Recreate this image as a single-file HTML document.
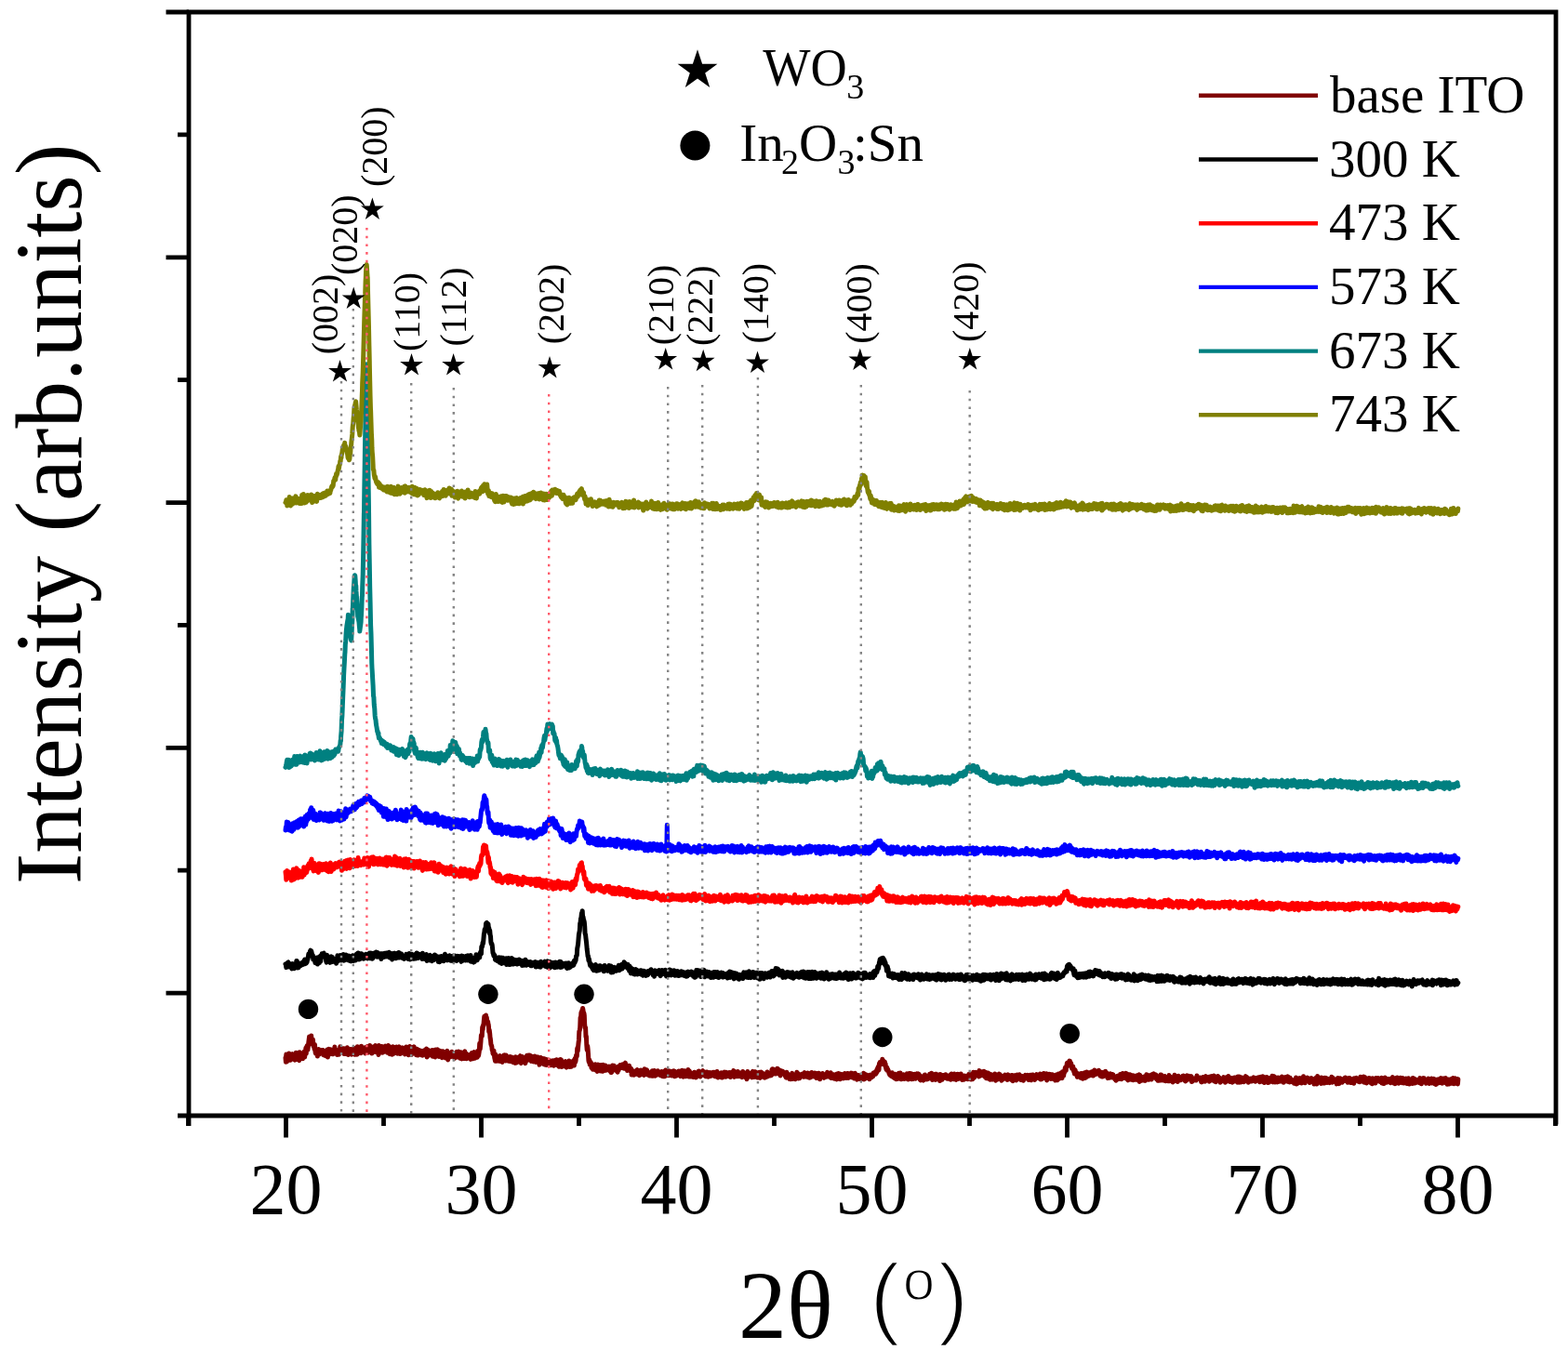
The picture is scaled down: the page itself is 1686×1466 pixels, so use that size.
<!DOCTYPE html>
<html><head><meta charset="utf-8"><title>XRD</title>
<style>
html,body{margin:0;padding:0;background:#fff;}
svg{display:block;}
text{font-family:"Liberation Serif","Times New Roman",serif;fill:#000;}
text.ss{font-family:"Liberation Sans",Arial,sans-serif;}
</style></head><body>
<svg width="1686" height="1466" viewBox="0 0 1686 1466">
<rect width="1686" height="1466" fill="#fff"/>
<g fill="none" stroke-width="5" stroke-linejoin="round" stroke-linecap="round">
<path d="M307.0 1137.6l.4 4.7 .4-8.2 .5 7.9 .4-5.5 .4 2.6 .4 1.6 .4-3.8 .5 .9 .4-4.9 .4 7.4 .4-1.3 .4-3.3 .5 4.5 .4-4.9 .4 1.7 .4-2.7 .4 .6 .5-1.2 .4 1.7 .4 1.7 .4-2.5 .4 1.4 .5 3.6 .4 .5 .4-1.8 .4-1.4 .4-4.7 .5 2.3 .4 5 .4-2.6 .4-4.2 .4 3.8 .5 1.7 .4 1.1 .4 1.3 .4-8.8 .4 4.5 .5 0 .4-3.7 .4 4.3 .4 1.5 .4-3 .5-1.5 .4 4.9 .4-2 .4-2.4 .4 2.6 .5-6 .4 6.1 .4-2.8 .4-.4 .4-6.6 .5 5.8 .4-6.8 .4-1.5 .4 3.6 .4 .9 .5-4.1 .4-4 .4-3.2 .4-3.1 .4 3.3 .5-.8 .4 .5 .4-3.2 .4-.7 .4 4.4 .5 1.5 .4 3.3 .4-5.2 .4 4.5 .4 3.3 .5-1.9 .4 4.7 .4-5.1 .4 6.7 .4 2.7 .5-.8 .4 1.4 .4-.3 .4-3.9 .4 6.7 .5-7.2 .4 4.9 .4-5.1 .4 5.7 .4-3.4 .5 .3 .4 .3 .4 1.6 .4-2.6 .4 1.8 .5-2.8 .4 1.3 .4 1.6 .4-2.9 .4 5 .5-3.1 .4 3.5 .4-1.4 .4-.9 .4 2.8 .5-2.2 .4 1.4 .4-2.2 .4-.7 .4-2.8 .5 8.2 .4-7.6 .4 .5 .4-1.6 .4 3.6 .5 1.8 .4-.6 .4-4.5 .4 2.4 .4 .5 .5 .4 .4-.4 .4 2.2 .4-.9 .4 .8 .5-3 .4 .2 .4-1.1 .4-3.8 .4 3.4 .5-.6 .4 .3 .4 1 .4-.6 .4 4.9 .5-1.1 .4 .2 .4-.4 .4-.2 .4 1.2 .5-1.3 .4-1.8 .4-5.2 .4 3.9 .4-.1 .5-2.5 .4 3.2 .4 1.3 .4-3.3 .4 3.2 .5-1.5 .4-2.2 .4 5.7 .4-4.4 .4 .6 .5 3.9 .4-5.8 .4 5.4 .4-5.7 .4 1.9 .5-2.6 .4 7.2 .4-4.4 .4 5 .4-3.7 .5 1.9 .4-1.4 .4-2 .4-.7 .4 5.1 .5-5.4 .4 5.8 .4-.9 .4-2.8 .4 .9 .5-1.7 .4-.5 .4 2.3 .4-4.2 .4 5.2 .5 1.8 .4-6.5 .4 4.7 .4-3 .4-1.7 .5 6.4 .4-8.5 .4 3.1 .4 3.5 .4-3.6 .5 4.1 .4-2.3 .4 1.4 .4-0 .4-3.8 .5 4.6 .4-7.4 .4 3.7 .4-.4 .4 2.1 .5-4.3 .4 .7 .4 2.4 .4-1.6 .4 3 .5 .3 .4 1.8 .4-2.7 .4-.4 .4-3.6 .5 5.7 .4-4.5 .4-1.9 .4 6.6 .4-2.2 .5 1.8 .4-2.6 .4 1.4 .4-6.2 .4 1.8 .5 3.7 .4 0 .4-2.2 .4 5.3 .4-5.7 .5 2 .4-3.3 .4 5.7 .4-4 .4-.5 .5-1.1 .4-.3 .4-1.1 .4 4.8 .4-1.6 .5 3.9 .4-0 .4-.6 .4-.7 .4 1.6 .5 2.4 .4-9.9 .4 1.7 .4 1.1 .4-2 .5 5 .4-2.5 .4-1.2 .4 2 .4-3.1 .5 6.7 .4-1.5 .4 .4 .4-5 .4 2.5 .5 2.6 .4-5.7 .4 1.8 .4-2.3 .4 1.8 .5-.6 .4 1.7 .4 2.1 .4 2.1 .4-4.6 .5-3.2 .4 7.5 .4-5.8 .4-.2 .4 7.8 .5-1.9 .4-2.7 .4-1.8 .4 1.4 .4 .5 .5 5.1 .4-4.8 .4-3.8 .4 7.9 .4-2.7 .5-1.9 .4-1.4 .4 1.4 .4-2.3 .4 5.7 .5-2.1 .4-4.2 .4 6.7 .4-.3 .4 .7 .5-1.5 .4-1 .4-3.7 .4-1.2 .4 .6 .5 7.2 .4-2.4 .4 2.1 .4-5 .4 3.9 .5-5.3 .4 .9 .4-.8 .4 3.3 .4 .4 .5-1.2 .4-0 .4 .7 .4 3.7 .4-5.5 .5 4.6 .4-7 .4 2.6 .4 1.8 .4 1.5 .5-2.9 .4 .7 .4 5 .4-3.4 .4-1.1 .5-4.6 .4 1.3 .4 1.2 .4-.4 .4 6.9 .5-7.1 .4 1.3 .4-2.3 .4 6.7 .4-5.6 .5-.6 .4-1.2 .4 2.5 .4 2.9 .4 2.2 .5-4 .4-.1 .4 5.5 .4-2.3 .4-4.2 .5 5.3 .4 1.4 .4-5.7 .4 4.2 .4-4 .5 3.2 .4-.2 .4-.9 .4 .3 .4 .2 .5-1.8 .4 4.8 .4-4.5 .4 4.7 .4-3.5 .5-0 .4-1.4 .4-.5 .4 1.4 .4 1.3 .5-.6 .4-2.1 .4 4.3 .4-6.2 .4 8.9 .5-2.3 .4 1.2 .4-1 .4-5.3 .4 2.7 .5 .2 .4 2.5 .4-4.3 .4 3 .4-3.2 .5 2 .4 .4 .4-.1 .4-3.2 .4 6.8 .5-.9 .4-.1 .4-1.4 .4 2.7 .4-.6 .5 1 .4-8.1 .4 2.2 .4 .7 .4 .6 .5-2.5 .4-1 .4 2.6 .4 2.9 .4-2.3 .5 4.4 .4-4.3 .4-1.9 .4 5.5 .4-4 .5 .4 .4-1.5 .4 5.5 .4 1.5 .4-2.9 .5-4 .4 4.7 .4-4.3 .4 .9 .4 2.4 .5-1.1 .4-0 .4 4.7 .4-6.5 .4 3.3 .5-3.4 .4-1.2 .4 3 .4 6.6 .4-2.1 .5-.5 .4-4.8 .4 4.4 .4-1.9 .4 1.5 .5 .1 .4-2.9 .4 .3 .4-2.7 .4 3 .5 1.3 .4-2.8 .4 .6 .4-.5 .4 2.2 .5 3.2 .4-.9 .4-2.5 .4 2.5 .4-5.2 .5-.7 .4 1.7 .4-1.4 .4 5.1 .4-1.8 .5-4.1 .4 5.9 .4-1.4 .4-.2 .4 2.9 .5-.1 .4-5.6 .4-.6 .4 7 .4-6.4 .5 4.6 .4-3.1 .4-.7 .4 2.1 .4 3.1 .5-6.6 .4-1.1 .4 5.7 .4-2 .4-1.6 .5 5.9 .4-5.1 .4 3.5 .4 .4 .4-1.2 .5-1.6 .4 2.8 .4 .3 .4-3.3 .4 1.9 .5 .5 .4 2.4 .4-1.6 .4 1.1 .4-6.5 .5 3 .4 .8 .4 2.5 .4-4 .4-.7 .5-2.4 .4 3.3 .4 3.4 .4-5.4 .4 1.8 .5-1.7 .4 1.6 .4-.9 .4 3.5 .4-6.6 .5 .9 .4 3.9 .4-1.9 .4-2.8 .4-8.4 .5 6.2 .4-3.8 .4-4.6 .4-6.4 .4-.8 .5 1.5 .4-9.6 .4 2.7 .4-4.9 .4 .6 .5-6 .4-4 .4 2.7 .4-3.2 .4 1 .5-1.7 .4 2.9 .4-.3 .4 3.6 .4 .6 .5-0 .4 2.8 .4 1.8 .4 6.4 .4-2 .5 4 .4 4.8 .4 1.9 .4 4.6 .4 1.2 .5 1.2 .4 4.1 .4-.6 .4 4.1 .4 .7 .5-3.9 .4 3 .4 4.5 .4 1.9 .4 1.9 .5-6.9 .4 6.9 .4-0 .4-0 .4-1.8 .5-.2 .4 1.1 .4-.6 .4 1.4 .4-4 .5-.2 .4-1.3 .4 5.9 .4-.6 .4-3.9 .5 4.4 .4-4.6 .4 5.6 .4-5.1 .4-.3 .5 .3 .4-2.4 .4 1.1 .4-1.1 .4 .6 .5 5.4 .4-.7 .4-5.3 .4 4.5 .4-.3 .5-1.8 .4 .4 .4 .1 .4 3.5 .4-3.4 .5 .1 .4 3.4 .4-4.9 .4 3.2 .4-1.1 .5 3.2 .4-4.9 .4 1.1 .4-.3 .4 4.3 .5 .6 .4-3.3 .4 1.8 .4 .4 .4 .7 .5 1.1 .4-6.6 .4 6.6 .4-4.3 .4-1.2 .5-.4 .4 5.2 .4-4.3 .4 2.7 .4-3.5 .5 .4 .4-.6 .4-.7 .4-.9 .4 5.2 .5 2.7 .4-6.5 .4-.3 .4 .3 .4-.5 .5 3.5 .4-.6 .4-.9 .4 4 .4-.9 .5 .4 .4 1.5 .4-3.2 .4-2 .4-2 .5-1 .4 4.2 .4 .7 .4-2.2 .4-3.2 .5 1.6 .4 3.3 .4-4.8 .4 1.7 .4 1.1 .5 2.1 .4 1.5 .4-5.4 .4 3.8 .4-.7 .5-.7 .4 1.7 .4 1.8 .4-4.3 .4 1.7 .5-3.3 .4 3.6 .4 2.1 .4 .7 .4-2.9 .5-2.2 .4 2 .4-.7 .4-1.7 .4 4.1 .5 1.5 .4 1.3 .4 1.4 .4-5.4 .4-.6 .5-1.7 .4 3.6 .4 2.3 .4-4.2 .4 3.8 .5-.8 .4-3.6 .4 3.8 .4 2.2 .4-1 .5-4.9 .4 5 .4 1.5 .4-5.7 .4 .1 .5 5.9 .4-5.8 .4 .7 .4 1.7 .4-1.8 .5 1.2 .4-1.1 .4 .8 .4 1.3 .4 .5 .5-2 .4 4.8 .4-1.4 .4 1.1 .4-3.4 .5 2.9 .4-3.3 .4-.8 .4 3 .4 2.4 .5-2.7 .4-1.7 .4-1.3 .4 3.7 .4-0 .5-.1 .4-4.5 .4 6 .4-2.3 .4-2.1 .5 .9 .4 4.3 .4 .6 .4-7.2 .4 2.4 .5 2.6 .4-5.4 .4 .2 .4 .4 .4 7.4 .5-2.3 .4-2.4 .4 3.3 .4-2.5 .4 3.1 .5-3.4 .4 1.2 .4-0 .4-1.6 .4-1.3 .5 5.9 .4 .5 .4-4.7 .4 2.1 .4 1.8 .5-4.5 .4 4.4 .4-1.2 .4-4.8 .4 1 .5 5.3 .4-1.3 .4-4.2 .4 4.6 .4 .6 .5-3.9 .4 2 .4-2.5 .4-.7 .4-1.1 .5 3.6 .4 1.5 .4-3.9 .4-3.5 .4 4 .5-1.7 .4-5.6 .4 .9 .4-0 .4-8.6 .5 2.8 .4-4.2 .4-4.2 .4-3.3 .4-9.2 .5-1.6 .4-2.6 .4-10.9 .4 2.1 .4-7.4 .5 1.1 .4-3.4 .4 .4 .4-2.8 .4 2 .5 5.2 .4-2.1 .4 2.7 .4 10.1 .4 3.5 .5-.5 .4 10.2 .4-.8 .4 9.4 .4 5.1 .5-4.3 .4 3.3 .4 5.5 .4 7 .4 1.7 .5-2.5 .4 5.1 .4-3.2 .4 1.1 .4-.1 .5 5.6 .4 .4 .4-1.6 .4-2.2 .4 5.2 .5-2.5 .4-2.2 .4 2.8 .4-.7 .4 2.3 .5-5.1 .4 6.3 .4-1 .4-4.1 .4 4.7 .5 1.7 .4-2.3 .4-5 .4 3.1 .4-.2 .5 3.8 .4-3.7 .4-2.3 .4 5.3 .4 .8 .5-3 .4-3.4 .4 5.3 .4 .1 .4 1.4 .5-7.1 .4 3.4 .4-1.1 .4-1.3 .4 5.3 .5-2.1 .4-3.5 .4 1 .4 4.3 .4-1.6 .5-1 .4 2.2 .4-3.2 .4 2.7 .4 .4 .5-3.8 .4 3.6 .4 1.3 .4 .4 .4-.6 .5 1.8 .4-.5 .4 .4 .4-4 .4-3.3 .5 1.4 .4 .8 .4-.5 .4-1.5 .4 3.3 .5-2 .4 1.5 .4 2.2 .4 .1 .4-.1 .5-1.8 .4 1.1 .4 2.7 .4-4.9 .4-1.1 .5 3.6 .4-2.6 .4-1.6 .4 1.2 .4-2.2 .5 3 .4-2.8 .4-.3 .4 .9 .4 .2 .5-1.8 .4 2 .4 2.2 .4-2.3 .4 2.6 .5-.4 .4-4.7 .4-1 .4 5.9 .4-4 .5 1.3 .4 1.7 .4 3.4 .4-4 .4 1.6 .5-.2 .4 2 .4-4.6 .4 4.9 .4-.4 .5 1.1 .4-2 .4-.4 .4 6.5 .4-1.2 .5 .9 .4-.3 .4 .3 .4-3.7 .4 4.2 .5-2.6 .4-.2 .4 1.7 .4-2.7 .4 2.8 .5-1.7 .4-2.5 .4-.3 .4 3.8 .4-2.7 .5 4 .4-3.7 .4-.5 .4 5.1 .4-2.4 .5 1.9 .4-.6 .4-4.5 .4 .8 .4 1.5 .5 2.1 .4-3.1 .4 2.6 .4-2.4 .4-.3 .5 4.1 .4-6.7 .4 1.8 .4 4 .4-0 .5-2.3 .4-0 .4-2.5 .4 2.6 .4 2.8 .5-2.9 .4 .5 .4 2.2 .4 .1 .4 1 .5-0 .4-1.2 .4-2.4 .4 .7 .4-1.6 .5 4.8 .4-5.6 .4 2.1 .4 3.5 .4-3.7 .5 2 .4-4.1 .4 2.2 .4 3.6 .4-1.4 .5-1.8 .4 1.3 .4 .2 .4 .4 .4-.4 .5-3.8 .4 .5 .4 3.1 .4-.1 .4-.7 .5-.9 .4-.4 .4 3.4 .4-3.3 .4 2 .5-2.9 .4 4.9 .4-4.1 .4 .8 .4 3.6 .5-4.9 .4-.3 .4 5.2 .4-0 .4-3.7 .5-3 .4 4.9 .4-3.4 .4 .3 .4 3.8 .5-1.4 .4-.3 .4-3.2 .4 2.1 .4 2.9 .5-3.5 .4-1.1 .4 2 .4-1.1 .4 .7 .5 3.3 .4-3.5 .4-0 .4 .1 .4-1.6 .5 .8 .4-1 .4 4 .4 1.9 .4-5.4 .5 5.2 .4-.5 .4-2.3 .4 2.4 .4-1.4 .5-1.2 .4-.3 .4 1 .4 .3 .4-3.4 .5 3.6 .4-1.4 .4 1.2 .4 2.1 .4-4.9 .5 2.1 .4-.9 .4-2.6 .4 4.9 .4 .3 .5 1.6 .4-3.2 .4-.6 .4 3.1 .4-5.7 .5 1.1 .4 4.9 .4-5.4 .4 1.8 .4 2.6 .5-2.9 .4-2.2 .4 5 .4-6.1 .4 7.4 .5-5 .4-.8 .4 3.6 .4-1 .4 3.4 .5-.6 .4-2.3 .4 .5 .4-1.4 .4 2.7 .5-2 .4 3.4 .4-1.3 .4-.8 .4-3 .5 .6 .4 1.1 .4 2.3 .4 1.6 .4-1.7 .5-3.1 .4 2.1 .4-.2 .4-.1 .4-3.6 .5-.2 .4 4.4 .4-2.6 .4 3.1 .4 .9 .5-1.1 .4-2 .4-1.4 .4-.9 .4-.3 .5-.5 .4 2.3 .4 2.5 .4-1.7 .4-1.7 .5 1 .4 1.1 .4 2.5 .4-2 .4-2.6 .5 2 .4-2.1 .4 5 .4-.7 .4-1.2 .5 2 .4-1.3 .4 .7 .4-4 .4 .9 .5 3.2 .4-.3 .4-3.3 .4 1.2 .4-.5 .5-.5 .4 2.1 .4-3 .4 .1 .4 .3 .5 3.7 .4-1.2 .4 .6 .4 1 .4-4.9 .5 2.1 .4-2.4 .4-.1 .4 5.6 .4 .8 .5-3 .4 .3 .4 1.6 .4 .5 .4-.1 .5-.1 .4-3.1 .4 2.2 .4-3.4 .4 5.2 .5-5.1 .4 5 .4-4.6 .4 .1 .4-.1 .5 .8 .4-2 .4 1 .4 4 .4 .1 .5-4.9 .4 3.3 .4-1.2 .4 1.1 .4 .8 .5-2.4 .4 1.8 .4 .2 .4-3.5 .4 4.5 .5-3.2 .4 3.8 .4-2.3 .4-2.6 .4 3.9 .5-2.4 .4 .8 .4-.7 .4 1.3 .4-4.9 .5 4.2 .4 2.6 .4-3.9 .4-1.7 .4 3.1 .5 .2 .4 .6 .4-1.5 .4 2.5 .4-.1 .5-5.2 .4 3.4 .4 1.3 .4-3.7 .4 4.4 .5-1.8 .4 .1 .4-1.2 .4-.6 .4-.4 .5 3 .4 1.7 .4-.8 .4-5.2 .4 .3 .5 3.1 .4 .8 .4-.2 .4 1.7 .4 .3 .5 .5 .4-4 .4 1.3 .4 4.4 .4-4.3 .5-4.1 .4 6.4 .4-1.9 .4-2.9 .4 2.2 .5-.8 .4 1.5 .4-2.3 .4 2.7 .4-.9 .5 1.7 .4 .7 .4-5.8 .4-.5 .4 4.6 .5-1.1 .4 2.5 .4-2.6 .4-3.1 .4 .2 .5 5.3 .4-5.2 .4 4.4 .4-1.3 .4 1.9 .5 .9 .4-3.1 .4 .2 .4 1.7 .4-3.1 .5-1.4 .4 .5 .4 5.6 .4-.6 .4-4.8 .5-.9 .4 4 .4-1.6 .4-.5 .4-.5 .5 1.7 .4 .1 .4 2.3 .4-.9 .4 1.5 .5-1.2 .4 .8 .4-3.6 .4 1.2 .4-1.6 .5-1.8 .4 5.1 .4-3.9 .4 1.1 .4 1.1 .5-.3 .4-1 .4 .5 .4 1.3 .4-.2 .5-.5 .4 .4 .4-6 .4 2.7 .4-3.5 .5 .3 .4-.1 .4 4.9 .4-3.4 .4 .7 .5 2 .4 .1 .4 .7 .4-2.6 .4 .4 .5 1.5 .4-5 .4 3 .4-2.5 .4 2.7 .5-.8 .4 3.6 .4-3.3 .4-.8 .4 5.7 .5-4 .4-1.1 .4 1.6 .4 .7 .4-2 .5 .2 .4 2.2 .4-.8 .4 1 .4 .3 .5-.7 .4 2.9 .4-1.6 .4 3.1 .4 .3 .5-5.7 .4 1.2 .4-0 .4 1.4 .4 1.1 .5 2.3 .4-.5 .4 1.7 .4-2 .4-.1 .5 2.3 .4-2.6 .4-2 .4-.5 .4-1.2 .5 6.1 .4-2.8 .4-1.4 .4 3.8 .4-1.2 .5-2.6 .4 3.3 .4 1.2 .4-5 .4 .7 .5-1.2 .4-2 .4 3.2 .4-2.3 .4 .6 .5 5.3 .4-.9 .4-1.1 .4 1.7 .4-.9 .5-.8 .4-1.5 .4-1 .4 .7 .4-.6 .5-.6 .4 2.4 .4 .5 .4-1.1 .4 1.4 .5-2.6 .4-2.1 .4 2 .4 .1 .4 1.9 .5-1.1 .4 1.7 .4-3.1 .4 2.3 .4-3.5 .5 4.4 .4 .5 .4 .2 .4 .1 .4-3.7 .5 3.6 .4-1.3 .4-2.8 .4-1.2 .4-.2 .5 4.5 .4-.2 .4-.3 .4-.1 .4-1 .5-1.8 .4 3.4 .4-4.1 .4 3.7 .4-3.1 .5 .9 .4 4 .4-0 .4-1 .4-4 .5 1.4 .4 .3 .4-1.8 .4 .3 .4 .3 .5 5.9 .4-5 .4 .6 .4-.7 .4 2.4 .5 .3 .4-0 .4-3.9 .4 1.1 .4 1.8 .5 .9 .4 1 .4-3.5 .4 1.4 .4-.6 .5 .5 .4-1.3 .4 2.5 .4-3.6 .4-1.3 .5 3.1 .4-1.7 .4 1.5 .4 1.7 .4-2.2 .5 1.2 .4 1.5 .4-1.1 .4-3.6 .4 5.8 .5-2.1 .4-1 .4 .6 .4 1.4 .4 1 .5-3.8 .4 4.1 .4-2.5 .4 3 .4-.7 .5-3.8 .4 .7 .4-.9 .4 5.3 .4-5.9 .5 1.7 .4 2 .4-.3 .4-4 .4 2.7 .5-.3 .4-.1 .4 4 .4-5.4 .4 3.3 .5-2.4 .4 3.6 .4-2.4 .4-1.6 .4 .1 .5 1.7 .4 2.3 .4-4.7 .4 4.2 .4-4.9 .5 1 .4 3 .4-2.8 .4 3.9 .4-4.9 .5 3.3 .4 .5 .4-4 .4 5 .4-3.5 .5 1.4 .4-2.1 .4 3.2 .4-1.7 .4-1.2 .5-1.5 .4 4.6 .4-4.4 .4 1.6 .4 1.5 .5-.7 .4 1 .4-1.1 .4 3.3 .4-5.3 .5-.2 .4 1.2 .4 1.3 .4 .6 .4 1.7 .5 1.9 .4-4.3 .4 3.3 .4-2.1 .4-1.5 .5 .1 .4 3.9 .4-3.5 .4 3.1 .4-1.5 .5 2 .4-4 .4 1.4 .4 2.2 .4-4.4 .5 4.1 .4-.9 .4-4.7 .4 6.8 .4-4 .5 .7 .4 .3 .4 1.9 .4-4.3 .4 .4 .5 2.1 .4-.4 .4-1 .4 1.6 .4 1.3 .5-.3 .4-2.9 .4 4.2 .4-1.2 .4-.7 .5-2.7 .4 .9 .4-.2 .4 1.9 .4-.7 .5-.6 .4 .3 .4-3.7 .4-.3 .4 .3 .5 .1 .4 .4 .4-1.6 .4 2.3 .4-.9 .5-.4 .4-3.6 .4 2.3 .4-3.4 .4-1.6 .5 3 .4 .1 .4-6.8 .4 2.1 .4-3.6 .5 2 .4-.3 .4-.8 .4 1.1 .4-1.4 .5-3.8 .4 5.3 .4-3.4 .4 .6 .4-.2 .5 3.7 .4-3.3 .4 2.8 .4-.4 .4 4.1 .5 1.9 .4-2.3 .4 .2 .4 3.3 .4-1.4 .5 1.4 .4 1 .4 1.8 .4 .8 .4 1.1 .5-1.7 .4 .3 .4-.4 .4 3 .4-3.5 .5-.1 .4 2.4 .4 .2 .4 2.3 .4-1.1 .5-.3 .4 2.3 .4-.8 .4-3.6 .4 3.2 .5 2.3 .4-0 .4-.6 .4-4 .4 4.5 .5-5.3 .4 .9 .4-1.8 .4 3.7 .4 1.1 .5-.8 .4-4.4 .4 6.7 .4-4.8 .4 4.8 .5-.6 .4-1.3 .4-2.4 .4 1.3 .4-2 .5 1 .4 3.7 .4-2 .4 .3 .4 .1 .5-2.4 .4 3.7 .4-3.8 .4-1.4 .4 4.7 .5-3.7 .4 5.2 .4-2.8 .4-2 .4-1.8 .5 5.3 .4-4 .4-1.1 .4 2.6 .4 .7 .5 2.8 .4-5.8 .4 4.8 .4-1.2 .4 1.9 .5-4.6 .4-.1 .4 1.6 .4-2 .4 1 .5 3.8 .4-.8 .4-4 .4-.4 .4 1.3 .5-.5 .4 1.3 .4-2.2 .4 .9 .4-.2 .5 1.7 .4 3.8 .4-4 .4 4.8 .4-3.4 .5 1.9 .4 .1 .4-1.1 .4 1 .4-.9 .5 2.6 .4-2.2 .4-2.1 .4-1.6 .4-.2 .5 3.2 .4-2.5 .4 .4 .4 4 .4-.9 .5-2.2 .4 2.7 .4-2 .4-.6 .4 2 .5-1.7 .4-3.2 .4 1.2 .4 2.7 .4-3.6 .5 4.3 .4-5.6 .4 5.4 .4 1.9 .4-3.2 .5-2.4 .4 4.9 .4-2.5 .4 1.8 .4-3.5 .5-1.2 .4 6 .4-4.8 .4-1.4 .4 4.7 .5-1.8 .4-0 .4-.8 .4 1.1 .4 .4 .5-0 .4-.6 .4 4.3 .4-7.1 .4 3.7 .5-3 .4 .6 .4 .5 .4 4 .4-2.2 .5-2.1 .4 1.9 .4-.7 .4 1 .4-2.8 .5 1.4 .4 1.4 .4-3.3 .4 .2 .4 3.2 .5-2.4 .4 3.4 .4-2.8 .4 .3 .4 2.6 .5-3.2 .4 .6 .4-.7 .4 .2 .4-1.1 .5 5.1 .4-3.1 .4-3.1 .4 5.8 .4-4.4 .5 3.7 .4-.5 .4-.1 .4 1.3 .4-5.7 .5 .7 .4 1.3 .4 .6 .4-1 .4 4.7 .5-6 .4 2.2 .4 1.6 .4-3.9 .4 5.2 .5-2.6 .4 1 .4-2.4 .4 .1 .4 1.5 .5 1.1 .4-4.3 .4 2.5 .4 1.4 .4 2.7 .5-3 .4 1.4 .4-1.9 .4-.5 .4 3.7 .5-4.3 .4 3.9 .4-1.8 .4 1 .4-2.2 .5 2.5 .4-.8 .4-2.4 .4-.3 .4 3.9 .5-3.6 .4 2.3 .4-4.1 .4 2.1 .4 .2 .5-.9 .4-1 .4 5.3 .4-2.3 .4-2.5 .5 2.1 .4 2.4 .4-2.7 .4-4.8 .4 2.3 .5 3.7 .4-2.7 .4-1.1 .4-1.7 .4-.4 .5 .4 .4 .5 .4 2.2 .4-2.1 .4 2.4 .5-3.1 .4 1 .4 3.4 .4-6.4 .4 4.3 .5 .5 .4-3.4 .4 4 .4-4.1 .4 3.2 .5-3.4 .4 2.7 .4-1.3 .4 2.4 .4-.2 .5-4 .4 5.2 .4-.8 .4 1.6 .4-5.1 .5 2.9 .4 3.6 .4-1.8 .4-2 .4 1.1 .5 2.8 .4-5.8 .4 6.3 .4-2.6 .4 2 .5-2 .4 3.5 .4-5.7 .4 1.5 .4 2.4 .5 1.5 .4-3.5 .4-1.2 .4 4.7 .4-2.1 .5-2.3 .4-.6 .4 1.9 .4-2.8 .4 5.8 .5 1.3 .4-1.5 .4 .2 .4-3.7 .4-.6 .5 4.4 .4-1.1 .4-0 .4-3.4 .4-1.3 .5 3.1 .4-2.4 .4 1.5 .4 1.3 .4-1.5 .5 5.1 .4-5 .4 1.2 .4 2.7 .4-1 .5-2.3 .4 1.7 .4-2 .4-.3 .4-1.2 .5 4.3 .4-1.3 .4-0 .4 .9 .4-.5 .5 2 .4-3.2 .4-2.3 .4 2 .4-.3 .5 1.7 .4-.9 .4-.7 .4-.1 .4 2.6 .5 1.2 .4-5 .4 4.3 .4-4.1 .4 6.1 .5-4.6 .4 1.6 .4 .5 .4-3.4 .4 3.3 .5-3.4 .4 2.6 .4-.5 .4 3.1 .4-5 .5-.8 .4 3.6 .4-2.2 .4 1.2 .4-1.7 .5 2.2 .4-3.5 .4 3.4 .4 1.1 .4 1.1 .5-4 .4 .8 .4 3.4 .4-4 .4 3.4 .5-.9 .4 2.3 .4-3.8 .4-.3 .4-0 .5-1.2 .4-.7 .4 3.1 .4-1.1 .4 1.1 .5 .6 .4-1.7 .4-1.9 .4 4.2 .4 .8 .5-3.4 .4 2.2 .4-2.5 .4 2.5 .4-3.9 .5 5 .4 .4 .4-5.4 .4 3.4 .4-2 .5-1.7 .4 4.1 .4-.1 .4 .1 .4-.2 .5 1.5 .4-4 .4 1 .4-1.4 .4 1.5 .5-2.9 .4 1.5 .4 1.9 .4-1.2 .4 1.3 .5 .7 .4-.1 .4-1.8 .4 .2 .4-3.1 .5 6 .4-0 .4-4.4 .4 2.6 .4-.5 .5 1.4 .4-1.1 .4-2.1 .4-2.5 .4 1.9 .5-.4 .4 2.8 .4-2.3 .4 3.2 .4 .4 .5-5.2 .4 7.1 .4-1.1 .4-3.9 .4 .8 .5-1.3 .4 1.7 .4-2.9 .4 3.7 .4-3.2 .5-.1 .4 4.8 .4-.3 .4-1.5 .4 1.6 .5-4.5 .4 .2 .4 1 .4 3.6 .4-1.1 .5-.6 .4-1.9 .4 1.6 .4 3.6 .4-4.2 .5-1.9 .4 2.9 .4 2.3 .4 .5 .4-6.2 .5 .3 .4-.7 .4 2 .4 3.2 .4-3.3 .5-.3 .4 1.3 .4-3.9 .4 2.8 .4 2 .5 .6 .4-6.7 .4 1.5 .4-1.3 .4 4.1 .5-4.2 .4 .8 .4-3 .4-2.3 .4 1.7 .5 1.3 .4-4.4 .4-1.7 .4-2 .4-.3 .5-0 .4 1.2 .4 1 .4-2.8 .4-1.3 .5 .1 .4 5.4 .4-2.4 .4-.8 .4 3.5 .5 2.3 .4-1.9 .4 .1 .4-.3 .4 2.5 .5 2.9 .4 .1 .4 2.4 .4-4.5 .4 .8 .5 3.1 .4 .4 .4 .9 .4-0 .4 2.7 .5-2.8 .4-.9 .4 2.6 .4-1.1 .4 .9 .5 .4 .4 1.2 .4 .5 .4-2.4 .4-2.3 .5 3.1 .4-1.4 .4 2 .4 2.1 .4-5.8 .5 5 .4-5.4 .4 3.9 .4-4.2 .4 5.8 .5-4.2 .4-1 .4 4.1 .4-5.6 .4 1.5 .5 1.5 .4-2 .4 1 .4 2.5 .4-3.6 .5 2.5 .4-2.3 .4 2.5 .4-3 .4 .8 .5 .7 .4-2.1 .4 2.7 .4-2.5 .4 4 .5-.1 .4-4.9 .4 3.5 .4-4.7 .4 1.4 .5 2.3 .4 .8 .4-1 .4-.6 .4-.4 .5 .1 .4 1.4 .4-1.2 .4-2.2 .4-.2 .5 1 .4 3.5 .4-1.3 .4 2.8 .4-3.4 .5 1 .4-1.5 .4 4.6 .4-4.5 .4 2.2 .5 2.2 .4-1.3 .4-1.3 .4-.6 .4 1.1 .5-3.3 .4-.1 .4 1.5 .4-.5 .4 2.2 .5 .1 .4 3.1 .4 .8 .4-4.8 .4 3.3 .5 .7 .4 .4 .4-4.1 .4-.2 .4 1.2 .5 .8 .4-1.4 .4 1.4 .4 2 .4-3.5 .5 .7 .4-.1 .4 2.2 .4-1.2 .4 1.4 .5 2.4 .4-1.1 .4-.2 .4 2.7 .4-.8 .5-3.5 .4 .9 .4-1.4 .4 1 .4 2.4 .5-2.4 .4-1.6 .4 1.6 .4-.1 .4-2.8 .5 1.4 .4-1.4 .4 5.3 .4-1.3 .4-2.4 .5-2.6 .4 1.5 .4-.2 .4 3.6 .4-4.4 .5 2 .4-.1 .4-.3 .4-.6 .4-1.6 .5 6 .4-5.3 .4 .6 .4 5.3 .4 .8 .5-1.8 .4-4 .4 .6 .4-.5 .4-.3 .5 3.4 .4-3 .4 5.1 .4-2.9 .4-1.3 .5-.3 .4 2.9 .4 2 .4-1.9 .4-2.8 .5 3.7 .4-2.2 .4 1.2 .4 1.5 .4-1.8 .5-2.4 .4 4.2 .4-4.4 .4 4.7 .4-1.9 .5-.8 .4-2.4 .4-.4 .4 7.4 .4-7.1 .5 .9 .4 1.3 .4 3.9 .4-2.6 .4 2 .5-1.7 .4 1.3 .4-1.2 .4 1.7 .4-.6 .5-3.2 .4 2.6 .4-1.1 .4 2.8 .4-2.7 .5-1.4 .4-2.5 .4 4.5 .4-4.4 .4 3.9 .5-2 .4 2.1 .4 1.4 .4-2.7 .4 .5 .5-.6 .4-2 .4 3.9 .4-.1 .4 .6 .5-2.4 .4-2.9 .4 3.8 .4-2.5 .4 .7 .5-2.7 .4 3.6 .4 .4 .4-1.2 .4 .2 .5-2 .4 3.4 .4 1.4 .4-1.1 .4 .3 .5 2.3 .4-3 .4 3.1 .4-.2 .4-2.2 .5-2.5 .4 1.3 .4-2.6 .4 5.9 .4-6.1 .5 1.3 .4 1 .4 3.2 .4 .5 .4-.3 .5-.1 .4-3.8 .4 3.8 .4-4 .4 1.2 .5 4.1 .4-1 .4-.5 .4 .8 .4-3.1 .5 .3 .4 3.5 .4-2.5 .4 2 .4-5.7 .5 6.2 .4-2.8 .4-2 .4 2.1 .4 2.2 .5-1.4 .4 2.2 .4 .1 .4-3.6 .4 4.3 .5-1.8 .4-2.8 .4-1.2 .4-1.8 .4 2.5 .5 3.6 .4-4.8 .4 .4 .4 4.6 .4-.9 .5-2.5 .4 4.2 .4-3.6 .4-2.5 .4 2.2 .5-.6 .4 2.1 .4-2.4 .4 1.3 .4 1.8 .5-1.8 .4 .8 .4-1.5 .4-.1 .4-1.9 .5 3.6 .4-3.7 .4 3.6 .4 .3 .4 1.3 .5-.4 .4 1.1 .4-4.6 .4 .8 .4-.4 .5-1.9 .4 4.1 .4 .1 .4-1.4 .4-1.3 .5-1 .4 .8 .4 2.3 .4-2.7 .4 1.3 .5 .8 .4-2.3 .4 5.9 .4-2.1 .4 1.7 .5-1.7 .4 .4 .4-1.8 .4 1.8 .4-1.1 .5 .3 .4-1 .4 1.9 .4 .1 .4-1.4 .5-3.6 .4 1.4 .4 1.5 .4 .1 .4-1.2 .5 .5 .4 .4 .4 .8 .4-.7 .4-.6 .5 2.3 .4 2 .4-2.4 .4 2.8 .4-1.1 .5-.4 .4-3.9 .4 3 .4-2.6 .4 2.3 .5-1.7 .4 3.8 .4-4.1 .4-1.6 .4 3.3 .5-2.5 .4 3.2 .4-1 .4-1.9 .4-.2 .5 .3 .4-.4 .4 4.8 .4-1.6 .4-0 .5-1.5 .4-2.3 .4 .8 .4 3.4 .4-.9 .5-3.5 .4 2.5 .4 .5 .4 .7 .4-4.2 .5 5.9 .4-2.4 .4-.5 .4-1.5 .4 5.1 .5-4.7 .4-.5 .4 4.1 .4-2 .4-3.2 .5 1.1 .4 3.3 .4-1.5 .4-.6 .4-.3 .5 4.9 .4-4.1 .4 3 .4-.2 .4-.1 .5-.2 .4-2.4 .4 2.4 .4-1.7 .4-2.4 .5 1 .4 1.1 .4-.3 .4 3.8 .4-2.9 .5 1 .4-3.5 .4-.2 .4 1.6 .4 .7 .5 1.8 .4-5.3 .4 5 .4-1.4 .4-2.1 .5 4.5 .4-3.1 .4 1.8 .4-2.6 .4 2.4 .5 1 .4 1.3 .4-4.3 .4 .1 .4 3.3 .5-.9 .4-3.5 .4 3.4 .4 .3 .4-3.5 .5 3.4 .4 .4 .4-2.4 .4 2.8 .4 .8 .5-6.1 .4 2.1 .4-.9 .4 5.1 .4-3.3 .5-2.9 .4 2.1 .4 .1 .4 3.6 .4-.9 .5-.5 .4-3.6 .4 .7 .4 .6 .4-.7 .5 4.3 .4-3.7 .4 2 .4-.5 .4-1.2 .5-2.8 .4 5.2 .4-2.2 .4-2.1 .4 2 .5-1 .4 .7 .4 4.1 .4-4 .4-.1 .5 .1 .4 1.1 .4-1.3 .4 .7 .4 2.2 .5-1.1 .4 1.1 .4-2 .4-.3 .4-1.4 .5-.5 .4 3.3 .4-1.1 .4-1.2 .4 2.2 .5 1.1 .4-1.8 .4-1.8 .4 1.7 .4 .7 .5-1.6 .4-.5 .4 1.6 .4-2.6 .4 1.2 .5 2.8 .4 .9 .4-4.8 .4-.4 .4 4.3 .5-2 .4-1.8 .4-.5 .4 2.6 .4-3.3 .5 6.1 .4-.1 .4-.3 .4 .9 .4-4.2 .5-1.1 .4 2.9 .4-1.8 .4 2.3 .4-4.1 .5 2.2 .4 2.1 .4 1.8 .4-5.1 .4 3.1 .5 1.6 .4-4.7 .4 1.6 .4 1.9 .4-1.3 .5 1.3 .4-2.4 .4-.2 .4-3 .4 3.2 .5 3.4 .4-.2 .4-5.1 .4-.9 .4 1.8 .5 4.6 .4-3.1 .4-2 .4 4.3 .4-3.1 .5 1.2 .4 1.4 .4 1 .4-4.7 .4 .5 .5 .4 .4 3.2 .4-1.9 .4 1.8 .4-3.9 .5 3.9 .4-3.1 .4 1.8 .4-3.7 .4 3.6 .5 0 .4-2 .4 4.6 .4-2.2 .4 .2 .5 1 .4-2.8 .4-1.9 .4 .9 .4 0 .5-.3 .4 2.7 .4-2.3 .4-1.7 .4 5.6 .5-.1 .4-2.9 .4-.1 .4 3.5 .4-4.6 .5 1.4 .4 2.8 .4-.6 .4 .2 .4-1 .5 1.5 .4-1.8 .4 2.7 .4-.8 .4 1.4 .5-.5 .4-1.9 .4-1.6 .4 .9 .4-3 .5 7.1 .4-1.6 .4-2.5 .4 2.6 .4 .5 .5-3.5 .4 2.2 .4-3.8 .4-.4 .4 3.4 .5-3.3 .4 1.8 .4-.4 .4 4 .4-1.5 .5-.7 .4 1.4 .4-4.2 .4-2.4 .4 1.8 .5 2.9 .4-.4 .4 2.8 .4-2.3 .4-.3 .5-.5 .4 .5 .4-2.6 .4-.5 .4 2.9 .5-1.6 .4 1.5 .4-2 .4 3.6 .4 .9 .5-3.9 .4 .3 .4-.8 .4-.4 .4 2 .5-1.5 .4 2.5 .4-1.9 .4 2.6 .4-1.7 .5 4.4 .4-2 .4-3.4 .4 1.8 .4-.2 .5-2.9 .4 4.2 .4 2.5 .4-6.3 .4-2.2 .5 3.1 .4 .6 .4 0 .4 2.3 .4-3.1 .5 3.3 .4-4.5 .4 1.5 .4 4.7 .4-6.3 .5 4.5 .4-3.7 .4-.2 .4 1.9 .4 3.3 .5-2.5 .4 2.2 .4 .3 .4-5.7 .4 1.9 .5 .7 .4-2.3 .4 3.6 .4 1.3 .4 .1 .5-1 .4-3.1 .4 1.5 .4-1.4 .4 3.2 .5 .9 .4-1.8 .4-.8 .4 1.3 .4 .1 .5-5.2 .4 4.8 .4 1.2 .4-4.9 .4 .7 .5 2.1 .4 .1 .4-.8 .4 .9 .4-1.5 .5 1.4 .4-.3 .4 2 .4 2 .4-1.7 .5-2 .4-2.7 .4 4.5 .4 .8 .4 .8 .5-1.1 .4-2.6 .4-2.1 .4 2.2 .4 1.5 .5 0 .4-.9 .4 1.7 .4-3.5 .4 1.7 .5-.1 .4 .4 .4-1 .4 .8 .4-3.5 .5-.1 .4 2.8 .4 .1 .4-.7 .4 1.4 .5-1.7 .4 3.4 .4-.2 .4-4.4 .4 3.6 .5-.7 .4-3.2 .4 .3 .4 4.7 .4-.5 .5-3.5 .4 2.9 .4 1.2 .4-1.1 .4-.4 .5 .4 .4-.1 .4 2 .4-5.5 .4 .8 .5-.4 .4 1.9 .4-2 .4 1.5 .4-2.2 .5 2.6 .4 .1 .4-1.6 .4 2.7 .4-2.3 .5 1.5 .4 .3 .4 1 .4-1.4 .4-4.1 .5 3.8 .4-1.9 .4 0 .4 1.5 .4-1.7 .5 3.1 .4 .4 .4-5.5 .4 1 .4 5.4 .5-5.7 .4 5.7 .4-1.7 .4 1.4 .4-4.3 .5 5.2 .4-4.9 .4 3.8 .4-2.3 .4-.8 .5-.5 .4-.6 .4 1.5 .4-.5 .4-.7 .5 3 .4 2 .4-1.9 .4 .8 .4 2 .5-6.1 .4 1.3 .4 1 .4-1.3 .4 2.3 .5-2 .4-.8 .4 4.8 .4-4.8 .4-.7 .5 3.7 .4-2.5 .4 2.3 .4-3.2 .4-.2 .5 .6 .4 .1 .4 .7 .4 .3 .4-.4 .5 2.9 .4-4.1 .4 3.4 .4-3.8 .4 5.7 .5-1.4 .4-.2 .4-1.3 .4 .1 .4 3.4 .5-2.8 .4-.1 .4-3.8 .4 2.6 .4 2.8 .5-1.3 .4 .7 .4 .3 .4-3.4 .4 2.8 .5-2.9 .4 .2 .4 2.9 .4-2.6 .4-.4 .5 2.1 .4 2 .4-3.7 .4 .3 .4-.5 .5-1 .4-1.1 .4 3.9 .4-2.5 .4 2.4 .5 2.8 .4-1.6 .4 1.3 .4 .7 .4-1.5 .5-1.7 .4-3.2 .4 5 .4-5.2 .4 1.7 .5 .3 .4 2.9 .4 1.2 .4-4.1 .4 .4 .5-.5 .4-1.8 .4 .7 .4 3.3 .4-1.3 .5 .5 .4 2.3 .4-5.2 .4 4.4 .4-2.4 .5 3.5 .4-4.4 .4 1.1 .4 2.8 .4-3.2 .5-1.2 .4 .8 .4 .5 .4 4.1 .4-4.3 .5 1.8 .4 2.4 .4-5.7 .4 1.8 .4 4.4 .5-2.5 .4-2.3 .4 1.4 .4-.1 .4 2.8 .5-.6 .4-3.1 .4 3.9 .4-5.8 .4 5.6 .5-5.5 .4 3.4 .4-1.4 .4 3.3 .4-2.6 .5-1.6 .4 3.3 .4-2.9 .4 2.6 .4 .3 .5-2.4 .4 1.9 .4 .6 .4-.1 .4-.9 .5 1.4 .4-5 .4 4.3 .4-.2 .4-3.2 .5 5.3 .4-1.9 .4-3.6 .4-.4 .4-.2 .5 1.2 .4 1.5 .4-2.7 .4 1.9 .4 .1 .5 1.4 .4 1.1 .4 1 .4-1.6 .4 .7 .5 .4 .4-2.4 .4-1.4 .4-.7 .4 3.7 .5 1.4 .4-.8 .4-.4 .4 .3 .4-4 .5 4.4 .4-4.9 .4 5.1 .4-1.8 .4-2.8 .5 3.2 .4-2.6 .4-.6 .4 3.7 .4 1.6 .5-2.8 .4 2.4 .4 1.2 .4-2.3 .4-1.5 .5 2.8 .4-4.4 .4 .1 .4 3 .4 .5 .5-3.7 .4 .5 .4-1.3 .4 1.1 .4 1.4 .5-3.1 .4 .3 .4 5.1 .4 .1 .4-4.4 .5 .8 .4-1.5 .4 2.3 .4-2.3 .4 3.5 .5 .9 .4-.1 .4-4.7 .4 5 .4 .6 .5-3.3 .4 4.4 .4-4 .4-1.1 .4-.2 .5 5.1 .4-.2 .4-1 .4-3.7 .4 .1 .5 3.5 .4 .2 .4 .2 .4-4.9 .4 .5 .5 2.4 .4-3.8 .4 4.9 .4 1.4 .4 0 .5-1.8 .4-4.2 .4 .8 .4 4.8 .4-2.4 .5-2.4 .4 0 .4 .1 .4 5.3 .4-5.1" stroke="#800000"/>
<path d="M307.0 1036.8l.4 .6 .4 3.2 .5-4.4 .4 3.7 .4-.1 .4-4.6 .4-.3 .5 2.5 .4 2.5 .4-.6 .4-2.9 .4 .9 .5 2.2 .4-1.2 .4 .9 .4 2.8 .4-3.2 .5-2.2 .4 .6 .4 .3 .4 1 .4 3.2 .5-.4 .4-2.8 .4 .7 .4-1.5 .4 1.9 .5-6.2 .4 0 .4 1.6 .4 6.1 .4-2.2 .5 1.9 .4-2.8 .4-1.3 .4 1 .4-.3 .5 1.5 .4-3 .4 .6 .4 .5 .4 0 .5-1.7 .4 2.3 .4-2.8 .4-.4 .4-.6 .5-.7 .4-1 .4 4.7 .4-2.1 .4 1.2 .5 .1 .4-3.9 .4 2.8 .4-2.7 .4-.2 .5-3 .4-3 .4 .2 .4 0 .4 .4 .5-3.5 .4-.9 .4 5.9 .4-5.3 .4 1.6 .5 2.6 .4 1.3 .4-.6 .4 4.4 .4-.7 .5-.1 .4 .6 .4-.3 .4 3.9 .4-4.8 .5 3.4 .4-.1 .4-4.1 .4 1.2 .4 6 .5-2.1 .4-4.6 .4 .1 .4-1.2 .4 6.2 .5-5.7 .4-1.5 .4 5.6 .4-4.2 .4-1 .5-2.8 .4 2.2 .4-.6 .4 .9 .4-2.9 .5-.3 .4 1.9 .4 2.2 .4-1.7 .4 2.6 .5-1.2 .4 4.7 .4 1.4 .4-7.9 .4 2.5 .5 3.7 .4 .7 .4-3.7 .4 1.1 .4 .1 .5 2.8 .4 .9 .4-.6 .4-.8 .4-5.2 .5 6 .4-2.1 .4-3 .4 1.4 .4 1.5 .5-1.1 .4 .4 .4 .7 .4 2.1 .4-3.2 .5 1.8 .4-1.4 .4 4.4 .4-4.4 .4 2.6 .5-6.6 .4 6 .4-2.2 .4 .6 .4-4.2 .5 4.5 .4-3.4 .4-1.6 .4 .3 .4 5.3 .5-.7 .4-3.5 .4 .4 .4 .5 .4 3 .5-6.3 .4 6 .4 .7 .4-5.2 .4 3.8 .5-3 .4 1.3 .4-3 .4 2.4 .4 1.1 .5-.5 .4 .7 .4 2 .4-4 .4-.8 .5 2 .4-.2 .4 3.6 .4-1.5 .4 .7 .5 1.2 .4-5.3 .4-0 .4 1.1 .4-1.8 .5 3.3 .4 2.5 .4-5.7 .4 .8 .4 2.2 .5-2.3 .4 4.5 .4-1.7 .4 1.1 .4-6.3 .5-.3 .4-.4 .4 5.7 .4 .1 .4-6.4 .5 7.1 .4-2.5 .4 2.3 .4-6 .4 4.3 .5-3 .4-1.4 .4 5.1 .4-4.5 .4 2.5 .5-1.8 .4 1.5 .4 2.8 .4-3.8 .4 .7 .5-.2 .4-1.2 .4 1.3 .4-1.8 .4 3.4 .5-.7 .4-2.4 .4 4.5 .4-4.6 .4 3.1 .5-.3 .4-1.8 .4-2.4 .4 5.7 .4-.5 .5-4.5 .4-.6 .4 1.9 .4 .3 .4 3.8 .5-.4 .4-.3 .4-5.2 .4 2.7 .4-1.8 .5-.9 .4 .1 .4-.5 .4 3.2 .4-4.2 .5 2 .4-.7 .4 4 .4-1.3 .4-3.1 .5 3.7 .4-.7 .4 1 .4 .3 .4-1.7 .5 .7 .4-2.4 .4 5.9 .4-2.1 .4-3.8 .5 .1 .4 .8 .4-.2 .4 0 .4 3 .5-1.7 .4-2.3 .4 2.9 .4-1.8 .4 2.6 .5-4.1 .4 .3 .4 1.3 .4-1.3 .4 3.3 .5-3.1 .4 1.5 .4-2.8 .4 5.7 .4-3.5 .5 3.1 .4-4.2 .4 .3 .4 2 .4 3.2 .5 1.1 .4-4.5 .4 3.4 .4-5.2 .4 2.5 .5-2.8 .4 1.6 .4-1.5 .4 5.4 .4-4.6 .5 4.5 .4-5.2 .4 2 .4 1.2 .4 .5 .5-3.1 .4 2.5 .4-4 .4 1.9 .4 3.6 .5-4.7 .4 2.9 .4-2.3 .4-.2 .4 .3 .5 4.1 .4-.7 .4-1.9 .4 1.2 .4 2.2 .5-1.6 .4 2 .4-.5 .4-1.7 .4 .6 .5-.4 .4-3.1 .4 2.4 .4 1.5 .4-.8 .5 .8 .4-1.6 .4 3 .4-.5 .4-5.6 .5 6.4 .4 0 .4-1.6 .4-1.7 .4-0 .5-.5 .4-1.7 .4 2.5 .4 2.2 .4-1.3 .5 .4 .4 1 .4-2 .4-2.3 .4 2.9 .5-1.8 .4 3 .4-3.8 .4-2.2 .4 5.4 .5-4.7 .4 4.8 .4-2.4 .4 2.2 .4-4.1 .5 1.8 .4 1.2 .4-1.6 .4 1.7 .4-2.5 .5 .6 .4 .8 .4 3.3 .4-6.2 .4 2 .5 3.7 .4-.4 .4-2.3 .4-1.2 .4 4.3 .5-2 .4-2.1 .4 4.6 .4-5.3 .4 6.8 .5-2.8 .4-1.1 .4 2 .4 .3 .4 .8 .5 .2 .4-4.9 .4-.4 .4 3.8 .4-2.5 .5 .6 .4 3 .4 1.2 .4-2.1 .4-1.6 .5-1.5 .4 4.2 .4-.5 .4-.1 .4-5.1 .5 2.9 .4-2.3 .4 4.1 .4-3.3 .4 .7 .5 2.1 .4-2 .4 .6 .4 4.7 .4-2.2 .5-3.2 .4 5.7 .4-4.8 .4 .7 .4-.8 .5 3.6 .4-4.8 .4 4 .4-2.4 .4 .6 .5-2.2 .4 1 .4 4.1 .4-2.6 .4-3.3 .5-1.6 .4 3 .4 1.7 .4-3 .4 .3 .5 2.1 .4 2.6 .4-3.7 .4 2 .4-2.8 .5-.2 .4 2.4 .4-2.9 .4 2.9 .4-2.2 .5 4.9 .4-.7 .4-4.2 .4 .5 .4 4.5 .5-3.1 .4-0 .4-2.4 .4 2.7 .4-.9 .5 3 .4-4.7 .4 4.5 .4-.2 .4 .2 .5 .8 .4-3.7 .4-1.3 .4 3.4 .4-3.3 .5 .2 .4 1.6 .4-1.2 .4 1.7 .4 1.9 .5-3.5 .4 4.2 .4 1 .4-6.2 .4 2.1 .5 2.4 .4-.2 .4-3.8 .4 4.3 .4-1.7 .5-1.7 .4 2.6 .4-.3 .4 1.2 .4-1.5 .5-3.2 .4 3.9 .4-1.7 .4 2.4 .4-5.2 .5 4.5 .4 .4 .4-4.1 .4-.3 .4 5.1 .5 .5 .4-6.3 .4 6.8 .4-4.4 .4 1 .5 .3 .4-.9 .4 2.8 .4-.4 .4 2.4 .5-2.5 .4 1.9 .4-3.5 .4 .5 .4-.8 .5-4 .4 5.8 .4-4.3 .4 4.5 .4-4.5 .5 2.1 .4-.4 .4-1 .4-2.3 .4 3.4 .5-4.4 .4-1.5 .4 1.7 .4 .2 .4-7.7 .5 .2 .4-1.5 .4-3.3 .4 1.1 .4-4.1 .5-6 .4-1.6 .4-3.6 .4 .9 .4 1 .5-7.6 .4-1 .4-.3 .4 1.3 .4-.5 .5 .1 .4 .7 .4 4.7 .4-.6 .4 5.5 .5-3.1 .4 4.8 .4 1.6 .4 6.5 .4 1.8 .5-.3 .4 1.4 .4 3.9 .4 4.8 .4 .2 .5 2.8 .4-.6 .4-.3 .4 .8 .4 4.2 .5 .3 .4-1.9 .4 2 .4-1.2 .4 2.2 .5-0 .4-3.3 .4 3.7 .4-.7 .4-3.6 .5 5.5 .4-1 .4-3.4 .4 1 .4-1.7 .5 6.3 .4-6.1 .4 4.2 .4-1.9 .4-2.4 .5 .8 .4 .8 .4 3.9 .4-3.1 .4-.5 .5 3.9 .4-1.9 .4-3.4 .4 6.8 .4-2.6 .5-1.8 .4-1.7 .4 3.2 .4-4 .4 6.8 .5-2.1 .4 .9 .4 1.2 .4-1.2 .4-1.8 .5 1.8 .4-5.8 .4 5.1 .4 1.4 .4-5.2 .5 .1 .4 5.3 .4-.9 .4-4 .4 2.9 .5-2.2 .4-.2 .4 3.9 .4-.8 .4 1 .5-3.7 .4 3.8 .4-.6 .4-3.8 .4 2.7 .5-3.2 .4 2.8 .4-2 .4 1.3 .4 2.8 .5 0 .4-1.7 .4-1.8 .4 5.1 .4-1.6 .5 .7 .4-.4 .4 1 .4-1.3 .4 .1 .5-4.7 .4-.1 .4 5.5 .4-.5 .4 1 .5-4.3 .4 1.7 .4 1.6 .4-1.4 .4 .8 .5-1.8 .4 2.6 .4 .4 .4 .2 .4-3.6 .5 4.3 .4-3.5 .4 1.6 .4 1.9 .4-1.6 .5-0 .4-1.9 .4 1.6 .4-1.4 .4 2.1 .5 .2 .4-1.6 .4-1.5 .4 5.5 .4-1.1 .5-3.5 .4 0 .4 2.8 .4-3.1 .4 4.3 .5-2.7 .4 2.1 .4 .9 .4-4.1 .4 3.7 .5 .6 .4-5.8 .4 3.8 .4 .3 .4-1.2 .5-.4 .4-.6 .4 2.2 .4-1.4 .4-1.1 .5-.7 .4-.9 .4 5.2 .4-.2 .4-3.4 .5 2.6 .4 .4 .4-3.5 .4-1.4 .4 6.7 .5-5.5 .4 1.1 .4 2.1 .4 3 .4-6.8 .5 3.2 .4 2.5 .4-5 .4 .2 .4 2.5 .5 1.5 .4-4 .4 1 .4 1.1 .4 .1 .5 .4 .4 2.8 .4 0 .4-5.9 .4 .8 .5 .7 .4-.7 .4-.3 .4 3.2 .4 1.5 .5-3.7 .4-.4 .4 1.9 .4-1.8 .4-1.8 .5 1 .4 5.3 .4-6.1 .4 4.7 .4-1.5 .5 2.4 .4-2.3 .4-1.2 .4 .7 .4 .2 .5-1.1 .4 1.6 .4-.9 .4 1.6 .4 .8 .5-3.6 .4 3.5 .4 1.7 .4 .3 .4-3.8 .5-1.4 .4 .4 .4-.8 .4 .7 .4 4.4 .5-.4 .4-3.8 .4 2.1 .4 0 .4 .1 .5-.5 .4 .5 .4-.4 .4-3.1 .4 2.8 .5-.7 .4-4.2 .4-.4 .4 2.3 .4-3 .5 .9 .4-4.6 .4-.2 .4-.9 .4-7.1 .5-2.7 .4-2.4 .4-4.8 .4-5.1 .4-2.1 .5-2.3 .4-7.6 .4-1 .4-4.4 .4-.7 .5-4.9 .4 2.7 .4-5.3 .4 7.4 .4-1 .5 3 .4 1 .4 1.7 .4 4.4 .4 8 .5 1.3 .4 3.7 .4 3.3 .4 4 .4 4.6 .5 3.8 .4 3.8 .4-.3 .4 4.7 .4-1.9 .5 2.7 .4 2.6 .4 2 .4-2.1 .4 .6 .5 2.7 .4-.1 .4-1.5 .4 3.7 .4 .8 .5-.7 .4 1.7 .4-1 .4-3.2 .4 3.6 .5-1.6 .4-3.8 .4 2.9 .4 3.8 .4-2.5 .5-.9 .4 3.2 .4-2.5 .4-2.3 .4 2.4 .5 1.8 .4-4.8 .4 4.5 .4-4.4 .4 1.2 .5 2.9 .4-1.5 .4 1 .4 .2 .4-.3 .5-2.7 .4 2 .4 3.2 .4-2.3 .4-4 .5 3.2 .4-.8 .4 .4 .4-.5 .4 3 .5-1.5 .4 .9 .4 1 .4-.1 .4-.7 .5-4.9 .4 .4 .4 .7 .4 1.4 .4 .6 .5-2.6 .4 7 .4-3.9 .4-1.4 .4 1 .5 4.1 .4-2 .4 1 .4-4.5 .4 4.2 .5-2.4 .4-1.4 .4 .8 .4 1.3 .4 1.5 .5-3.1 .4 .1 .4 .3 .4 1.4 .4-1.7 .5-3.1 .4 5.6 .4-.8 .4-4.5 .4 2.7 .5 1.4 .4-.6 .4-2.3 .4-2.4 .4 4.8 .5-2.1 .4-.2 .4-3.1 .4 2.6 .4-4.6 .5 4.6 .4 .6 .4-2.1 .4-1.3 .4 2 .5-.8 .4-.3 .4 .1 .4 4 .4-3.9 .5 2.6 .4 .2 .4 3.8 .4-4.9 .4 2.8 .5-1.7 .4 6.5 .4-5.9 .4 4.5 .4 .4 .5-2.7 .4 1.1 .4-1.8 .4 3.3 .4 1.8 .5-2 .4 2.4 .4-.1 .4-4.8 .4-.5 .5 3.1 .4-1.8 .4-.4 .4 4.6 .4-1.6 .5-2.1 .4 .6 .4 1.7 .4 .1 .4-1.2 .5 .3 .4-2.1 .4 4.2 .4 .1 .4-4.2 .5 2.4 .4 2.3 .4 .6 .4-1.2 .4-3.8 .5 4.5 .4-4.2 .4 4.1 .4-.9 .4-.8 .5 2.5 .4-1.5 .4-2.9 .4 .4 .4 3.3 .5-2.6 .4 1.7 .4-3.6 .4 .3 .4 .8 .5 .6 .4-.5 .4-.9 .4-1.8 .4 2.7 .5-1.2 .4 1.4 .4-.4 .4 3.5 .4-3.7 .5 1.5 .4 3.8 .4-5.4 .4-1.1 .4 3 .5 1 .4-2.1 .4 1.2 .4 .3 .4-.9 .5 0 .4-1.5 .4-1 .4 .5 .4-.6 .5 4.3 .4 1.1 .4 .5 .4-4.6 .4 1.3 .5 1.9 .4-4.8 .4 3.5 .4 .7 .4-2.6 .5 .3 .4-1.4 .4 .1 .4 3.4 .4-3.1 .5-.9 .4 4.9 .4 1.7 .4-3.9 .4 .3 .5-1.2 .4 4.1 .4-5 .4 4.7 .4-1.7 .5-4.4 .4 .9 .4 1.2 .4-1.6 .4 5.5 .5-.2 .4-2.3 .4-1.4 .4-.6 .4-.3 .5 1.8 .4-1.7 .4-.4 .4 3.5 .4 2 .5-2.5 .4 2.2 .4-1 .4-1.9 .4 .1 .5-1.7 .4 4.5 .4-3 .4 3.5 .4-2.7 .5 2.6 .4-1.5 .4-.7 .4 1.6 .4-.9 .5-3.2 .4 4.1 .4-3.9 .4 1.8 .4-.7 .5 3.1 .4-3.4 .4 2.6 .4 1 .4-3.2 .5 1.9 .4-1.3 .4 1.5 .4 2.1 .4-3.6 .5-1.2 .4 4.4 .4-2.6 .4-2.2 .4 3.7 .5-1.8 .4-1.5 .4 .4 .4 .8 .4-1.1 .5-.5 .4-.1 .4 .3 .4 3.4 .4-1.8 .5-1 .4 4.4 .4-2.5 .4 2.6 .4-1.1 .5 2 .4-3.2 .4 1.2 .4 1.2 .4-7.1 .5 3.7 .4 1.6 .4-3 .4-2.1 .4 4.7 .5-3 .4 1 .4-2 .4 4.6 .4-5 .5 6.7 .4-2.9 .4 .1 .4-2.2 .4 1.5 .5-1 .4 2.7 .4-1 .4-4.5 .4 6.9 .5 .5 .4-1 .4-4.2 .4 1.7 .4 1.7 .5-3.8 .4 1.9 .4-1.1 .4 4.1 .4-3.9 .5 3.9 .4-4.4 .4 4.1 .4-2.6 .4-.5 .5 .5 .4 4.5 .4-5.4 .4 3.2 .4 .9 .5-4.1 .4 2.7 .4-.6 .4 3 .4-5.8 .5 1.5 .4 1.7 .4-3.2 .4 1 .4 4.1 .5-1.4 .4 .1 .4 1.4 .4-5.1 .4 4.5 .5-3 .4 4.5 .4-1.9 .4-.9 .4 .2 .5 .8 .4-2.5 .4 2.9 .4-4.3 .4 2.9 .5 1.8 .4 .3 .4-4.4 .4 4.5 .4-2.5 .5-1.1 .4 .4 .4 .6 .4-.3 .4 2.4 .5-.7 .4-2.3 .4 2 .4-.7 .4 3.3 .5-5.6 .4 3.3 .4-.4 .4-2 .4-2.3 .5 6.3 .4-6.1 .4 .9 .4 2.8 .4-2.1 .5 1.9 .4-2.8 .4 4.7 .4-1.1 .4 .3 .5 3 .4-6.1 .4 1.3 .4-1.4 .4 .8 .5 1.6 .4-.2 .4-1.7 .4 4.7 .4-1.1 .5-2.5 .4 4.2 .4-3.6 .4 4.3 .4-.7 .5-4.2 .4 2.6 .4-.2 .4-1.3 .4 0 .5 .6 .4 2.3 .4-1.3 .4 1.5 .4-4.7 .5-1.9 .4 .4 .4 1.9 .4-1.7 .4 1.3 .5-1.8 .4 1.2 .4 0 .4 4.1 .4-2 .5-3.6 .4 5 .4 .6 .4-1.6 .4-5 .5 5.7 .4-4.2 .4 4.7 .4 .7 .4-1.5 .5-3.7 .4 1 .4-.6 .4 3.2 .4-4.5 .5 3.1 .4 1.5 .4 1.3 .4-2.8 .4-2.3 .5 4.9 .4-3.2 .4 1.4 .4-3.2 .4 2.6 .5 3.1 .4-1.8 .4 0 .4-.7 .4-2.7 .5 1 .4 5.6 .4-6.9 .4 3.6 .4-1.7 .5 1.9 .4-3.6 .4 .6 .4 3 .4-3 .5 3.7 .4 1.9 .4-5.8 .4 .3 .4-.2 .5 1.1 .4-1.4 .4 3.1 .4-2.2 .4 .9 .5 2.6 .4-.8 .4-3.3 .4-.4 .4 1.8 .5 .2 .4-2.8 .4 4.6 .4 .4 .4-3.7 .5-1.7 .4 3 .4-4 .4 .7 .4 2.7 .5-1.2 .4 3.3 .4-5.4 .4 .3 .4-.7 .5 4.2 .4-2.1 .4-4.7 .4 2.3 .4 3.7 .5-1.8 .4-1.8 .4-2 .4 2.2 .4-1.6 .5 5.3 .4 1 .4-2.1 .4 2 .4-4 .5 1.3 .4 2.1 .4 .6 .4 .3 .4-4.9 .5 7.2 .4-4.7 .4 3 .4 .9 .4-4.7 .5 2.8 .4 0 .4 2.5 .4-1.7 .4-.2 .5 .7 .4-1.1 .4-3.4 .4 1.6 .4 2.9 .5-.8 .4-.8 .4-1.1 .4-1.1 .4 4.5 .5-2.9 .4 2.1 .4 1.4 .4-1.1 .4-.5 .5-3.9 .4 4.4 .4 2 .4-4.7 .4 3.4 .5-1.6 .4 1.6 .4-.3 .4-2.8 .4 1.2 .5-1.7 .4-.9 .4 1.5 .4 2.6 .4-1.5 .5 2 .4-1.2 .4 1.4 .4-.1 .4-2.4 .5-2.3 .4 2.3 .4 1.3 .4-3.6 .4-1.1 .5 5.6 .4-.9 .4-2.4 .4-2.6 .4 2.4 .5 1 .4 3.5 .4-6.2 .4 5.1 .4 1.3 .5-.5 .4-.8 .4-.4 .4-.4 .4-4.6 .5 2.9 .4 4.1 .4-5.9 .4-1 .4 4.7 .5 2.3 .4-4.9 .4 2.3 .4 2.6 .4-1.4 .5-5.8 .4 4.8 .4-3.8 .4 6 .4-2.8 .5 2.5 .4-2.8 .4-3.6 .4 1.3 .4 .1 .5 4.7 .4 .5 .4-1.4 .4 .8 .4-4.6 .5 2.1 .4-.5 .4-.4 .4-.9 .4-.3 .5-.3 .4 5 .4-2.5 .4 3.1 .4-1.3 .5-2.1 .4-2.8 .4 4 .4 1.1 .4-3.5 .5 2.1 .4 3.2 .4-1.9 .4-4.2 .4 3.3 .5 .4 .4 0 .4-4.8 .4 2.7 .4-1.2 .5 1.3 .4 4 .4-1.5 .4 2.1 .4-2.8 .5 2.2 .4-4.7 .4 4.5 .4-2.5 .4 .7 .5-2.5 .4 3.3 .4-3.8 .4 4.1 .4-3.3 .5 0 .4 1.3 .4 2.6 .4-1.3 .4-3.1 .5 1.3 .4 2.3 .4 .9 .4-2.1 .4-2.4 .5 4.4 .4-4.4 .4 3.3 .4-.1 .4-.4 .5-4.6 .4 1.3 .4 4.3 .4-2.1 .4 2.5 .5-.8 .4-.7 .4 0 .4 .9 .4-3.1 .5 3.8 .4-.5 .4-4.3 .4 2 .4-.3 .5 1.1 .4 1.4 .4-5.7 .4 2.3 .4 3.1 .5-3.6 .4 1.3 .4 0 .4 4.6 .4-3.1 .5-3.5 .4 6 .4-2.1 .4-1.7 .4-2.3 .5 .9 .4 5.3 .4-5.8 .4 .5 .4 2.5 .5-3.8 .4 4.6 .4-.5 .4 .9 .4-3.3 .5-.1 .4 3.9 .4-.5 .4-.8 .4 1.1 .5-4.1 .4 3.5 .4-2.9 .4-2 .4 .1 .5 4.8 .4-3.8 .4 .3 .4 1.2 .4 1.4 .5 1.7 .4-4.6 .4 0 .4 .4 .4 5.1 .5-.9 .4 .1 .4-1.8 .4-4.1 .4 3.7 .5-2.3 .4-1.2 .4 1.2 .4 4 .4-1.7 .5 1.2 .4-.2 .4-.7 .4-.7 .4 1.5 .5-.4 .4 .8 .4-2.9 .4-.9 .4 4.1 .5-1.2 .4 .7 .4-2.7 .4-1.2 .4 3.5 .5-4 .4 4.8 .4-6.1 .4-.5 .4 1.4 .5-1 .4 4 .4-5.3 .4 .5 .4 1.7 .5-1.8 .4 1.2 .4-1.7 .4-4.6 .4-.4 .5 2.7 .4-3.3 .4-3.1 .4-1.4 .4-2.1 .5 4.5 .4-5.1 .4 2.1 .4-2.5 .4 1 .5 1.1 .4-1.1 .4-1.5 .4 3.1 .4-.9 .5 0 .4 5.1 .4-2.9 .4 1.3 .4 2.9 .5 2 .4 3.4 .4-3.2 .4-1.6 .4 2.3 .5 .8 .4 7.2 .4-3.9 .4 2.7 .4 1.6 .5-2.2 .4 .1 .4 2.3 .4-2.8 .4 .8 .5-1.3 .4 4 .4 .9 .4-2.6 .4-1.8 .5 2.2 .4-2.1 .4 .9 .4 2.4 .4 .4 .5 0 .4-1.2 .4 .8 .4 .6 .4-2.1 .5-1 .4 4.3 .4-2.1 .4 2.8 .4-.3 .5-2.9 .4 .7 .4-1 .4 2.8 .4 .7 .5-7.1 .4 6.2 .4-4.6 .4-.3 .4 3.9 .5-2.9 .4 1.4 .4-2.4 .4-1 .4 3.3 .5-1.9 .4 4.5 .4-3.8 .4-1 .4 5.4 .5-4.7 .4 2.7 .4-3.4 .4 4.4 .4-3.1 .5 4.3 .4-1 .4-.4 .4-1.8 .4 .1 .5 1.6 .4-1.4 .4 1.8 .4-3.7 .4 4.9 .5-2.5 .4-3 .4 1.8 .4 .6 .4-1.9 .5 2.7 .4-.4 .4-1.2 .4 .2 .4-.5 .5 2.6 .4-1.3 .4-2.8 .4 3.8 .4-3.6 .5 3.3 .4-1.2 .4 3.8 .4-1.3 .4-2.5 .5 1.4 .4-3.5 .4 2.4 .4-.6 .4 .6 .5 .3 .4 2.6 .4-1.9 .4 1.4 .4-2 .5-1.8 .4 3.3 .4-2.6 .4-2 .4 .8 .5 4.6 .4-3.7 .4 2.9 .4 .1 .4 .8 .5-4.7 .4 5 .4-4.6 .4 .7 .4 3.4 .5-2.6 .4 1.5 .4-2.4 .4-.7 .4 2.7 .5-2.8 .4 .4 .4 2.2 .4-1.3 .4 3 .5-1.6 .4-1.9 .4-.8 .4 5.4 .4-.5 .5-1.6 .4-2.9 .4 1.4 .4-2.9 .4 .8 .5 2.8 .4-3.1 .4 .2 .4 2.4 .4 2.8 .5-5.3 .4 5.7 .4-5.2 .4 .2 .4 1.2 .5 2.9 .4-1.3 .4 0 .4-3.4 .4 .6 .5 .8 .4 2.3 .4 2.3 .4-1.3 .4 .3 .5-.4 .4-.5 .4 .5 .4-4.3 .4-.2 .5-.3 .4 4.3 .4 1 .4-4.1 .4 .1 .5-.2 .4 3.9 .4 .2 .4-.6 .4-.4 .5-.9 .4-.5 .4-2.8 .4 3.1 .4 .9 .5-1.1 .4-2.1 .4 4.3 .4-1.4 .4-.2 .5-1.8 .4 1.2 .4 .9 .4-3.3 .4 4.4 .5-1.9 .4 2.5 .4-1.4 .4 .6 .4 .6 .5-1.1 .4-4.4 .4 1.8 .4 1.3 .4 .4 .5 1 .4-1.1 .4 .5 .4-1.6 .4 4 .5-1.8 .4 2.4 .4-.3 .4-.6 .4-1.5 .5-3.8 .4 2.8 .4-1.5 .4-1.2 .4-.4 .5 4.8 .4-.2 .4-3.6 .4-.6 .4 4.8 .5-.2 .4-3.9 .4 .5 .4-.5 .4 2.3 .5 2.2 .4 .3 .4-4.5 .4-.5 .4 2.9 .5 1.1 .4-3.1 .4 .1 .4 1.2 .4 .1 .5 2.1 .4-2.3 .4-3.1 .4 1.2 .4 2.1 .5-1.2 .4 3.8 .4-4.1 .4 3.3 .4-4.1 .5 2.9 .4 .7 .4 2.5 .4-2.4 .4 1.8 .5-1.1 .4-3.4 .4 1.1 .4-3 .4 1.7 .5 4.3 .4-5.3 .4 1.3 .4-1.9 .4 4.7 .5-3.8 .4 1.8 .4-1.5 .4 3.1 .4-3.9 .5 3.6 .4 .3 .4-.6 .4-1.1 .4 2 .5-2.8 .4-2 .4 4.2 .4 1.6 .4-5.1 .5 1.1 .4 2.4 .4-2.4 .4-1.2 .4 .4 .5-.8 .4 4.5 .4-1.1 .4-.2 .4-.1 .5 3 .4-2.8 .4 2 .4-6.1 .4 1.4 .5-1.1 .4 3 .4 1.6 .4 .6 .4 1.5 .5-1.1 .4-3.2 .4 1.1 .4-.1 .4-4.2 .5 3.1 .4 2.4 .4-5 .4 1.9 .4-1.5 .5 .8 .4 2 .4-1.7 .4-1.4 .4 4.2 .5-.1 .4 1.9 .4-2.4 .4-4.5 .4 1.5 .5 5.7 .4-4.6 .4 1.2 .4-.7 .4 3.3 .5-2 .4-1.7 .4 .6 .4 4.8 .4-6.1 .5 4.3 .4-3.6 .4-1.6 .4 2.6 .4 .3 .5 2.7 .4-4.4 .4 3.8 .4-3.7 .4 .5 .5 .4 .4 3.2 .4-4.2 .4 0 .4-.8 .5 1.1 .4 2.2 .4 1.4 .4-2.6 .4 3.1 .5-5.2 .4 3.5 .4-1.1 .4-.2 .4-.8 .5-1.2 .4-.1 .4-.2 .4 3.4 .4 2.9 .5-6.1 .4 4.5 .4-1.2 .4-1.8 .4-1.2 .5 .9 .4 4.9 .4-2.8 .4 1.5 .4-4.3 .5-.8 .4 2.6 .4-2 .4 1.5 .4 .9 .5 2.2 .4-1.8 .4-3 .4-1.4 .4 1.4 .5 1.7 .4 1.3 .4-.3 .4 2 .4-4.3 .5 1.6 .4 2.3 .4-.1 .4-2.2 .4-1.1 .5-.5 .4 5.1 .4-5.3 .4-.7 .4 5.4 .5-2.3 .4-.7 .4 1.1 .4-1.9 .4 2.3 .5-2.6 .4-1.6 .4 3.8 .4-1 .4-.7 .5 1 .4 1.1 .4 .3 .4-1 .4-1.7 .5-2.1 .4 3.7 .4-1.3 .4-1.1 .4 5.1 .5-6.9 .4 3.1 .4-2.2 .4 2.7 .4 0 .5-1.6 .4 4.1 .4-.9 .4-3 .4 2.5 .5-.9 .4-.9 .4 1.5 .4 1.8 .4-3 .5 3 .4-3.1 .4-3.1 .4 1.7 .4-2.2 .5 4.7 .4-3.6 .4 2.6 .4-.4 .4-2.7 .5 5 .4 .4 .4-.1 .4-2.9 .4-1.6 .5 .4 .4 5.4 .4-1.6 .4-5.1 .4-.6 .5 5.8 .4-3.4 .4 .3 .4 2.6 .4-.4 .5-1.7 .4 1.9 .4-2.2 .4-.2 .4 .8 .5-1.2 .4-.7 .4 2 .4-1.5 .4-1.6 .5-1 .4 .9 .4-.5 .4-1.1 .4-.2 .5-1.6 .4 .4 .4 1.5 .4-6 .4 3.5 .5-4.9 .4-.1 .4 4.3 .4-4.7 .4 .2 .5 3.5 .4-2.3 .4 .7 .4 .8 .4 1.3 .5 .6 .4-.9 .4 2.5 .4-1.4 .4-.5 .5 5.2 .4 1.7 .4-.1 .4-4.7 .4 3.1 .5 .8 .4-.4 .4 3.1 .4 .1 .4-1.1 .5 2.3 .4-3.9 .4 2 .4 1.6 .4-4.1 .5 2.7 .4 1.1 .4-3.7 .4 3.6 .4-.4 .5-.4 .4-2.2 .4-.8 .4 2 .4-.9 .5 2.7 .4-.5 .4-3.6 .4 3.7 .4 .2 .5-1.9 .4 1.5 .4 .5 .4-4.5 .4 .5 .5 2.6 .4 .7 .4-3.6 .4 1.2 .4-2.7 .5 4.1 .4 .8 .4-5.2 .4 4.4 .4-3.6 .5 .8 .4-.6 .4 3.3 .4-3.2 .4 1.4 .5 2.5 .4-2.9 .4 .2 .4-.1 .4-.5 .5-3.2 .4 2.6 .4-1.2 .4-.6 .4 3.6 .5-3.7 .4 .1 .4 0 .4 1.8 .4 .6 .5 2.1 .4-4.2 .4 4 .4-2 .4 2.8 .5-2.8 .4 2.5 .4-1 .4 2.1 .4 .6 .5-2.6 .4 .2 .4-.7 .4 1.3 .4 1.9 .5-4 .4 2.7 .4-1.8 .4 2.4 .4-2.2 .5-.6 .4 1.9 .4 .5 .4-2.1 .4-1.2 .5 2.5 .4-2.3 .4 4.4 .4-2.5 .4 2 .5 1.7 .4-1.6 .4 1.8 .4-2.5 .4-2.3 .5 2.3 .4 .1 .4 .1 .4-.2 .4 2.4 .5 .2 .4 .6 .4-4.8 .4 4.2 .4-.3 .5-4.1 .4 4.9 .4-3.2 .4 2.3 .4-.9 .5-2.6 .4 2.2 .4 .6 .4-3.2 .4 2.7 .5-3.1 .4 1 .4 .7 .4-1.8 .4 4.6 .5-2.4 .4-1.6 .4 3.8 .4-3 .4-.5 .5 1.6 .4-.6 .4-.3 .4 4.7 .4-4.7 .5 2.8 .4-.6 .4-.9 .4 2.8 .4-5.6 .5 5.4 .4-3.9 .4-.3 .4 2.2 .4 2 .5-2.3 .4-.1 .4 3.4 .4-1.1 .4-1.5 .5 2.3 .4-2.7 .4 2.8 .4-2.2 .4-4 .5 7.1 .4-4.6 .4-.4 .4-.5 .4 4 .5-.2 .4 .7 .4-3.6 .4-.1 .4 4.5 .5-4.9 .4 0 .4 3 .4-3.5 .4 2.2 .5-2.7 .4 4.8 .4-1.7 .4 1.3 .4-3.5 .5-1.6 .4 2.5 .4-1.9 .4 .5 .4 .6 .5-.7 .4 .4 .4 1.5 .4 2 .4-3.9 .5 4.2 .4-2.9 .4 2.7 .4-1.4 .4-.2 .5-1.4 .4-1 .4 5.2 .4-.8 .4-2.4 .5-1.2 .4 4.6 .4-1.3 .4 .3 .4 0 .5-3.2 .4 3.7 .4-.6 .4 .2 .4-1.4 .5 1.3 .4 .2 .4-3.3 .4 0 .4 .3 .5 2.8 .4-2 .4 .7 .4 3.6 .4-4.2 .5-2.2 .4 2.4 .4-.1 .4 3.9 .4-6.2 .5 4.9 .4 0 .4-4.1 .4 5 .4-3.3 .5-2.8 .4 6.1 .4-.4 .4-2.8 .4-.3 .5-1.7 .4 5.3 .4-2.4 .4 2.2 .4-1.3 .5 .1 .4-1.4 .4-.5 .4 1.6 .4-4.4 .5 3.2 .4 1.5 .4-2.9 .4-.6 .4 .7 .5 .2 .4 3.2 .4-4.2 .4 3.8 .4-2.9 .5 .5 .4 1.2 .4-1.5 .4 .3 .4-1.4 .5 .2 .4 5 .4-.2 .4 .9 .4-2.8 .5-1.3 .4 .7 .4 1.4 .4-1.1 .4 .2 .5 1.1 .4 .4 .4 1 .4-1 .4-.6 .5 1.8 .4-2.8 .4-2.3 .4 5 .4-.1 .5-3.7 .4-.4 .4 5.6 .4-3 .4 1.7 .5-.3 .4-.2 .4-.9 .4 2.4 .4-2.7 .5-.9 .4-.6 .4 4.5 .4-4 .4 3.4 .5-1.5 .4-2.1 .4-1.6 .4 4.5 .4-4.5 .5 5.1 .4-2.6 .4 4.2 .4-7.9 .4 1.3 .5 4.6 .4-4.1 .4 .8 .4-.5 .4 2.5 .5-3.5 .4 5.3 .4-5.1 .4 .2 .4 5.3 .5-3.6 .4-.7 .4-1.8 .4 1.3 .4 1.1 .5 3.2 .4-2.3 .4-.7 .4-.3 .4-.4 .5 .4 .4 3.1 .4 .4 .4-2.3 .4-3 .5 4.6 .4-3.3 .4 3.6 .4-.8 .4-1.4 .5-.6 .4 1 .4 3.4 .4-2.5 .4-2.2 .5 1.3 .4-1.4 .4 .2 .4 1.2 .4 1 .5-.6 .4-1.7 .4-.6 .4 2.9 .4-3 .5 3.2 .4 .4 .4-5.4 .4 5.6 .4 .8 .5-3.5 .4-.3 .4 3.5 .4-3.6 .4-.1 .5-.3 .4 3.6 .4-3.2 .4 4.1 .4 .4 .5-1.9 .4-1.4 .4-2.1 .4 5.1 .4 1.1 .5-4.9 .4 3.2 .4-3 .4 .9 .4 0 .5 1.9 .4-1.6 .4 2.7 .4-6.3 .4 4.3 .5 .6 .4 2.1 .4-1.7 .4-1 .4-1.9 .5 1 .4 2 .4-4.7 .4 6.3 .4-.8 .5-1.9 .4 2 .4-3.5 .4-.9 .4 3.9 .5-.7 .4-1.7 .4 2.2 .4-4 .4 .6 .5 3.7 .4-1.3 .4 .3 .4-.2 .4-1.5 .5 2.9 .4-.2 .4-2 .4-.7 .4-.2 .5 4.3 .4-3.6 .4-.3 .4-1.9 .4 1.1 .5 3.9 .4 .2 .4-.4 .4-2.6 .4 1.6 .5-.5 .4 2.1 .4-3.3 .4 2.2 .4-4 .5 1.7 .4-2.1 .4-.3 .4 2.7 .4 1.5 .5-2.6 .4 2.3 .4-1.6 .4 .9 .4-1.4 .5-1.1 .4 2 .4-1.9 .4 3.5 .4 .6 .5-3.9 .4 2.4 .4-.5 .4 1.1 .4-4.2 .5 .8 .4-.3 .4 4.4 .4-3.2 .4-.1 .5 2 .4 .6 .4 .9 .4-4.1 .4 1.2 .5 3.3 .4-3.3 .4-1.6 .4-.5 .4 1.8 .5 2.1 .4 .8 .4 .3 .4 1.6 .4-5.4 .5-.5 .4 .7 .4 1.2 .4 .3 .4 2.4 .5-2.4 .4 2.2 .4-1.6 .4-1.9 .4 1.2 .5 1.6 .4-1.5 .4-1.1 .4-1.9 .4 3.2 .5-.3 .4-2.9 .4 3.4 .4 .6 .4 .8 .5-.1 .4-3 .4 2 .4-1.1 .4-.4 .5 1.6 .4 .7 .4-3.6 .4 .5 .4 3.9 .5-2.4 .4-1.8 .4 3.2 .4-.7 .4-1.1 .5 3.3 .4-.8 .4-1.3 .4 1 .4 .4 .5-3.2 .4-1 .4 1.4 .4 1.7 .4 1.5 .5-.7 .4-.4 .4-1.7 .4 1 .4-1.3 .5-2.3 .4 .6 .4 1.5 .4 0 .4 4.1 .5-1.9 .4 .5 .4-3.7 .4 2.5 .4-1.9 .5 2.6 .4-4.3 .4 1.5 .4-1.3 .4 3.1 .5 .4 .4 1.2 .4-3.8 .4 1.1 .4 0 .5 1.9 .4-3.6 .4 3 .4-.1 .4-2.3 .5 .1 .4 2.7 .4 .9 .4-2.2 .4 .7 .5 2.6 .4-4.7 .4-.9 .4 4.2 .4-2.3 .5 2.6 .4 1.4 .4-3.7 .4 1.9 .4-2.3 .5 3.5 .4-3.6 .4 .8 .4 2.7 .4-3.9 .5 3.5 .4-3.3 .4 2.3 .4 1.4 .4-4.6 .5 2.8 .4-.3 .4 2.2 .4-2.1 .4 .7 .5-3.2 .4 1.9 .4 1.2 .4-3.5 .4 0 .5-.7 .4 .5 .4 .8 .4 .2 .4 1 .5-1.7 .4 .9 .4 .1 .4 1.3 .4 .8 .5 1.5 .4-1.4 .4-2.9 .4 2.2 .4-1.9 .5 .9 .4 1.6 .4-1.9 .4 3.2 .4-5.4 .5 5.5 .4-1.8 .4 1.1 .4-2.9 .4 1.6 .5-1.9 .4 3.3 .4-2.7 .4 3.9 .4-.5 .5-3.4 .4-.7 .4 0 .4-1.9 .4 5.8 .5-3.5 .4 4 .4-5.2 .4 3.4 .4-2.9 .5 1.8 .4-2.2 .4 2.4 .4 1.6 .4 1.7 .5-.6 .4-3.3 .4 2.2 .4-.6 .4 1.1 .5-2 .4 1.3 .4-1.8 .4 4.5 .4-3.8 .5 1.6 .4-3.3 .4 4.1 .4-.8 .4-3.9 .5 4.6 .4-4.1 .4 3.7 .4 1.2 .4-2.6 .5-.3 .4 1.1 .4-3.2 .4-.1 .4-.3 .5 5.4 .4-1.3 .4 .2 .4-2.1 .4 1.7 .5-1.9 .4 2.7 .4-.7 .4-3.7 .4 1.5 .5 1.2 .4 1.9 .4-3.4 .4 3.3 .4-1.2 .5-3.1 .4 2.5 .4 2.5 .4-.7 .4-.4 .5-4 .4 4.4 .4-2.5 .4-1.7 .4-1.2 .5 4.9 .4-1.6 .4 .7 .4-3.2 .4 4.4 .5-.5 .4-1.5 .4-1.3 .4-1.3 .4 4 .5-3.8 .4 .6 .4 4.6 .4-5.1 .4 1.1 .5 2.8 .4-3.4 .4-.6 .4 .8 .4 .2 .5-1.6 .4 3.1 .4 3 .4-1 .4-.7 .5-2.8 .4 3.2 .4-4.5 .4 2.6 .4 1.4 .5 1.3 .4-1 .4-.7 .4-1.4 .4 2 .5 .2 .4-3.4 .4 4.5 .4-1.2 .4-1.4 .5 1.6 .4 .5 .4-3.7 .4 3.8 .4-2.7 .5-2.6 .4 2.5 .4 3.7 .4-4.3 .4 4.1 .5-3.8 .4-.2 .4 2.8 .4-4.1 .4 2.4 .5-3.3 .4 1.6 .4 2.2 .4-1.7 .4-1.3 .5 1.5 .4 1.2 .4 1.7 .4 .3 .4-5.4 .5 4.5 .4-1.1 .4 1.6 .4-2.5 .4-.5 .5 3.5 .4-.7 .4-.8 .4 1.5 .4-3.8 .5 3.3 .4-.6 .4 .6 .4 .6 .4-2.4 .5 1.1 .4 .6 .4-1.5 .4 2.3 .4-1.7 .5-2.3 .4 .1 .4 4.3 .4-3 .4-2 .5 1.6 .4 1 .4 2.3 .4-4.4 .4 2.1 .5 1.5 .4-2.2 .4-1.2 .4 4.7 .4-3 .5-2.7 .4 3.1 .4-.8 .4 .2 .4 .7 .5 .6 .4-1.3 .4 .7 .4 .4 .4 1.3 .5-2.4 .4-1 .4 2.5 .4-.2 .4 1.3 .5 .8 .4-7.4 .4 6.9 .4-3.8 .4 1.4 .5-2.3 .4 1.5 .4-1.2 .4 1.5 .4-.9 .5-1.3 .4 1.2 .4 3.8 .4-3 .4-.5 .5-1.1 .4-.8 .4 6.5 .4-.8 .4-.5 .5 .1 .4 .2 .4-4.9 .4 4.4 .4 .1 .5-4.1 .4 4.4 .4-1.3 .4-2.6 .4 3.5 .5-4.8 .4 3 .4-.8 .4 .4 .4 1.9 .5-1.4 .4 1.5 .4-4.5 .4 4.5 .4-3.9 .5-1 .4 .8 .4 3.9 .4-5.4 .4 6.2 .5-1.1 .4-3.2 .4 4.5 .4-4.7 .4 4.3 .5-3.8 .4 2.4 .4-3.7 .4 4.3 .4-1.5 .5 2.7 .4-2.5 .4 .8 .4-1.1 .4 2.5 .5 .7 .4-5.5 .4 3 .4-.2 .4 3 .5-.1 .4-1.4 .4-1.5 .4 2.2 .4-.7 .5-3 .4 .2 .4-.6 .4 1.9 .4-.9 .5 0 .4 .5 .4 1.2 .4 1.1 .4-3.2 .5-.5 .4 3.2 .4-.1 .4-1.6 .4 1.5 .5-2.7 .4 5.6 .4-4.2 .4 1.1 .4-2.3 .5-2.2 .4 4.3 .4-2.8 .4 1.3 .4 1.9 .5-2 .4 2.5 .4-3.4 .4 1.2 .4-.2 .5-1.6 .4 2.6 .4-1 .4 1.2 .4-.7 .5-1.2 .4-.7 .4 2 .4-1.5 .4 .5 .5-.2 .4-1.4 .4-.3 .4 1.7 .4 .1 .5 3.1 .4-.9 .4 .9 .4-1.3 .4 .4 .5 1.1 .4-3.4 .4 .7 .4 3.2 .4-4.3 .5-.6 .4 2.1 .4 .4 .4 .1 .4-.8 .5 2 .4-2.3 .4 .5 .4 .3 .4 1.8 .5-2.9 .4-.2 .4-.6 .4-1.1 .4 5.7 .5-1.3 .4-2.4 .4-.6 .4-.5 .4 1.6 .5-.9 .4 1.1 .4-.9 .4 1 .4 1.3 .5-.5 .4-3 .4 0 .4 2.5 .4-.1 .5-3.3 .4 1.6 .4 0 .4 2 .4-.9 .5 3.4 .4-.5 .4-5.3 .4 3.4 .4 .7 .5-2.6 .4 3.5 .4-4.2 .4 .3 .4-.6 .5 1.5 .4 2.6 .4-.4 .4-4.2 .4 .8 .5 .4 .4 4.6 .4-.8 .4-1.6 .4-2.2 .5 .2 .4 .9 .4 .1 .4 2.6 .4-.2 .5-2.9 .4 2.2 .4 .7 .4-2.9 .4 .4 .5-.7 .4 .1 .4-.8 .4 1.3 .4 1.7 .5 1.2 .4-2.8 .4-.8 .4 3.1 .4-4.2 .5 .3 .4 4.1 .4-.6 .4-1.2 .4 .1" stroke="#000000"/>
<path d="M307.0 937.8l.4 3.4 .4 5 .5-4.3 .4-5.3 .4 6 .4 1.7 .4-4.7 .5 4.6 .4-5.8 .4-.3 .4 2.8 .4 1 .5 1.3 .4-1.5 .4 5.3 .4-7.4 .4 4 .5-.7 .4-3.8 .4-4 .4 10.9 .4-6.1 .5-1.7 .4 6.9 .4-3.9 .4 .3 .4 2.8 .5-10.6 .4 9.3 .4-2.9 .4-4.4 .4 5.8 .5 2.6 .4-8.2 .4 4.9 .4-1.8 .4 3.2 .5 .6 .4-5.6 .4 6 .4-2.9 .4 .6 .5 2.4 .4-4.5 .4 1.9 .4 0 .4-8 .5 8.2 .4-4.4 .4-1.6 .4-1.6 .4 5.2 .5-4.4 .4 4.4 .4-3.6 .4 .8 .4-4.4 .5 2 .4-3.3 .4-1.2 .4 4.6 .4-.7 .5-2.4 .4 3 .4-7.6 .4 7.9 .4-9.5 .5 10 .4-.9 .4-1.6 .4 3.7 .4 1.6 .5-.4 .4-7.9 .4 3 .4-2.2 .4 1.1 .5 .4 .4 5.8 .4-5.8 .4 .6 .4 .7 .5 3.9 .4 2.3 .4-3.5 .4-6.2 .4 6.9 .5 .6 .4-7.2 .4 6 .4-2.1 .4 2.9 .5-1.1 .4 1 .4-2.4 .4 1.1 .4-4.8 .5 2.2 .4-1.8 .4 3.2 .4 1.3 .4 .9 .5-1.8 .4-4.9 .4 6.2 .4-4.9 .4 6.8 .5-4.9 .4 0 .4 5.8 .4-7.6 .4 .1 .5 2.6 .4-1.9 .4-2.9 .4 5.2 .4 4.4 .5-5.4 .4 2.3 .4 .7 .4-.5 .4 .3 .5-.1 .4-.3 .4-5.1 .4 1.8 .4-1.4 .5-1.3 .4 2.3 .4-.9 .4 1.1 .4 1.6 .5-3.5 .4 2.6 .4 .3 .4-.1 .4-4.7 .5-.2 .4 3.4 .4-1.9 .4 2.9 .4-1.2 .5-1.5 .4 7.5 .4-6.7 .4-1.3 .4-.3 .5 1.1 .4-.4 .4 3.3 .4 2.2 .4-7.9 .5 2.6 .4 4.2 .4 1 .4 .2 .4-8.7 .5 4.8 .4 1.2 .4-6.6 .4 4.7 .4-4 .5 6.3 .4 1.8 .4-1.5 .4-7.7 .4 1 .5 1.9 .4 3.2 .4-3.3 .4 4.8 .4-5.3 .5-.6 .4 5.1 .4-4.7 .4-1.8 .4 6.7 .5-3.6 .4 3.4 .4-4.2 .4-1.7 .4 2.7 .5 2.4 .4-1.8 .4 2.7 .4-9 .4 2.8 .5 4.4 .4-1 .4 .5 .4-.3 .4 1.1 .5 .5 .4-2.1 .4 .5 .4 0 .4-2.5 .5 2.5 .4-1.3 .4 2.5 .4-2.9 .4-4.3 .5 5.4 .4 .6 .4-.2 .4-1 .4-1.9 .5 .3 .4 3 .4-6.7 .4 8.6 .4-.6 .5 1.7 .4-7.5 .4-1.6 .4 6.5 .4-3.6 .5-.6 .4 .5 .4 1.2 .4-5.1 .4 3.6 .5 1.5 .4 1.9 .4-7.2 .4 8.1 .4-4.4 .5 1.5 .4-.4 .4-2.2 .4 4.8 .4-5.6 .5 3.6 .4-3.7 .4 4.6 .4 1 .4 .8 .5-5.8 .4 3.3 .4 2.2 .4-6.4 .4 1.7 .5 3.4 .4 1.4 .4-3.4 .4 1.4 .4-.4 .5-3.2 .4 5.9 .4-3.2 .4 1.6 .4-2.2 .5-1.1 .4 .3 .4 5 .4-5.7 .4-2.3 .5-.2 .4 7.2 .4 1.9 .4-8.1 .4 1.2 .5-1.8 .4 2.9 .4-.6 .4 3.5 .4-5.7 .5 6.8 .4-2.5 .4 1.2 .4 1.4 .4 .8 .5-4.5 .4 .8 .4 .8 .4-3.4 .4 2.2 .5 4.1 .4 0 .4-9.2 .4 7.1 .4-2.8 .5-.4 .4-2.5 .4 6.4 .4 2.4 .4-4.5 .5-1 .4 1.6 .4 2.7 .4-.5 .4-5.7 .5-.4 .4 7.9 .4-5.7 .4 4.9 .4 .5 .5-2.6 .4 2.4 .4-2.6 .4-2.3 .4-.1 .5 7.1 .4-9.1 .4 6.8 .4 1.1 .4-6 .5-2 .4 2.5 .4 2.4 .4 .5 .4-2.1 .5 6.2 .4-7.5 .4 5.4 .4-6.9 .4 8.6 .5-3.9 .4 3.1 .4-6.4 .4 3.2 .4 2.7 .5-2.3 .4 3.2 .4-5.7 .4 .6 .4 3.2 .5-4.1 .4 7.6 .4-4.1 .4-3.2 .4 .3 .5 3.6 .4-3.9 .4 .1 .4 .4 .4-.8 .5 5.8 .4-1 .4 2 .4-1.9 .4-3.1 .5 1.6 .4-4 .4 2.3 .4 3.5 .4 1.4 .5-3.1 .4 .2 .4 3.7 .4 2.5 .4-8 .5-.7 .4 6.2 .4-3.5 .4 .5 .4 1.2 .5 .8 .4-5.3 .4 6.7 .4 .7 .4-4.5 .5 1.3 .4-2.3 .4 3.5 .4-2.3 .4 2.3 .5 1.7 .4-3.9 .4 3.6 .4-5.6 .4 5.4 .5-6.4 .4 .9 .4 5.5 .4-2 .4-1.3 .5-2.4 .4 6.7 .4-7.5 .4 .2 .4 9.2 .5-1.3 .4-4.1 .4-.4 .4 5.2 .4 .6 .5-2.3 .4-.1 .4-.8 .4 4.3 .4-3.5 .5-5.4 .4 .4 .4 5.2 .4 1.1 .4-.4 .5 .2 .4-4.2 .4 1.8 .4-.5 .4 .1 .5 .9 .4 4.6 .4-5.7 .4 .6 .4 3.1 .5-.2 .4-2.6 .4 6.5 .4-.3 .4-6.1 .5-.6 .4 2.3 .4 1.1 .4-1.5 .4 3.3 .5-.8 .4 2.4 .4-5.1 .4 3.3 .4-5.5 .5 .4 .4-1.3 .4 2.1 .4 6 .4-4.2 .5 2 .4-.5 .4-2.9 .4-.1 .4 .1 .5 8.3 .4-7.2 .4 .9 .4-1.1 .4 4.9 .5 .5 .4-3.5 .4 .7 .4 1 .4 1 .5-.8 .4 .1 .4 1.8 .4 1.8 .4-6.2 .5 .6 .4-3 .4 4.3 .4 1.7 .4 2.1 .5-3.2 .4-3.4 .4 6.6 .4-.5 .4-3.3 .5 2.3 .4-6.2 .4 2.8 .4 3.2 .4-4.9 .5 .4 .4 4.4 .4 2.1 .4-3.9 .4-2.4 .5 2.3 .4 2.6 .4-2.9 .4-1.7 .4-.9 .5 2.9 .4 6.5 .4-7.3 .4 3 .4 2.6 .5-.3 .4-6.5 .4 4.2 .4-2.8 .4 4.4 .5-4.5 .4 5.8 .4-1.3 .4-.2 .4-3.6 .5 2.7 .4 2 .4-6.1 .4 1.2 .4-4.4 .5-2.1 .4 5.1 .4-6.2 .4 1.9 .4-4 .5 2.3 .4-1.7 .4 0 .4-7 .4-2.4 .5-.4 .4 .7 .4-2.1 .4-7 .4 .5 .5-2.5 .4 1.5 .4 2.2 .4 2.6 .4 .7 .5-6.2 .4 4.7 .4 3.6 .4-2.2 .4 2.1 .5 4.5 .4 5.3 .4-5.7 .4 5.5 .4-.7 .5 2.1 .4 4.2 .4-.4 .4 6.8 .4-3.3 .5 1.2 .4 3.5 .4-4.3 .4 1.6 .4 6.3 .5-4.7 .4 1.5 .4 2.2 .4-5.3 .4 6.9 .5-5.1 .4 1 .4 6 .4-2.1 .4 2.8 .5-.5 .4-1.3 .4-4.3 .4 2.7 .4-4.4 .5 1.1 .4 7 .4-6.2 .4 4 .4-2 .5 3.5 .4-2.1 .4 4.3 .4-4.6 .4 2.7 .5-.3 .4-1.6 .4-.4 .4-1.3 .4 2 .5-3.2 .4 1.4 .4 2.5 .4-3.5 .4-1.2 .5-.1 .4 6.9 .4 .6 .4-2.6 .4 .5 .5-1.4 .4-4.2 .4 6.8 .4-3.1 .4 1.7 .5-4.3 .4 5.5 .4-5.8 .4 6.6 .4-1.9 .5-1.4 .4 2.4 .4-4.7 .4 2.9 .4-3.2 .5 2.1 .4-.5 .4-.1 .4 1.2 .4-2.6 .5 .2 .4 .8 .4 6.8 .4-1.2 .4-3.3 .5-2 .4 1 .4 1.1 .4 2.9 .4-1.3 .5-.9 .4 2.7 .4 .4 .4 1 .4-5.1 .5 1.1 .4-4.4 .4 6.2 .4-3.9 .4 2.6 .5-2.9 .4 3.2 .4-1.8 .4-1.7 .4 4.5 .5-1.9 .4 .4 .4-1.9 .4 3.7 .4-2.9 .5-1.3 .4 2.1 .4 1.7 .4-2.5 .4 2.2 .5 2.4 .4-6 .4 1.9 .4-.7 .4 2.6 .5-1.6 .4 .8 .4-2.1 .4 3.2 .4-3.8 .5 5.1 .4 .6 .4-4.1 .4 5.5 .4-6.5 .5-.9 .4 3.7 .4 1.5 .4 1.5 .4-1.9 .5-3.5 .4 3.3 .4-4.8 .4 7.4 .4-4.8 .5-1 .4 1.1 .4 4.6 .4 1.5 .4-7.3 .5 7.9 .4-1 .4-3.1 .4-3.5 .4 1.5 .5 1.6 .4-2.4 .4-.1 .4 .9 .4 5.8 .5-7.6 .4 7.5 .4-3.1 .4 2.5 .4-1.9 .5 3.8 .4-7.9 .4 1.1 .4 2.6 .4 .7 .5-1.8 .4-1 .4-1.2 .4 2.2 .4 4.4 .5-1.5 .4-2 .4 5.1 .4-.2 .4-6.8 .5-.2 .4 5.1 .4 .8 .4-.8 .4 1.4 .5-5 .4 .6 .4-2.2 .4 1.9 .4 3.3 .5-6.7 .4 1.1 .4-.6 .4 4.5 .4-.1 .5 .5 .4 3.1 .4-3.4 .4 .5 .4 1.3 .5-2.1 .4-2.9 .4 1 .4 3 .4-3 .5 .7 .4 3.4 .4-1 .4-2.6 .4-1.3 .5 1.6 .4 3.8 .4-.6 .4-3 .4-1.6 .5 .8 .4 2.3 .4 .8 .4 .5 .4-3.6 .5 3.2 .4 1 .4 2.3 .4-2 .4 1 .5-1 .4-6.6 .4 3 .4 3.9 .4-5.5 .5 2.3 .4-3.3 .4 2.8 .4-4.1 .4 4.2 .5-6.5 .4-.7 .4 2.4 .4-4.9 .4-1.8 .5-1.1 .4-4 .4 .2 .4 1.6 .4-2 .5-4.5 .4 2 .4-.1 .4-.2 .4-4 .5-.3 .4 7.5 .4-3.8 .4 5.2 .4 .1 .5 3.9 .4-3.1 .4 7.4 .4 1 .4-1.5 .5 2.9 .4-2.3 .4 7.1 .4-3.6 .4 4 .5 1.1 .4-4.1 .4 6.6 .4-6.3 .4-0 .5 2.1 .4-.2 .4 2.2 .4-2.5 .4 3.3 .5 1.6 .4 2 .4-4.8 .4-.5 .4 1.8 .5 1.4 .4 2 .4-2 .4-1.1 .4-2.5 .5 2.7 .4 .9 .4-3.8 .4 .5 .4 .6 .5 1.6 .4-.9 .4-1.3 .4 1.7 .4 .8 .5-1.3 .4 3.1 .4-4.5 .4-.2 .4 3 .5 .3 .4 2.3 .4-.6 .4-1.6 .4 1.6 .5-1.6 .4 1.2 .4-.1 .4 2.7 .4-4.8 .5 2 .4 .3 .4 .4 .4-3.6 .4 3.9 .5-4.8 .4 3.2 .4-.2 .4 1.7 .4-.5 .5 .2 .4-4.3 .4 3.1 .4 3.4 .4-2.6 .5 2.2 .4-1 .4-.8 .4 .7 .4 3 .5-6.4 .4 .8 .4-.2 .4 1.5 .4-1.7 .5 6.3 .4-5.3 .4 1.7 .4 3.4 .4-2.8 .5-2.1 .4-.6 .4 1.8 .4-.9 .4 1.3 .5-.7 .4-2.9 .4 5.3 .4 2.2 .4-2.9 .5-3.7 .4 5.6 .4-2.6 .4-.8 .4-1.3 .5 5.4 .4-2.3 .4-2.2 .4 .3 .4 .7 .5-.5 .4 1.8 .4 2.8 .4-6 .4 4.6 .5 .5 .4-4.8 .4 6.9 .4-1.3 .4-.2 .5-5.4 .4 3.7 .4 1.5 .4-1.3 .4-2.8 .5 4.6 .4-2.5 .4-.3 .4 .4 .4-.8 .5 2.8 .4-4.4 .4 7.2 .4-6.8 .4 1.7 .5 1 .4 1 .4-.8 .4 4 .4-5.8 .5 5.3 .4-2.5 .4 3.7 .4-4 .4-2.6 .5 5.9 .4-5.6 .4 4.5 .4 .9 .4-4.3 .5 1.5 .4 1.3 .4-.1 .4 1.8 .4-2.5 .5 1.1 .4 1.3 .4-5.1 .4 5.5 .4-.2 .5-4.7 .4 4.3 .4 .2 .4-.9 .4-3.5 .5 .8 .4-.4 .4-.6 .4 2.5 .4 1.3 .5-.7 .4 2.2 .4-1.9 .4-.2 .4-2 .5 4.8 .4-.7 .4 .9 .4 .2 .4-5 .5 3.7 .4-.9 .4 2.6 .4-5.6 .4 3.6 .5-.3 .4-1.9 .4-1.1 .4 3.4 .4-4.3 .5 1.8 .4-2.5 .4 4.7 .4-1.5 .4 .7 .5 2.1 .4-.5 .4-3.1 .4 3.7 .4-.4 .5-.6 .4 2 .4 .1 .4-2.9 .4 3.9 .5-2.4 .4-1.7 .4 .5 .4 2 .4-3.9 .5 4.1 .4-1.6 .4 .8 .4 2.1 .4-.7 .5-1.4 .4 .2 .4 .7 .4-1.5 .4-.8 .5 3.2 .4-4.5 .4-.3 .4 1.8 .4-2 .5 5.5 .4-2.4 .4 2 .4-4.1 .4-.6 .5 4.3 .4-.3 .4-5.2 .4 4.2 .4-.2 .5-3 .4 .8 .4 3.3 .4-3.9 .4 1.8 .5-.6 .4-0 .4-1.2 .4 4 .4-1.1 .5 .6 .4-.8 .4-2.7 .4 3.5 .4-.7 .5 1.8 .4-3.2 .4-1.3 .4 2.9 .4-1.4 .5 3.2 .4-4.1 .4 4.3 .4-5.8 .4 1.3 .5 1.9 .4 2.3 .4-1.5 .4-1.7 .4-.6 .5 3.7 .4-3.9 .4 3.6 .4-3.5 .4 2.6 .5 .3 .4-2.6 .4-1.6 .4 .5 .4-0 .5-.3 .4 1.6 .4 1.5 .4-1 .4 3.6 .5 .2 .4-2.2 .4 1.4 .4-4 .4 2.3 .5-4.1 .4-.9 .4 .5 .4 2 .4 3.6 .5-6.1 .4 3.4 .4 1.1 .4 2.8 .4-2.7 .5-1.9 .4-.6 .4 1.3 .4 2.5 .4-.5 .5-1 .4-2.3 .4-1 .4 .2 .4 1 .5 1.6 .4-2.2 .4 2.7 .4-2.2 .4 2.9 .5-.9 .4 1.9 .4-4.4 .4 2.6 .4 1 .5-5.1 .4 6.9 .4-3.1 .4 3.8 .4-5.2 .5 1.9 .4 .7 .4-1.1 .4 1.1 .4 2.1 .5-5.4 .4 4.3 .4-2.4 .4 3.4 .4 1.2 .5-4.1 .4-1.1 .4 4.6 .4-.1 .4-1.4 .5 1.6 .4-1.9 .4-1 .4-.1 .4-3 .5 1.1 .4 .5 .4 4.1 .4-2 .4 1.2 .5-1.4 .4-2.6 .4 1 .4 1.4 .4-.1 .5 1 .4-.9 .4-1.9 .4 .9 .4 .5 .5-3.8 .4 3.2 .4 3.3 .4-1.2 .4-.6 .5-.8 .4-.8 .4 1.7 .4-.9 .4 1.8 .5 2.3 .4-2.5 .4-3.9 .4 1 .4 2.9 .5 1.5 .4-2.1 .4 1 .4-3.5 .4-2 .5 7 .4 .3 .4-3.6 .4 2.4 .4-1.5 .5 .3 .4-.6 .4 .3 .4 1.6 .4-3.2 .5 1.5 .4 1.9 .4-5.8 .4 1.6 .4 .2 .5 1.8 .4-1.1 .4 1.7 .4-4.8 .4 1.9 .5-2.1 .4 1.8 .4 1.6 .4-3 .4 5.8 .5-1.3 .4-4.4 .4 5 .4-4.3 .4 2.2 .5-1.6 .4-.1 .4 2 .4 2 .4-5.3 .5 .9 .4 1.8 .4 3.5 .4-2.3 .4 2.4 .5-2.8 .4-.2 .4 2.1 .4-3.4 .4 2.4 .5-4.7 .4 5.2 .4 1.3 .4-5.5 .4-.3 .5 2.7 .4 2.4 .4-.1 .4 2.4 .4-5.7 .5 4.4 .4-3.5 .4 2.2 .4-2 .4 4.3 .5-6.1 .4 2.2 .4 3.3 .4-2.2 .4-1.4 .5-1.4 .4 5 .4-6 .4 .8 .4-1.3 .5 3.9 .4 2.3 .4-5.9 .4 4 .4 1.1 .5-4.4 .4 1.2 .4 2 .4-5 .4 6.9 .5-5.2 .4-.4 .4 3.3 .4-1 .4 1.9 .5-1.4 .4-2.4 .4 1.5 .4 3.4 .4-3.1 .5-2.1 .4 4.2 .4-4.4 .4 2.2 .4 3.9 .5 .4 .4-6.4 .4 .9 .4 2.4 .4 1.7 .5-.1 .4-4.1 .4 1.6 .4 .5 .4-.5 .5 3 .4-3 .4 .9 .4 2 .4-3.3 .5 1.4 .4 2 .4-4.2 .4-.2 .4-1.5 .5 5.7 .4 .2 .4-.3 .4-5.7 .4 2.9 .5 4.3 .4-1.9 .4-1.6 .4 3.3 .4-1.1 .5-3.8 .4 4.4 .4-.7 .4 .2 .4 .7 .5-.5 .4-6.2 .4 3.8 .4-1.5 .4 2.9 .5-1.1 .4 4 .4-6.3 .4-0 .4-1.1 .5 .3 .4 5.2 .4-1.3 .4-3 .4 2.2 .5 .7 .4-2.5 .4-2.2 .4 5.2 .4-1.3 .5-2.4 .4 2.9 .4-2 .4 1.6 .4 1.3 .5-.4 .4-2.8 .4 3.8 .4-4 .4 3.7 .5-3.6 .4 2.7 .4-1 .4 1 .4 1.6 .5-1.3 .4 2.9 .4-5.9 .4 3.9 .4-1.8 .5-4 .4-1 .4 2.7 .4 .2 .4 2.8 .5 .4 .4 .5 .4 1.8 .4-1.6 .4 .2 .5 1.6 .4-2.5 .4-3.4 .4 2 .4-.6 .5 1.9 .4-2.6 .4 3.7 .4-3.5 .4 1.4 .5-1.8 .4 4.6 .4-.7 .4 1.4 .4-4.7 .5-.3 .4 3 .4 1.1 .4-4.3 .4 2.3 .5-4 .4 6.6 .4-1.3 .4 1.8 .4-1.7 .5-1.8 .4-.6 .4 1.3 .4-1 .4 2.6 .5-3.1 .4-.1 .4 3 .4-3.6 .4 .3 .5-2.2 .4 4.9 .4-1.8 .4-.6 .4 3.1 .5-.3 .4-4.7 .4 .4 .4 3.8 .4 .7 .5-3.6 .4 2.1 .4-4.7 .4 3.2 .4-2.1 .5-.3 .4 .1 .4 2.7 .4 .3 .4-1.8 .5 3.2 .4-4 .4-0 .4-.1 .4 1.4 .5 2.7 .4-4.5 .4 5.7 .4-3.9 .4-.6 .5-.5 .4 2.8 .4-4 .4 2.4 .4 .6 .5 .6 .4-.2 .4-2.5 .4-.1 .4 4.6 .5-1.9 .4 2.9 .4-.1 .4-2.1 .4 2 .5-4.2 .4 .2 .4 2.7 .4-2.7 .4 .5 .5-.6 .4 .6 .4 4 .4 .1 .4-1.7 .5 .6 .4-3.2 .4-0 .4-.9 .4 2.8 .5-4.8 .4-0 .4 2 .4-1 .4 .3 .5 1.5 .4-.7 .4 1.9 .4 .9 .4 2.5 .5-4.9 .4 1.7 .4 1.5 .4-4.9 .4 3 .5-2.9 .4 .1 .4 6.7 .4-1.3 .4-2.1 .5 1.2 .4 1.2 .4-1.5 .4-.8 .4-2.9 .5 5.7 .4-1.5 .4-3.6 .4 1.9 .4-.5 .5 3.2 .4-3.3 .4-.8 .4 5.2 .4-4 .5-3 .4-.6 .4 1.4 .4 1.1 .4-2.1 .5 5.1 .4 .8 .4-4.5 .4-1.2 .4 5.3 .5-1.2 .4 1.3 .4-3.7 .4 1.9 .4-1.6 .5-1.9 .4 3.2 .4 2 .4-.8 .4-.2 .5-2.8 .4 2.6 .4-2.7 .4-.9 .4 3.7 .5-1.9 .4 3.2 .4-.3 .4-2.5 .4 1.3 .5 2.9 .4-2.7 .4 .2 .4 .5 .4-5.4 .5 5.5 .4-.7 .4-1.8 .4-3 .4 2.1 .5 1.9 .4-1.2 .4 .3 .4-.8 .4 2.6 .5 1.2 .4-4.3 .4 2.9 .4 1.6 .4-5.9 .5 2.8 .4 2.3 .4-.4 .4-2.9 .4 .7 .5-3.6 .4 3.9 .4 1.3 .4-.7 .4 .1 .5-2.1 .4-2.8 .4-.6 .4-.2 .4-.5 .5-1.8 .4 1.4 .4 2.2 .4-4.1 .4 3.2 .5-1.3 .4 1 .4-.5 .4-6.1 .4 .8 .5-.7 .4 .2 .4 2.4 .4-4.6 .4 4.7 .5 1.8 .4-2.4 .4 2.9 .4-3.7 .4 4.7 .5 1.4 .4-1.6 .4 3 .4-2.1 .4 .4 .5-1.7 .4 3.9 .4-1.7 .4 2 .4-.7 .5-2 .4 3 .4 3.7 .4-1.1 .4-5.2 .5 4.3 .4 2.1 .4-5.7 .4 .2 .4 5.6 .5-1.6 .4 1.1 .4-1.4 .4 .3 .4-2.5 .5-1.1 .4 4.2 .4 1 .4-1.7 .4-3.8 .5 .4 .4 4.5 .4-2.7 .4-1.1 .4 1.1 .5 4.5 .4-2.3 .4-1.6 .4 .5 .4-2.3 .5 5.7 .4-2.3 .4-1 .4-1.3 .4 1.3 .5 2.3 .4 1.2 .4-2.2 .4-1.7 .4 3.9 .5-4 .4 .1 .4-1.6 .4 3 .4 1.9 .5-2.3 .4 1.8 .4-2.2 .4 1.5 .4-2.6 .5 .6 .4 .1 .4 .1 .4 3.1 .4-3.1 .5 1.5 .4-.9 .4 2.8 .4-4.8 .4 .6 .5 2.5 .4-2.2 .4 3.2 .4 1.1 .4-4.2 .5 1.4 .4-4 .4 5.3 .4-2.9 .4 1.7 .5-2.9 .4 2.4 .4-.5 .4 3 .4 1.2 .5-2.5 .4-3.7 .4 .6 .4 2.2 .4 .8 .5 2.3 .4-.8 .4-.9 .4-1.1 .4 .9 .5-2.7 .4 2.4 .4-2.8 .4 1.7 .4-3.3 .5-.2 .4 5.1 .4-.6 .4-3.5 .4 5.2 .5-5.2 .4 5.1 .4-.4 .4-5.9 .4 6.3 .5-1.8 .4-2.1 .4 2.9 .4 1.6 .4-6.2 .5 1.9 .4-.7 .4 4.1 .4-4.8 .4-.9 .5 1 .4 5.1 .4-3.5 .4 3.7 .4-6.1 .5 4.2 .4-2.2 .4-1 .4 .3 .4 1.6 .5-1.2 .4 1.5 .4 3 .4-2.9 .4-3 .5 1 .4 2.8 .4-2.5 .4-.7 .4 .4 .5 1.1 .4 1.7 .4-.9 .4-1.2 .4-1.3 .5 1.1 .4 3.7 .4-4.2 .4-.8 .4 .4 .5 2.4 .4-3.9 .4 2.4 .4 .5 .4 .4 .5-.1 .4 2.8 .4-2.9 .4-.9 .4 3.8 .5-4.2 .4-.3 .4 1.7 .4 3.8 .4-1.4 .5-.4 .4-4.5 .4 6.4 .4-5.7 .4 3.5 .5 1.8 .4-3.1 .4-1.2 .4 4 .4-5.3 .5 2 .4 1.5 .4-.5 .4-2.5 .4 1.4 .5-.5 .4 3.8 .4 1.3 .4-6.1 .4 4.8 .5-3.2 .4-.4 .4 1.4 .4-2.6 .4 3 .5 1.2 .4-4.2 .4 .6 .4 3.2 .4 2.2 .5-5.6 .4 4.8 .4-1.6 .4-2.6 .4 4.5 .5-.8 .4-2.8 .4 2.8 .4-2.9 .4 1.6 .5-2.9 .4 2.7 .4 2.4 .4 .1 .4-1.7 .5 1.4 .4-1 .4 .1 .4-.3 .4-3 .5-2.2 .4 3.2 .4 2.3 .4 .3 .4-4.1 .5 5.9 .4-.4 .4-6.7 .4 3.2 .4-.8 .5 2.1 .4-1.9 .4-.1 .4 1.8 .4-2.7 .5 3.9 .4-1.5 .4-2.9 .4 3.1 .4-.1 .5 2.7 .4 1.1 .4-7.8 .4 5.4 .4-.3 .5-1.2 .4-4.1 .4 6.7 .4-2.1 .4 1.7 .5 .5 .4-4.9 .4 .6 .4-1.3 .4-.5 .5 5.6 .4-3.6 .4 2 .4 1.8 .4-2.7 .5 2.9 .4-5.8 .4-.5 .4 1.8 .4-1.4 .5 .9 .4-.4 .4-.6 .4 .8 .4 3.1 .5-1.7 .4 4.3 .4-2.5 .4 2.2 .4-.5 .5 1.7 .4-1.8 .4-3.3 .4-.5 .4-0 .5 4.2 .4-2.7 .4 4.7 .4-4.5 .4 2.4 .5-5.1 .4 5 .4-6.2 .4 5.9 .4-5.4 .5 6.8 .4-6 .4-.3 .4 3.6 .4-1.8 .5-.6 .4 .8 .4-1.5 .4 2.9 .4 .6 .5-2.3 .4 1.8 .4-3.4 .4 3.1 .4-.2 .5 2.9 .4-2.9 .4 2.5 .4-3.6 .4 1.6 .5 2.1 .4-4.7 .4 4.3 .4 .7 .4-5.8 .5 3.3 .4-1.2 .4-.3 .4-.6 .4-.3 .5 5 .4-1.1 .4 .5 .4-4 .4 2.6 .5-3.1 .4 2.1 .4-3.7 .4 6.3 .4-3.2 .5 1.8 .4-3.6 .4 .1 .4 3.5 .4-.5 .5 .9 .4-2.6 .4 2.2 .4 1.8 .4-.2 .5-.6 .4-2.9 .4 2.4 .4 1 .4-3 .5 .7 .4-1 .4 .4 .4 .3 .4 3.4 .5-1.2 .4-1.5 .4 .6 .4 1 .4 1.4 .5-1.8 .4-2.2 .4 1.9 .4-2.7 .4 2.5 .5-3.4 .4-.6 .4 6.7 .4-3.7 .4-.5 .5 1.3 .4-2 .4 3.8 .4-1.9 .4-2.9 .5 5 .4-3 .4 .6 .4-2.4 .4-1.3 .5 1.8 .4-.8 .4 3.8 .4-1.2 .4 1.5 .5-4.7 .4 4.2 .4-.4 .4-1.8 .4 3.4 .5-5.8 .4 4.1 .4-2.8 .4 2.4 .4-.4 .5-1.9 .4 4.1 .4-5.4 .4 5.7 .4 .6 .5-.9 .4-3.6 .4 3.5 .4-1 .4 1.9 .5-1.8 .4-3.9 .4 2.6 .4-2.3 .4 3.4 .5-3.8 .4 2.7 .4 2.4 .4-6.3 .4 3.9 .5-2.6 .4 2.4 .4-.7 .4-2.6 .4 2.4 .5 2.6 .4-2 .4-1 .4 1.4 .4-3.3 .5 1.8 .4 1.4 .4-1.6 .4 2.2 .4-2.9 .5 3.8 .4 1.1 .4-.1 .4-.3 .4-1.8 .5 2.4 .4-4.6 .4-1.8 .4 2.6 .4 5.3 .5-4.9 .4 .6 .4-1.7 .4 1.6 .4 2.2 .5-1.8 .4-3.4 .4 1.7 .4 1.1 .4-2.1 .5-.7 .4 4.4 .4-3.2 .4 .8 .4 2.3 .5 1.8 .4-4.2 .4-.6 .4 4.1 .4-.6 .5-1.3 .4 .7 .4-.3 .4-4.5 .4 1.2 .5 4.3 .4-4 .4 2 .4-.5 .4-1.6 .5-3.8 .4 3.9 .4-1.8 .4-2.6 .4 .4 .5 .4 .4-3.9 .4 3.1 .4-2.1 .4 2.1 .5-3.4 .4 1.5 .4 1.4 .4-3.8 .4 1.1 .5 1.8 .4 1.5 .4 4.2 .4-3.5 .4 1.1 .5 3.5 .4-1 .4-2.5 .4 .8 .4 3.6 .5-4.7 .4 3.9 .4-2.2 .4-1.3 .4 1.8 .5 2.1 .4-1.4 .4-.7 .4-.8 .4 .1 .5 5.5 .4-1.1 .4 .8 .4-.6 .4 .3 .5-1.3 .4 1.5 .4 0 .4 1.7 .4-4.1 .5 1.3 .4 2.4 .4-1.8 .4 1.4 .4-.3 .5-2.5 .4 .8 .4-2.9 .4 4 .4 1.9 .5-3.8 .4 4.6 .4 0 .4-.2 .4-5.8 .5 6.3 .4 .2 .4-4.8 .4-1.3 .4 .8 .5-.5 .4 2.1 .4-2.3 .4 1.5 .4 .7 .5 2.1 .4 1.7 .4-6.6 .4 7.1 .4-.8 .5 .8 .4-3.1 .4-.7 .4-1.2 .4 .9 .5-1.5 .4-.2 .4 1.5 .4-2.5 .4 .6 .5 2.6 .4-2.8 .4 4.9 .4-1.6 .4-2.2 .5 3.1 .4 1.7 .4-1.6 .4-3.4 .4 2.4 .5 .2 .4 .8 .4-2.2 .4-1 .4 1.6 .5-2.8 .4 4.5 .4 .3 .4-.7 .4-1.5 .5 2.9 .4-4.9 .4 5.1 .4-4.9 .4 2.9 .5-.9 .4-.6 .4 .8 .4 .2 .4-1.7 .5 .3 .4-1.3 .4 1.6 .4 1.8 .4-3.4 .5 .3 .4 4.2 .4-5.3 .4 1.3 .4 .5 .5 2 .4 .5 .4-1 .4-1.3 .4-.6 .5-.5 .4 3.6 .4 1.7 .4-.6 .4-4 .5 1 .4-1.1 .4 2 .4 1.7 .4-4.3 .5 .6 .4 3.8 .4-.5 .4-4.4 .4 3.3 .5-.9 .4 1.9 .4 .6 .4 1.2 .4-5.7 .5-.2 .4 3.6 .4 1.2 .4-3.9 .4 2 .5 2.7 .4 .2 .4 .2 .4-2.2 .4-1.4 .5 2.6 .4-0 .4-4.2 .4 3.5 .4-3.7 .5 6 .4-5.9 .4 3.8 .4 1.5 .4-2.4 .5 .5 .4 .7 .4-5.8 .4 3.4 .4 3.3 .5-3.5 .4-.3 .4-1.3 .4 .3 .4-1.4 .5 5.3 .4-5.7 .4 4.9 .4-3.1 .4-.6 .5 2.7 .4-2.2 .4-.7 .4 6.3 .4 .2 .5-1.8 .4 .8 .4-3.9 .4-.3 .4 .8 .5 1.1 .4 2.3 .4-2.2 .4-.3 .4-2.6 .5 .5 .4 1.6 .4-1.8 .4 2.1 .4 .5 .5-2.3 .4 4.6 .4-1.2 .4 1 .4-1.8 .5-1.4 .4 3.7 .4-2.6 .4 1.2 .4 .6 .5-4 .4 .1 .4 1.6 .4-1.3 .4 1.3 .5 .5 .4 2.1 .4 1.5 .4-7.7 .4 5.1 .5 .4 .4-1.8 .4 3.8 .4-2.8 .4-2.8 .5-.5 .4 4 .4 1.8 .4-2.5 .4 3.2 .5-5.6 .4-1 .4 4.4 .4-.8 .4 1.2 .5-1.7 .4-1 .4 2.5 .4-.5 .4 2 .5-2 .4-.8 .4-1.4 .4 2.1 .4-2.6 .5 5.1 .4-2.7 .4-3 .4 3.9 .4 .3 .5 .3 .4 1.8 .4-5 .4-1.2 .4-0 .5-.2 .4-.8 .4 4 .4-4.4 .4 3.6 .5 1.4 .4-5.1 .4 4.2 .4 .6 .4-.7 .5-3.3 .4 3.5 .4-3.2 .4-1.6 .4 7 .5-2.1 .4 1.8 .4-5.7 .4 2.1 .4-1.6 .5 2 .4-1.5 .4 2.8 .4 2 .4 1 .5-1.7 .4-1.4 .4-.9 .4-0 .4 1.6 .5-1.2 .4-.7 .4 1.9 .4-3.3 .4-.6 .5 5.2 .4-4.3 .4 5.1 .4 .8 .4-5.5 .5 .9 .4 .7 .4-1.7 .4-1.2 .4 2.7 .5-2.1 .4 2.7 .4-1.4 .4 1.6 .4 2.2 .5-5.7 .4 5.6 .4-.9 .4-.5 .4-1.6 .5-1 .4-1 .4 2.7 .4-1.2 .4 3.3 .5-3.8 .4 3.8 .4-1.6 .4 .3 .4 .7 .5-2.4 .4 4.7 .4-5.2 .4 .6 .4 1.6 .5 2.1 .4-4 .4-2.9 .4 3.6 .4 3.2 .5 .7 .4-5.5 .4 3.6 .4 .5 .4-.5 .5 .4 .4-1 .4-.9 .4-1.2 .4 .2 .5-1.2 .4 2.6 .4-3.8 .4 1.2 .4-1.9 .5 1.1 .4-.1 .4-0 .4 .6 .4 .7 .5 4.1 .4-2.3 .4-3.7 .4 1.3 .4 4.4 .5-.3 .4-2.6 .4-2.3 .4 2.9 .4-.4 .5-.8 .4 4.9 .4-1.8 .4 .4 .4-.1 .5 1.1 .4-0 .4-1.8 .4-1.1 .4-2 .5 2.1 .4-2.2 .4 .6 .4 4.3 .4-3.7 .5-.1 .4 3.3 .4-.4 .4-.8 .4-3.2 .5-.1 .4 .2 .4-0 .4 .6 .4-.1 .5-.6 .4 5.7 .4-.6 .4-1 .4-.2 .5-3 .4 1 .4-.5 .4 2 .4-3 .5 1.5 .4-1.4 .4 3 .4 1.9 .4-2.3 .5-2.7 .4-.1 .4 2.6 .4-.9 .4 .1 .5-2.5 .4 .7 .4 .7 .4 .2 .4 2.3 .5 1 .4-.3 .4-4.9 .4 5 .4-3.8 .5-.3 .4-.4 .4 .6 .4-.7 .4 3.9 .5-4 .4 .6 .4 2.7 .4-1.1 .4 4.5 .5-7.4 .4 .6 .4 1.4 .4-1.4 .4 3 .5-.1 .4-.2 .4 .3 .4 1.3 .4-2.4 .5-.8 .4 2.2 .4-3.6 .4 1.8 .4 1.6 .5-1.2 .4 1.7 .4-0 .4 1.8 .4-1.5 .5-2.1 .4 1.1 .4 .9 .4 2.3 .4-1.4 .5-.1 .4 .4 .4-4.7 .4 2.9 .4 3 .5-.5 .4-.7 .4-.1 .4-3.3 .4-.3 .5 2.8 .4-1.1 .4-.6 .4-.8 .4 .5 .5 3.4 .4 .5 .4-5.8 .4 4.5 .4-3.2 .5 1.3 .4-.4 .4 4.1 .4-4.9 .4 2.7 .5-1.3 .4 1.5 .4 .8 .4-2.6 .4-3.1 .5 .3 .4 2.4 .4 3.2 .4-2.2 .4 .5 .5-3.9 .4 2.7 .4-.2 .4 2.5 .4 1.1 .5-2.7 .4 .9 .4-5.6 .4 4.5 .4 1.9 .5 .6 .4 .8 .4-2.5 .4 .4 .4-2.1 .5 .1 .4-.5 .4 5 .4-4.2 .4-1.5 .5 4 .4-2.5 .4-.2 .4 3.6 .4-6.4 .5 1.2 .4 2.5 .4-2.2 .4 4.3 .4 1.2 .5-4.9 .4 4.7 .4-3.9 .4 1.4 .4-1 .5 2.7 .4-3 .4 4 .4-4 .4-.8 .5 5 .4-5.8 .4 1.4 .4 2.7 .4 2.6 .5-.8 .4-.4 .4-5.4 .4 .5 .4 4.5 .5-.2 .4 1.8 .4-4.1 .4 1.3 .4-1.9 .5-.8 .4 2.4 .4 1.1 .4-4.4 .4 2.9 .5 1.8 .4-.1 .4-2.8 .4-2.5 .4 1.9 .5-.8 .4 1.9 .4 .6 .4-.2 .4-2.7 .5 .8 .4 .8 .4 2.8 .4 .6 .4 .5 .5-2.5 .4 1.7 .4-4 .4-0 .4 1.9 .5-.9 .4-.9 .4 4.7 .4-2 .4 1.2 .5-2.9 .4 2.5 .4 .3 .4 1.7 .4-4.8 .5 5.2 .4-1.5 .4-3.2 .4 .1 .4-.2 .5 4.3 .4-2.4 .4-3.3 .4 2.2 .4 2.5 .5-5.5 .4 5.3 .4-.6 .4 .1 .4-4 .5 6.3 .4-6.1 .4 3 .4-2.5 .4-.9 .5-.1 .4 3.9 .4 1.9 .4-1 .4-5 .5 .5 .4 6.8 .4-4.9 .4 3.5 .4-1.8 .5 .8 .4-0 .4-2.2 .4-1.6 .4-.9 .5 5.2 .4-5.1 .4 5.2 .4-4 .4 2.3 .5 1.8 .4-1.1 .4-.4 .4-1.6 .4-1.8 .5 5.4 .4-1.3 .4 1.4 .4-1.8 .4-3.4 .5 4.9 .4-2 .4-3.1 .4 2.5 .4 2.7 .5-6.6 .4 2.9 .4 .7 .4-.4 .4 1.4 .5-3.1 .4-.8 .4 .7 .4 2.7 .4 .5 .5-.5 .4 1.6 .4-2.6 .4-1.7 .4 1.7 .5 3.1 .4-1.6 .4-3.3 .4 1.2 .4 3.4 .5-2.7 .4 2.5 .4-3.7 .4 3.9 .4-2.8 .5-1.6 .4 .6 .4-0 .4 1.7 .4 2.7 .5-1.2 .4 .6 .4-5.4 .4 3.9 .4 1.5 .5-3.1 .4-.5 .4 .8 .4 .4 .4-2.4 .5 2.2 .4-.6 .4 1.7 .4-4.1 .4 1 .5-.6 .4 4.5 .4 1.5 .4-2.8 .4-1.7 .5-.5 .4 1.7 .4-1.2 .4-.5 .4 4.6 .5-2.9 .4 1.5 .4-.2 .4-1.6 .4-2 .5 3.2 .4-.5 .4-2.9 .4 2 .4 3.9 .5-1.4 .4-2.8 .4 .7 .4 2.6 .4-.1 .5-3.9 .4 3 .4 .4 .4 .5 .4-4.5 .5 2 .4 2 .4-1.5 .4 1.3 .4-1 .5-0 .4 1.5 .4-.6 .4-3.6 .4 4.2 .5-4.2 .4 2.5 .4 1.2 .4 .9 .4 1.3 .5-5 .4 .9 .4 1.7 .4 1.9 .4-1 .5-2.1 .4-1 .4-.1 .4 3.5 .4-4.7 .5 1.2 .4 4.5 .4 .6 .4-3.4 .4 1.6 .5-2.8 .4-.5 .4 .9 .4-2.7 .4 2.8 .5 .2 .4 2.9 .4-.5 .4-4.4 .4 1.4 .5-2.7 .4 1.7 .4 3.6 .4-4.5 .4 .5 .5 3.6 .4-2.9 .4 1.7 .4-3.4 .4 5.2 .5-3.9 .4-.6 .4 1.3 .4 .6 .4-.1 .5-1.2 .4 .6 .4 .7 .4-.5 .4 .1 .5 1.4 .4-2.7 .4-.8 .4 .2 .4 1.5 .5 4.1 .4-2.1 .4-.9 .4-1.7 .4 3.1 .5-3.8 .4 2.7 .4-1.5 .4 .7 .4-1.8 .5 .4 .4-.7 .4 2.8 .4-1.3 .4 3.7 .5-1.4 .4-1.6 .4 3.1 .4-3.8 .4-2.1 .5 5.8 .4 .2 .4-4.8 .4 1.2 .4-1.8 .5 2.7 .4 2.1 .4-4 .4 3.5 .4-.9 .5-2.7 .4 .2 .4 .2 .4-.1 .4 2.2 .5-3.7 .4 5.5 .4-4.8 .4 1.9 .4 1.5 .5-4.1 .4 1.8 .4 2.7 .4-0 .4-1.8 .5 2.2 .4-.8 .4 .6 .4 .6 .4 .3 .5-.7 .4-1.9 .4 2.5 .4-.1 .4-4.9 .5 2.7 .4 2.9 .4-2.1 .4-.8 .4-.9 .5 3.3 .4-3.1 .4-.1 .4 2.1 .4 2.9 .5-2.1 .4-4.8 .4 1.9 .4-.1 .4 2.7 .5 1.8 .4-1.7 .4-3.8 .4 3 .4 1.1 .5-1.7 .4-2.4 .4 3.2 .4-.5 .4-1.1 .5-1.7 .4 1.6 .4 2.2 .4-2 .4 2 .5-2.1 .4-.6 .4 2.4 .4 .2 .4 .7 .5-0 .4-1.2 .4 1.7 .4 1.5 .4-3.5 .5 .7 .4-3.5 .4-0 .4 3.7 .4-1.3 .5-.4 .4 .6 .4-3.2 .4 4.8 .4 .6 .5-1.2 .4-4.4 .4 2 .4 2.9 .4 1.9 .5-1.9 .4-1 .4-1.9 .4 4 .4-2.3 .5 3.2 .4-2.4 .4-3.1 .4 .4 .4 4.8 .5-5.1 .4-.6 .4 .7 .4 1.5 .4 4.2 .5-6.8 .4 4.9 .4-3.5 .4 3 .4 1 .5 .1 .4-5.2 .4 5.2 .4-4.5 .4 .6 .5-.1 .4 4.8 .4-1.2 .4 .2 .4-4.4 .5-.7 .4 5.4 .4-2.2 .4 2.2 .4-2.5 .5-0 .4-.4 .4 1.5 .4-1.8 .4-3 .5 2.5 .4 2.9 .4-.5 .4 .6 .4-.4 .5-.8 .4 .9 .4-4 .4 1.4 .4-2.2 .5 2.4 .4 1.7 .4-2.3 .4 2.9 .4-3.1 .5 .3 .4 1.2 .4-1.2 .4-1.4 .4 2.8 .5-.7 .4 3.4 .4-3 .4-1 .4 4.4 .5-.8 .4-.2 .4-2 .4-1.5 .4 4.5 .5-1.5 .4-.2 .4-3 .4 2 .4-3.3 .5 5.9 .4-4.8 .4 4.2 .4-.5 .4-.2 .5 1.1 .4-3.8 .4-.8 .4 4.1 .4-3 .5-2.8 .4 3.1 .4 3.5 .4-.5 .4 .3 .5-3.6 .4-3 .4 6.8 .4-2.6 .4-.9 .5-1.2 .4 3.3 .4-4.8 .4 5.9 .4-.9 .5-4.1 .4 4.4 .4 1.1 .4-6.1 .4 3.5 .5-.2 .4-.6 .4 4.8 .4-5 .4 1.4 .5 1.8 .4-1.3 .4 .1 .4 2.2 .4-3.5 .5 1.9 .4-4.3 .4 1.2 .4 .4 .4 1.8 .5-2.8 .4 .1 .4 3.1 .4 2.5 .4-1.9 .5-1.7 .4-1.3 .4 2.6 .4-2.5 .4-0" stroke="#FF0000"/>
<path d="M307.0 893.1l.4-3.7 .4 3.2 .5-8.6 .4 5.2 .4-1.4 .4 3.6 .4-6.8 .5 7.4 .4-2.7 .4 3.8 .4-4.7 .4 .8 .5 2.1 .4 2.4 .4-5.9 .4 5.2 .4 1.1 .5-8.4 .4 4.3 .4-.7 .4 3 .4-2.4 .5-5.2 .4 2 .4-.1 .4-.9 .4 4.3 .5-4 .4-2.6 .4 3.4 .4 1.5 .4 1.8 .5-3.7 .4-4.5 .4 7 .4-3.7 .4 2.6 .5-2.6 .4-4.5 .4 4.6 .4 2 .4-6.3 .5 2.7 .4-1.4 .4-1.2 .4-.5 .4 8.5 .5-1.8 .4-5.7 .4 2.4 .4-6.1 .4 9.2 .5-4.9 .4 1.3 .4-7 .4 1.6 .4 .7 .5 2.6 .4-6.1 .4 .2 .4 4.2 .4-3.3 .5-5 .4-1 .4 3.7 .4-5.3 .4 2.3 .5 6.9 .4 1.8 .4-6.4 .4-1.9 .4 9.9 .5-1 .4-3.9 .4 3.8 .4-5.3 .4 6.2 .5-1.1 .4 2.5 .4-5.9 .4 4.2 .4-2 .5 1.2 .4-2.3 .4 1.6 .4-.4 .4 2.9 .5-7.9 .4 1.4 .4-1.3 .4 4.2 .4 2.5 .5-4.6 .4 4.8 .4-1.7 .4 .8 .4 .5 .5 1.7 .4-.8 .4-5.5 .4-1.3 .4 6.2 .5-3.2 .4 4.1 .4-3.1 .4-1 .4 5.2 .5-7.6 .4 2.2 .4-.6 .4-.1 .4 6.6 .5-1.2 .4 .8 .4-1.6 .4-6.9 .4 2.1 .5 2.4 .4 4.2 .4-7 .4 1.7 .4 4.6 .5-6.9 .4 4.8 .4 .3 .4-1.5 .4 1.3 .5-2.7 .4-2.7 .4 6 .4 .7 .4-.8 .5-5.4 .4 4.6 .4-0 .4-8.2 .4 9.2 .5-7.3 .4 9.1 .4-9.3 .4 7.6 .4-8.6 .5 5.5 .4 2.6 .4 1.1 .4-1 .4-.6 .5-4.3 .3 2.8 .1-3.9 .4 6.1 .4-2 .4-4.5 .5 3.1 .4-7.9 .4 9 .4-2.2 .4-4.8 .5 3.2 .4-.1 .4-1.5 .4 .7 .4-2.1 .5-.1 .4-.6 .4-1.1 .4 .4 .4 1.1 .5 1.1 .4-2.6 .4 1.8 .4-.1 .4-1.8 .5-3.5 .4 3 .4-3.4 .4 2.3 .4 2.5 .5-3.6 .4 1.2 .4-4 .4 4.4 .4-4.4 .5 3.4 .4-2.8 .4-.9 .4-1.1 .4-.7 .5 3.5 .4-1.2 .4-2.4 .4 2.2 .4-1.3 .5 1.7 .4-4 .4 2.5 .4 1 .4-1.7 .5 .4 .4-.6 .4-.5 .4 .5 .4-4.1 .5 4.4 .4-3.3 .4 1.6 .4-2.3 .4 .2 .5 .1 .4-3.4 .4 2.8 .1-2.6 .3 3.1 .4-2.8 .5 1.4 .4-.7 .4 2.9 .4-2.6 .4 1.5 .5 3.1 .4-1.5 .4 2 .4-1.4 .4 2.9 .5-1.3 .4 1.9 .4-1.5 .4-.9 .4 .1 .5 3.1 .4 .2 .4-2.2 .4 .7 .4 .2 .5 3.3 .4-2.7 .4 2.6 .4-1.3 .4 3.6 .5-2.6 .4 4.6 .4-3.5 .4-1.5 .4 .9 .5 4.6 .4-4.5 .4 2.2 .4 4.3 .4-3.1 .5 1.8 .4 1.1 .4-.2 .4 4.5 .4-8.6 .5 2.7 .4 .1 .4 1.8 .4 4.3 .4-7.6 .5-.9 .1 3.7 .3-.4 .4 4.3 .4-1 .4 4.9 .5-8.4 .4 .4 .4-1 .4 7.7 .4-.1 .5-.8 .4-1.4 .4 .9 .4-2.8 .4 5 .5-6.6 .4 4.9 .4-1.6 .4-1.1 .4 3.2 .5-1 .4-5.5 .4-.5 .4 3.6 .4-5.2 .5 8.8 .4-3.2 .4 1.2 .4 3.7 .4-2.7 .5 1 .4-4.8 .4 4.4 .4 .9 .4-4.4 .5 2 .4 2.2 .4-6.5 .4-2.7 .4 5.2 .5 5.4 .4-3.8 .4-4.9 .4 9.5 .4-6.2 .5-.6 .4-2.5 .4 3.7 .4 4.2 .4-4 .5 2.5 .4 3.5 .4-12.7 .4 8.1 .4-5.6 .5 3.1 .4 3 .4-2.6 .4 2.7 .4-5.9 .5 3.8 .4 1.4 .4-1.5 .4-3.6 .4 6.1 .5-7.8 .4 2.8 .4 3.1 .4-4.2 .4-4.6 .5 5.8 .4 1.7 .4-7.6 .4 7.9 .4-8.5 .5 7.8 .4-3.4 .4-2.1 .4 1.8 .4 2.2 .5 .2 .4 2.3 .4 1 .4-5.6 .4 2.1 .5 .1 .4 6.8 .4-7.1 .4 8.1 .4-6.6 .5 4.4 .4-1.3 .4-.9 .4 4.5 .4-5.3 .5 3.5 .4 1.7 .4 .4 .4-1.9 .4 .4 .5 3.6 .4-9.7 .4 10.2 .4-5.8 .4 5.2 .5-9.7 .4 3 .4 3.3 .4-.6 .4 4 .5-5 .4-1.8 .4 5.4 .4-5.2 .4 7.1 .5-8.1 .4 .5 .4 6.2 .4-5 .4 6.7 .5-8.1 .4 3.5 .4 1.1 .4-.4 .4-6.1 .5 6 .4-3.5 .4-2.8 .4 9.7 .4-7.2 .5-1.7 .4 1.3 .4 6.9 .4 3.6 .4-3.6 .5-.1 .4-4.4 .4 3.3 .4 2 .4-4.7 .5 4.9 .4 1.5 .4-2.5 .4 .3 .4-5.7 .5 2.6 .4-.3 .4 .7 .4 7.4 .4-1.6 .5-7.7 .4 5.3 .4-3 .4 3.4 .4 3.5 .5-6.7 .4 1.7 .4-1.1 .4 5.3 .4 .1 .5-8.1 .4 2.9 .4 2.3 .4 3.8 .4-2.5 .5-2.7 .4 7.2 .4-7.9 .4 4.2 .4-6.1 .5 .9 .4 5.6 .4 1.4 .4-2.6 .4-5.7 .5 .9 .4 7.7 .4-5.8 .4-2 .4 1 .5 3.2 .4 1.7 .4-2.6 .4-3.3 .4 7.6 .5-7.4 .4 1.1 .4 5.6 .4-3.1 .4 4.5 .5-3.6 .4 1.2 .4-2.2 .4 3.2 .4 2.3 .5-9.2 .4 9.6 .4-.1 .4-7.3 .4-2 .5 4.5 .4 1.7 .4-5.2 .4-.6 .4 3.3 .5 3.4 .4-1.9 .4-.2 .4 .1 .4 1.7 .5-3.6 .4 2.7 .4-3.5 .4 8.1 .4-7.6 .5 7 .4-2.3 .4-.9 .4-.7 .4-.3 .5-1.1 .4-3.9 .4 6.8 .4-.4 .4-2 .5 4.3 .4 .7 .4-6.9 .4 2.5 .4-2.3 .5 3.6 .4-3.9 .4-.2 .4 7.4 .4-8.9 .5 6.9 .4-1.9 .4-5 .4 5.6 .4-3.6 .5-.5 .4-4 .4-3.5 .4-4.3 .4-2.4 .5 .6 .4-2.1 .4-6.1 .4-.5 .4 .4 .5-4.9 .4-2.4 .4 6.5 .4-4.5 .4 4.1 .5 5.1 .4-6.8 .4 7.1 .4 .4 .4 6.4 .5 1.7 .4-2.2 .4 7.3 .4 4.5 .4-.5 .5-2.9 .4 8.3 .4-1.4 .4-.9 .4-4 .5 3.2 .4-.5 .4-0 .4 6.1 .4 1 .5-.3 .4-4.4 .4 6.6 .4-1 .4-7.7 .5 8.2 .4 .4 .4-3.9 .4-.9 .4 4.9 .5-9 .4 9.4 .4-3.1 .4-0 .4 .4 .5-.5 .4-2.4 .4-1 .4 .7 .4-3 .5 8.4 .4 1.9 .4-4 .4-1 .4-0 .5 3.4 .4-3.8 .4 .3 .4 3.1 .4-3.9 .5-2.2 .4 3.4 .4 2.9 .4 1.1 .4-6.2 .5 4 .4-4.5 .4 5.2 .4-6.1 .4 2.1 .5 4.6 .4-5.9 .4 5.2 .4-2.8 .4 6 .5-2.4 .4-4.1 .4 6.5 .4-2.9 .4-4.3 .5 2.3 .4 3.6 .4 1.6 .4-6.5 .4 3.6 .5-2.7 .4 4.4 .4-6.9 .4 7.9 .4-2.5 .5 .8 .4-1.3 .4 2 .4 1.8 .4-8.9 .5 5.1 .4-3.9 .4 3 .4 2.8 .4-2.4 .5 4.1 .4-8.2 .4 2.4 .4 .3 .4-1.5 .5 4.6 .4 1.4 .4-2.5 .4 .7 .4-1.3 .5 2.5 .4-3.7 .4 .6 .4-1.4 .4 5 .5-.6 .4 1.9 .4 2.1 .4-3.7 .4-3 .5 .5 .4 3.9 .4-.4 .4 .8 .4-6.8 .5 .7 .4 6.4 .4-4.3 .4 3.5 .4-2.9 .5 3.9 .4-6.2 .4 7.7 .4-6 .4 3.7 .5-3.6 .4 3.4 .4-.5 .4 2 .4-2.6 .5 .4 .4-1.4 .4 .4 .4-3.9 .4 4.4 .5-5.1 .4 3 .4-0 .4-2.8 .4-1.2 .5 5.2 .4-.5 .4-.8 .4 1.4 .4-5.1 .5 1.3 .4-.2 .4 2.7 .4-5.5 .4 4.1 .5-7.9 .4 3 .4 4.9 .4-7.4 .4 .3 .5-1.1 .4 3.4 .4-5.4 .4 1.8 .4-1.1 .5-1.7 .4 1.5 .4-4 .4 6.4 .4-3.1 .5 2 .4-5.3 .4 5.6 .4-1.3 .4-3.5 .5 2.5 .4-3 .4-.8 .4 4.9 .4-.3 .5 3.6 .4-2.9 .4 4.6 .4-1.7 .4-5.3 .5 7.8 .4-1 .4-3.4 .4 1 .4 1.7 .5 2 .4-.5 .4 2.2 .4-.2 .4 1.5 .5-.6 .4-2.3 .4 7.4 .4-2.6 .4-4.5 .5 2.6 .4 5.7 .4 1.7 .4-4.2 .4-.8 .5 .3 .4 .3 .4 2.2 .4-0 .4-1.8 .5 6 .4-6 .4-0 .4 4.2 .4-3.6 .5 5.5 .4-4.6 .4 2.6 .4-5.5 .4 5.1 .5-3.2 .4 7.8 .4-5.8 .4 2.2 .4-1.4 .5 2.5 .4-3.2 .4 1 .4 2.9 .4-7.1 .5 4.3 .4 1.9 .4-4.7 .4-1.8 .4 2.6 .5 .4 .4-.1 .4-3.9 .4-2.8 .4-1.5 .5 .4 .4-3.9 .4 2.8 .4-2.3 .4-.4 .5-4.9 .4 3.3 .4-.3 .4-1.9 .4 1.9 .5 1.6 .4-3.4 .4 4 .4-.1 .4 1.5 .5 4.8 .4-4 .4 4 .4 5 .4-1.4 .5-.1 .4 3.8 .4-4.3 .4 4.8 .4-.1 .5-3.4 .4 2.1 .4 5.7 .4-7.5 .4 7.8 .5-4.8 .4 5 .4-1.7 .4-2 .4 2.1 .5-4.6 .4 2.7 .4 1.9 .4 .9 .4-2.2 .5-2.2 .4 5.5 .4 .1 .4-3.4 .4 3.5 .5-5.1 .4-.1 .4 6.4 .4-6.6 .4 4.2 .5 1.5 .4-1.2 .4 2.4 .4-7.8 .4 5.3 .5 .6 .4-2.1 .4-1.5 .4 5.4 .4-3.2 .5 1.3 .4-3.7 .4 1.8 .4 3.6 .4-5.7 .5 5.5 .4-6.4 .4 7.1 .4-2.6 .4-2.2 .5 2.2 .4 .8 .4 1.6 .4-.7 .4-0 .5-3.4 .4 2.7 .4 .5 .4-3.6 .4-.3 .5 4.6 .4-3.7 .4 3.9 .4-6.5 .4 1.9 .5-1.6 .4 6.1 .4-5.5 .4 5.4 .4-3.6 .5-0 .4-.7 .4-.9 .4 4.6 .4-1.4 .5 3.4 .4-6.1 .4 .2 .4 6.1 .4 .2 .5-4.8 .4-3.3 .4 2.4 .4-.2 .4 1.8 .5 .1 .4-3.3 .4 3.3 .4 1.4 .4-3.2 .5 1 .4 2.9 .4 1.3 .4 1.5 .4-3 .5-2.5 .4-1 .4-1 .4 .7 .4 5.1 .5-5 .4 2.2 .4-2.5 .4 4.6 .4 1.2 .5-1.7 .4 1.3 .4-4.8 .4 .6 .4-.4 .5 1.5 .4-2.8 .4 7.1 .4 1.2 .4-1.6 .5-4.1 .4 2.5 .4 .7 .4-3 .4 1.4 .5 3.3 .4-0 .4-3.1 .4-3.4 .4 6.8 .5-4.2 .4 1.8 .4 .9 .4-2.3 .4 4.7 .5-3.7 .4 2.3 .4 .1 .4-4.9 .4-1.1 .5 4.1 .4 2.7 .4-5.8 .4 5.7 .4-4.1 .5 1.4 .4-3.1 .4 2.5 .4 1.9 .4 1.5 .5-4.3 .4 4.3 .4-2.9 .4 2.4 .4-2.2 .5-1.7 .4 5.6 .4 1.4 .4-6.7 .4 2.5 .5-1.7 .4 1.1 .4 1.1 .4 2.5 .4-1.7 .5 3.1 .4-.8 .4-6.3 .4 5 .4-1.2 .5-4.1 .4 4.8 .4-.5 .4-3.4 .4 5.6 .5 .6 .4-2 .4-4.9 .4 2 .4-.1 .5-2.3 .4 5.2 .4-1.4 .4 .4 .4 1.6 .5-2.3 .4 1.7 .4-.1 .4 2 .4-6.6 .5 2.3 .4 4.4 .4-1 .4-4.6 .4 5.7 .5 .4 .4-0 .4-5.7 .4 4.3 .4-5.7 .5 4.6 .4 1.1 .4 .1 .4-3.3 .4 1.7 .5-.4 .4-1.6 .4 1.1 .4 4 .4-1.6 .5-3.7 .4-1.1 .4 7.1 .4-7.7 .4-21 .5 22.9 .4-.9 .4 4.6 .4 1.1 .4-3.9 .5 3.6 .4-6.2 .4 2.1 .4 1.9 .4 .1 .5-.4 .4 3.5 .4-4.1 .4-1.7 .4 5.2 .5-2.2 .4-.4 .4 .6 .4 .7 .4 .9 .5-2.8 .4-0 .4-.6 .4 1.2 .4-.3 .5-.6 .4 .1 .4-.2 .4 3 .4-6.8 .5 2.9 .4-2 .4 3.1 .4-2.3 .4 3.3 .5-2.2 .4 5.8 .4-2.9 .4-2.3 .4 4.6 .5-.8 .4-3.8 .4 3.6 .4-.8 .4-4.4 .5 1.1 .4 .1 .4 2.6 .4 1.2 .4-4.8 .5 .5 .4-.7 .4 2.8 .4-1.9 .4 3 .5 2.4 .4-2.6 .4-1.3 .4 1.6 .4 2 .5 1.1 .4-3.6 .4 2.7 .4-1.3 .4-.4 .5-.2 .4 .6 .4-1.3 .4-2.3 .4 4 .5-3.5 .4 4.4 .4-4.2 .4 3.6 .4-1.7 .5 .1 .4 2 .4 1.8 .4-4.7 .4 .9 .5 .3 .4-4.3 .4 2.2 .4 2.4 .4-3.4 .5 1.5 .4 3.8 .4 .2 .4-4.3 .4-1.1 .5 4.2 .4 1.4 .4-3.8 .4 2.9 .4-4.2 .5 3.8 .4-5.8 .4 7.2 .4-4.1 .4 .7 .5 .7 .4-1.6 .4-.9 .4 1.1 .4 2.1 .5 .3 .4-0 .4-4.7 .4 5.1 .4-.1 .5-4.1 .4 1.3 .4 .4 .4 1.7 .4-2.7 .5 1.5 .4 .8 .4 2.3 .4-1.2 .4 1.1 .5-4.2 .4 2.5 .4-3.8 .4 2.7 .4 3.2 .5-1.8 .4-.7 .4-.7 .4 2 .4-1.3 .5 1.6 .4-4.6 .4 2.8 .4-.9 .4-2 .5 2 .4 1.5 .4-4 .4-.1 .4 5.3 .5-2.3 .4 .5 .4-4 .4 .9 .4 2.8 .5 2.3 .4-3.5 .4 1.8 .4-2.2 .4-1.3 .5 3.3 .4-2.4 .4 1.8 .4-1.4 .4-.8 .5-.8 .4 .7 .4 2.9 .4 1 .4-.2 .5 .2 .4 1 .4-2.6 .4 1 .4 .2 .5-5.1 .4 3.4 .4-1.6 .4 1.7 .4-2.9 .5 1.8 .4 5 .4-5.4 .4 3.8 .4-1 .5-2.2 .4-1.2 .4 4.4 .4-4.5 .4-.3 .5 6 .4-5.1 .4 2.3 .4-2.8 .4 .7 .5 5.1 .4-3.8 .4 .6 .4-1.6 .4-2.4 .5 5.6 .4 1.8 .4-6 .4 2.8 .4 .9 .5-1.3 .4 .7 .4 .2 .4 .1 .4-0 .5-.9 .4 2.9 .4 .3 .4-2.9 .4-1.1 .5-1.5 .4 3.5 .4 1.2 .4-6.1 .4 4.9 .5-1.5 .4 .4 .4-.8 .4-1.6 .4 3.8 .5-4.1 .4 .8 .4 1.6 .4 1.8 .4 .6 .5-2.5 .4-.3 .4 3.7 .4-0 .4-.9 .5 .1 .4-3.5 .4 .4 .4 .1 .4-1.3 .5 .7 .4-1.2 .4 2.9 .4-1 .4 3.5 .5-2.9 .4-2.3 .4 2.8 .4 1.1 .4-2.9 .5 3.9 .4-4.6 .4 .8 .4 3.9 .4-.1 .5 .1 .4-3.1 .4 1.6 .4-2.1 .4-.1 .5 1.9 .4 2.9 .4-6.5 .4 5.7 .4-4.5 .5 3.7 .4-2.7 .4-2.4 .4 6.4 .4-2.9 .5 2.5 .4-4.1 .4-2.3 .4 2.1 .4 1.6 .5 3.2 .4-2.7 .4-1.6 .4-2.2 .4 3.8 .5 .1 .4-1.2 .4 2.3 .4 .1 .4-3.3 .5 .8 .4 1.8 .4 1.7 .4-2 .4-2.4 .5 5.3 .4-5 .4 3.1 .4 1 .4-4.8 .5 4.4 .4-.1 .4-.6 .4-1.5 .4-2.2 .5 6 .4-5.8 .4 6 .4-.4 .4-.4 .5-4.5 .4 5.4 .4-1.3 .4-.2 .4-3.2 .5-1.3 .4-1.1 .4 5.4 .4 .6 .4-5.2 .5 1.2 .4 .8 .4-1.7 .4 2.6 .4 .7 .5 .8 .4-3.9 .4 2.9 .4-3.9 .4 3.4 .5-3 .4 .6 .4 1.7 .4-1.3 .4-.3 .5-.5 .4 2.7 .4-2.6 .4 .6 .4 5.3 .5-4.1 .4-.8 .4 5.1 .4-.7 .4-2.9 .5-.5 .4 2.1 .4 .2 .4-2.3 .4 3.3 .5-.4 .4-6.2 .4 7.3 .4-7.5 .4 2.7 .5 3.7 .4-.3 .4-4.5 .4 1.9 .4 2.3 .5 .8 .4-.4 .4-2.9 .4 2.5 .4-2.5 .5-.4 .4 3.7 .4-4.5 .4-1 .4 .7 .5 3.7 .4-1.5 .4-4 .4 .7 .4 5.8 .5-1.2 .4-2.4 .4-.9 .4 2 .4-4.7 .5 4.9 .4 1 .4 .5 .4-3.6 .4-2.1 .5 3 .4 .9 .4 .1 .4-1.9 .4-.8 .5 1.1 .4-1.5 .4 2.2 .4-2.9 .4 2 .5 .7 .4 4 .4-1.3 .4-5.1 .4 1.6 .5-1.7 .4 2.7 .4-.8 .4-2.6 .4 2.9 .5-1.4 .4 6.7 .4-4.1 .4-0 .4-3.2 .5 6.4 .4-5.2 .4 4.5 .4 .7 .4-6.2 .5-1 .4 4.6 .4 1 .4-1.7 .4 1.5 .5 1.1 .4-5.5 .4 3.9 .4-3.1 .4 5.2 .5-.8 .4-1.2 .4-2.1 .4 2.1 .4-4.8 .5 5.3 .4-4.3 .4 2.9 .4 .2 .4 1.6 .5-3.3 .4 1.5 .4-.9 .4 2.5 .4-4.9 .5 3.7 .4-1.9 .4 2.8 .4 .9 .4-.4 .5-3.6 .4 3.6 .4-.7 .4-3.4 .4-0 .5 .1 .4 1.7 .4-.3 .4 .7 .4 .6 .5-.2 .4 4 .4-2.2 .4 1.5 .4-2.2 .5-1 .4-1 .4-.6 .4 1.3 .4-1.6 .5 5.4 .4-1.5 .4-4.5 .4 3.4 .4 .7 .5 .3 .4-.2 .4-2.3 .4 3 .4-3 .5-1.9 .4 5.3 .4-1.1 .4-5 .4 2.2 .5 1.2 .4-1.8 .4 3 .4-3.3 .4 1.7 .5 3.9 .4-2 .4-3.8 .4 .9 .4-2.2 .5 2.3 .4 4 .4-7 .4 2.4 .4 1.8 .5-.6 .4-1 .4 .8 .4-3.4 .4 5.5 .5-2.3 .4 .7 .4 .8 .4-2.2 .4-1 .5 4.7 .4-4.2 .4 3.2 .4-1.7 .4-2 .5 5 .4-5.2 .4 6.2 .4-3 .4-3.7 .5 5.6 .4-.8 .4-1.8 .4 2 .4-3.8 .5 .5 .4 4.8 .4-7.4 .4 2.8 .4 2.2 .5-1.6 .4-2.5 .4 1.8 .4 4.4 .4-1.8 .5 2.2 .4-7.1 .4 1.7 .4 5 .4-1.3 .5-2.3 .4-3.3 .4 3.5 .4 .9 .4-2.8 .5 2.8 .4-5.6 .4 3.1 .4-3.8 .4 4.5 .5-3.5 .4 2.9 .4-6.6 .4 4.1 .4-3.5 .5 .9 .4 1.4 .4 .2 .4-2.8 .4-1.9 .5 3.5 .4-2.9 .4 .1 .4 1.9 .4 .8 .5-3.6 .4 1.2 .4 4.4 .4-.7 .4-.4 .5 3.1 .4-4.1 .4 3.4 .4-3.3 .4 5.8 .5-3.2 .4 .9 .4-1.3 .4-.3 .4 1.4 .5 2 .4 .6 .4-.9 .4-1.4 .4 6 .5-5.6 .4 1.5 .4 1.7 .4-0 .4-2.2 .5-.2 .4 5.5 .4-3.6 .4-3.8 .4 2.8 .5 4.4 .4-6 .4 2.3 .4-3.3 .4 5.5 .5-2.8 .4 2.4 .4-.2 .4 .2 .4-4.1 .5 .3 .4 .6 .4 3.7 .4-3.9 .4-1.8 .5 1.5 .4 2 .4 1 .4 1.3 .4-1.5 .5 .5 .4 .7 .4-2.7 .4 3.5 .4-1.9 .5-.7 .4-.9 .4-1.2 .4-.1 .4 3.2 .5-3.8 .4 2.8 .4 4.5 .4-5.8 .4 1.6 .5-1.2 .4 .5 .4 1.5 .4 1.4 .4-4.3 .5 3.6 .4-3.2 .4-2.2 .4 2.7 .4 1.8 .5-1.1 .4 1.9 .4-.7 .4-.4 .4 .2 .5-.8 .4 2.8 .4-1.3 .4-4.1 .4 4.9 .5 1.8 .4-1.4 .4-2.4 .4-3.7 .4 4.6 .5-1 .4-0 .4-1.9 .4 5.2 .4-4 .5-1.1 .4 1.5 .4 2 .4-.6 .4 2.4 .5-.9 .4 .4 .4-1.3 .4-.1 .4-.6 .5-.1 .4-1.1 .4-.2 .4 2 .4-4.1 .5 5.9 .4-5.2 .4 .4 .4 1.2 .4 1.3 .5-.1 .4-2.1 .4 3.4 .4 1.3 .4-3.7 .5 .1 .4 3.1 .4-3.2 .4 2.3 .4-5.5 .5 .9 .4 3.9 .4-2.2 .4 .8 .4-.9 .5-1.6 .4 2.4 .4 2.9 .4-.5 .4-5.6 .5 3.3 .4 .4 .4-3.4 .4 1.1 .4 1.4 .5-1.7 .4 4.2 .4 .4 .4-.7 .4 .8 .5 .6 .4-4.8 .4 2.8 .4-2.8 .4 .6 .5 .2 .4 1.2 .4 3.3 .4-2.1 .4-1.9 .5-2.8 .4 4.5 .4-1.9 .4 .8 .4-.7 .5-2.1 .4 1.3 .4 .7 .4 2.6 .4-3 .5 4.3 .4-.7 .4 .2 .4-3.6 .4 .9 .5-1.1 .4 1.2 .4 2.8 .4-5.5 .4 3.4 .5 2 .4-1 .4-.1 .4-3.1 .4-.1 .5-1.1 .4 .6 .4 2.7 .4-1.2 .4 1.7 .5 1.8 .4-6.1 .4 1.4 .4 2.6 .4-.7 .5 .4 .4 1.8 .4-4 .4 1.1 .4-2 .5 2.4 .4-.7 .4-2.3 .4 .9 .4 4 .5-2.4 .4 .4 .4-0 .4 2.9 .4-6 .5 3.6 .4-3.6 .4 5.2 .4-1.7 .4-1.4 .5 .2 .4 1.8 .4 .7 .4-.8 .4 2.3 .5-4.9 .4 .3 .4 1.8 .4-2.1 .4-.5 .5 2.9 .4 3 .4-2.3 .4-4 .4 6 .5-.9 .4-2.8 .4 1.8 .4-2.6 .4-.8 .5 4.2 .4-4.9 .4 5.6 .4-1.6 .4-.3 .5 .3 .4 .6 .4-5 .4 4.8 .4-3.5 .5 .3 .4 5.4 .4-6.2 .4 .5 .4 4.9 .5-2.8 .4-3.3 .4 6.1 .4-2.1 .4 1.7 .5-4.4 .4 2.8 .4-1.8 .4-.3 .4 1.6 .5-0 .4-1.6 .4 .4 .4-0 .4-.3 .5 1 .4-1.2 .4-1.2 .4 .5 .4 2.5 .5-1.8 .4-.8 .4 4.7 .4-3.4 .4 2.9 .5-2.8 .4-1.1 .4 1.5 .4-.8 .4-2.2 .5 .8 .4 1 .4 4.1 .4-3.3 .4 1.3 .5-1.4 .4-1.3 .4 4.3 .4 .5 .4-2.9 .5 2.9 .4-4.7 .4 1 .4 2.9 .4-.6 .5-.6 .4 1.4 .4-5.2 .4 5.8 .4-2.8 .5 2.2 .4 .6 .4-2.9 .4 1.2 .4 1.4 .5-.1 .4-3.6 .4-1.2 .4 2 .4-.5 .5-2.1 .4 4.7 .4 2.3 .4-3.3 .4-.9 .5-1.2 .4-1.1 .4 3.1 .4-3.2 .4 3.3 .5-3.2 .4 4.8 .4-2.8 .4 1.2 .4 1.8 .5 1.7 .4-6.1 .4 1.3 .4 4.1 .4-5.2 .5 .7 .4 1 .4 2.3 .4-1.4 .4 .2 .5-2.2 .4 4.1 .4-.9 .4 .5 .4-1.6 .5 .6 .4-1.8 .4 1.5 .4-1.5 .4-2 .5 6.4 .4 .1 .4-4.8 .4 2.8 .4 1 .5-4.6 .4 1.3 .4 3.6 .4-3.1 .4 1.9 .5 1.1 .4-2.1 .4 .4 .4-.8 .4 2.4 .5 .4 .4-2.1 .4 .4 .4 1.5 .4-.9 .5-2.8 .4 1.1 .4 .8 .4-1.3 .4-.8 .5 1 .4-.2 .4 2.5 .4-.1 .4 .4 .5-.6 .4 .6 .4-4 .4 1.5 .4-3.4 .5 .6 .4 .7 .4 2.6 .4-.4 .4 .5 .5 2 .4-.9 .4-2.7 .4 .3 .4 2.1 .5-.7 .4-.3 .4 3 .4-2.5 .4-.6 .5-2.2 .4 4.4 .4-.1 .4-.9 .4-.2 .5-0 .4-0 .4-1 .4-0 .4 .2 .5 2.5 .4-2.3 .4-1.8 .4 .5 .4 4 .5-1.1 .4-2.1 .4 1.9 .4 2.4 .4-4 .5 2.7 .4-2 .4-.6 .4 3.9 .4-3.8 .5 .2 .4 3.6 .4-3.8 .4-1.2 .4-1.7 .5 4.7 .4 .1 .4-3.1 .4 2 .4 .3 .5 2.3 .4-5.6 .4 .8 .4-1.7 .4 .7 .5 2.2 .4-0 .4-1.5 .4-.7 .4 5.8 .5-3.9 .4 3.8 .4-1 .4-1.2 .4-2.2 .5 .1 .4-.9 .4 1.8 .4 2 .4-1.1 .5 .3 .4-1.8 .4 1.3 .4-2.8 .4 3.2 .5-3.3 .4 4.9 .4-5.4 .4 4.3 .4-2.1 .5 2 .4-1.2 .4-2.3 .4 3.7 .4-.8 .5 .3 .4-2.5 .4-1.1 .4-1.8 .4 3.5 .5-4.1 .4 5 .4-6.1 .4 4.3 .4-.1 .5-2.1 .4 3.2 .4-7.3 .4 5.3 .4-1.7 .5 .7 .4 .2 .4-1.8 .4 .2 .4 3.4 .5-1.2 .4-3.5 .4 .9 .4 1.4 .4-.8 .5-2.5 .4 4.2 .4-2.9 .4 5.3 .4 .4 .5-4.1 .4 4.2 .4-1.3 .4-.8 .4 2.3 .5-2.8 .4 .6 .4 3 .4-2.1 .4-.5 .5 1.2 .4-2.1 .4 2 .4 .2 .4 3.9 .5-1.3 .4-1 .4 1.1 .4-1.3 .4 2.5 .5-5.1 .4 5.1 .4-5.3 .4 1.7 .4 3.2 .5-3.9 .4-.9 .4 2.8 .4-3.1 .4 .4 .5-.8 .4 2.6 .4-.9 .4 5.2 .4-4.4 .5 3.5 .4-3.3 .4-1.9 .4-.1 .4 5.3 .5-4.8 .4-.6 .4 2.9 .4 3.7 .4-3.7 .5-1.7 .4 2.3 .4 .2 .4 1.1 .4-5.1 .5 4.7 .4 .3 .4-2.2 .4-1.7 .4 3.3 .5-.5 .4-1.8 .4-.4 .4 2.4 .4 .8 .5-.3 .4 1.7 .4-4.1 .4-0 .4-.3 .5-.7 .4 1.8 .4-.4 .4 1.5 .4-2.3 .5 1.9 .4-.5 .4 .2 .4 1.4 .4-2.1 .5-1.3 .4 3.1 .4-2.9 .4 .1 .4 4.1 .5-3.3 .4 1.3 .4-1.6 .4 2 .4-2.2 .5 2.8 .4-3.4 .4 4.8 .4-3.3 .4-2.2 .5 1.1 .4 2.4 .4-.5 .4 1.1 .4-3.2 .5 4.4 .4-1.3 .4 2.3 .4-3.4 .4-1.5 .5 3.7 .4 1 .4-3.9 .4-.7 .4-1.1 .5 4.1 .4-2.2 .4 1.4 .4-.9 .4-2.1 .5 2.2 .4-1.1 .4 1 .4 3.9 .4-2.1 .5-1.3 .4 2.3 .4 .7 .4 .1 .4-1.5 .5-1.4 .4-2.6 .4 .1 .4 3.4 .4-5.1 .5 1 .4 1.6 .4 2.7 .4 1.1 .4-2.6 .5-1.2 .4 1 .4-.6 .4 .1 .4 2.5 .5-4.3 .4 .2 .4 2.7 .4-2.3 .4 4.4 .5 1.1 .4-.5 .4-5.6 .4 4 .4 .8 .5-2 .4-1.8 .4 1.6 .4-1 .4-2.4 .5 4.4 .4 1 .4-.6 .4-4.9 .4 4.2 .5 1.6 .4-2.2 .4 2.8 .4-4.7 .4-.2 .5 3.1 .4-3.4 .4 .2 .4 2.6 .4-.9 .5 1.6 .4-4.4 .4 1.7 .4 2.7 .4-1.7 .5-.7 .4 .7 .4 2.4 .4-4.3 .4 3.5 .5-1.4 .4 .1 .4 .9 .4 1.9 .4-1.7 .5-.7 .4-3.3 .4 4.9 .4 1.1 .4-2.6 .5-.4 .4 .4 .4 1.4 .4-2.3 .4 1.2 .5 1.7 .4 .3 .4-5.6 .4 1.4 .4 2.1 .5-.6 .4 .3 .4-1.7 .4 2.1 .4 2 .5-4.6 .4 1 .4 3.4 .4-2.4 .4-2.3 .5 1.2 .4 3.6 .4-2.1 .4-1.1 .4-.7 .5-1.8 .4-.5 .4 5 .4-2.3 .4-1.3 .5 6.4 .4-5.1 .4 .2 .4 .6 .4-2.4 .5 .8 .4 4.7 .4-.5 .4 .8 .4-2 .5-2.4 .4 4.2 .4-2.2 .4-.3 .4 2.2 .5-1.2 .4 .4 .4-3.3 .4 3.1 .4-3 .5-.4 .4 4.2 .4-4 .4-.3 .4 3.8 .5-2.8 .4 3.7 .4-0 .4-3.8 .4 .4 .5 2.3 .4-0 .4-3 .4 3.7 .4-1 .5-3 .4 3.7 .4 .5 .4-2.3 .4 2.1 .5 .2 .4-4.1 .4 4.9 .4-6.1 .4 2.2 .5 4.5 .4-1.6 .4-3 .4 3.7 .4-3.2 .5-.3 .4-.5 .4 1.4 .4 3.5 .4-2.7 .5-0 .4 1.5 .4-3.6 .4 3.8 .4-4.2 .5 1.5 .4 .3 .4-1.4 .4-.3 .4 3 .5-.1 .4-3.4 .4 2 .4 1.3 .4 .2 .5-1.1 .4 2.1 .4-4.2 .4 3.1 .4-2.5 .5 1.1 .4-.1 .4 2.3 .4-3.5 .4-.5 .5-.2 .4 2.3 .4 2.1 .4-3.4 .4-1.6 .5 3.3 .4 1 .4 1.8 .4-.7 .4-3.7 .5-.1 .4 1.2 .4-.9 .4 .4 .4-1.7 .5 .2 .4 1.6 .4 2.9 .4-2.8 .4-2.7 .5 7 .4-3.8 .4 .4 .4 2.4 .4-3.1 .5-.8 .4-2 .4 6.4 .4 .1 .4-1.9 .5-1.5 .4 1.8 .4-.1 .4-.2 .4 1.4 .5-.3 .4-5.4 .4 5.4 .4-2.8 .4-1 .5 2.8 .4-.3 .4 1.7 .4-2.8 .4-.7 .5 .4 .4 3.3 .4-1.1 .4 1.2 .4-1.5 .5-2.9 .4-2.5 .4 6 .4-5.5 .4 .2 .5 2.9 .4 2.6 .4-4.7 .4 4.7 .4-2.1 .5 1.9 .4-4.4 .4 3.9 .4-1.7 .4 .3 .5-.7 .4-.8 .4-0 .4 2.3 .4-2.6 .5-1.3 .4 1.6 .4 1.1 .4 .6 .4-.4 .5-0 .4 .9 .4 2.6 .4-5.4 .4 2.9 .5-.9 .4-0 .4-1.9 .4 2.6 .4 .2 .5-1.7 .4-.1 .4-1.6 .4 3.4 .4 .8 .5-2.3 .4 1.1 .4-.1 .4 .9 .4 .1 .5 1.4 .4 1.4 .4-1.9 .4-.3 .4 2.3 .5-5.6 .4 2.4 .4-1.7 .4 .9 .4-2.7 .5 4 .4-3.1 .4 3.5 .4-4.6 .4 4.8 .5-.8 .4 .8 .4-.3 .4 .8 .4 1.4 .5-1.2 .4-.9 .4-2.8 .4 1.3 .4 1 .5-.6 .4-.1 .4 3 .4-1.5 .4 1.7 .5-1.2 .4-2.9 .4-.4 .4 2.3 .4 1.1 .5-3 .4 3.1 .4-.8 .4-.9 .4 .3 .5-4.5 .4-.3 .4 4.6 .4 .6 .4-.9 .5 1.1 .4-1.9 .4-1.9 .4-.6 .4 5.6 .5-6.5 .4 5.2 .4 .2 .4-3.4 .4 3.9 .5 1.8 .4-2.4 .4-1.8 .4 .6 .4 2.2 .5-5.1 .4 1.8 .4-2.5 .4 4.5 .4 1.5 .5 .3 .4 1.1 .4-6.7 .4 4 .4 2.4 .5-3.6 .4-.4 .4 2.9 .4-2.6 .4 .5 .5 1.7 .4 .2 .4-3.3 .4 2 .4-1.2 .5 .7 .4 .7 .4 1.3 .4-.8 .4 .1 .5-3.4 .4 2 .4-1.9 .4 3.4 .4-3.3 .5 .5 .4 .8 .4-1.1 .4 2.3 .4 1.3 .5-2.7 .4 4 .4-1 .4-4.8 .4 2.4 .5 .9 .4 .5 .4 2.6 .4-5.3 .4 1.7 .5-.5 .4-.2 .4 3.6 .4-4.1 .4 1.9 .5 2.7 .4-4.8 .4 .6 .4 3.9 .4-1.7 .5-.1 .4-1.8 .4 1.7 .4-3.4 .4 4.8 .5-5.1 .4 5 .4-1.4 .4-.6 .4-2.4 .5 3.1 .4-1.4 .4 2.1 .4 2.1 .4-4.7 .5 3.5 .4-5.5 .4 2.5 .4-.9 .4 1.1 .5-2.3 .4 1.8 .4 1.4 .4 2.2 .4-2.8 .5-2.4 .4 1.3 .4 2.7 .4-3.8 .4 4.3 .5-5.9 .4 5.6 .4-1.4 .4 1.6 .4 2.1 .5-5.9 .4 1.7 .4-1.5 .4-0 .4 2.1 .5 .2 .4-1 .4 2.5 .4-.7 .4 1 .5-.7 .4 .2 .4-2.5 .4-1 .4-.3 .5 2.8 .4 1.6 .4-.6 .4-.9 .4-.9 .5-2 .4 4.3 .4-3.4 .4 3.8 .4-1.3 .5 .9 .4-2.5 .4-2.5 .4 2.7 .4-.9 .5 2.3 .4-2.7 .4-.3 .4 3.8 .4 1.3 .5-1.2 .4-2 .4-3.3 .4 3 .4 3.9 .5-3 .4-.7 .4-0 .4-.4 .4 2.4 .5-2.4 .4-.9 .4-1.1 .4 .9 .4 .3 .5-1.3 .4 2.3 .4-1.1 .4-.2 .4 2.6 .5-1.6 .4-.4 .4 2.3 .4-1.9 .4 3.4 .5-1 .4-4.8 .4 1.9 .4 2.5 .4-4.9 .5 6.4 .4-4.3 .4 1.6 .4 3.3 .4-2.7 .5 1.6 .4-1.7 .4-1.5 .4-2.3 .4 1.3 .5 3.9 .4-3 .4 4.5 .4-2.4 .4-1 .5-2.2 .4 5.8 .4-1.5 .4 1.4 .4-3.9 .5-.7 .4 .5 .4-2.3 .4 4.4 .4 1 .5 .1 .4-4 .4-.1 .4 2.6 .4 2.1 .5-.3 .4-2.7 .4 2.3 .4-4.8 .4 .2 .5 5.3 .4-1.1 .4-3.8 .4 1.8 .4-0 .5-.1 .4 1.6 .4-4.3 .4 .8 .4 3.5 .5-.8 .4-3.7 .4 6.3 .4-.2 .4-5.8 .5-.2 .4 3.5 .4-3 .4 2 .4-3.1 .5 5.7 .4-1.9 .4-.6 .4 .2 .4 2.7 .5-3.5 .4-.1 .4 4.1 .4-5 .4 3.2 .5 1.5 .4-3.1 .4 1.5 .4-1.9 .4 1.9 .5-2.9 .4 2.1 .4-2 .4 1.9 .4 .3 .5-1.9 .4 2.1 .4 .6 .4-3.1 .4 3.7 .5 1.1 .4-2.5 .4-1 .4-2.3 .4 2.5 .5 2.2 .4 2.7 .4-7.1 .4 .6 .4 .5 .5-.6 .4 .5 .4-1.1 .4 .6 .4 2.3 .5-0 .4-1.6 .4 .1 .4 1.7 .4-.9 .5-.5 .4 2.1 .4-.7 .4-.6 .4-1.8 .5 4.7 .4-3 .4-1.7 .4 3.3 .4-2.3 .5 .5 .4 1.2 .4 1.2 .4 .1 .4-.3 .5-.4 .4-.8 .4 .7 .4 2.3 .4-5.3 .5 2.5 .4-1.5 .4 1.7 .4 1 .4-2 .5 1 .4-2.4 .4-.6 .4 2.3 .4-.9 .5 2.4 .4-1.4 .4 1.7 .4-.3 .4-4.4 .5 2.9 .4-1.6 .4 .1 .4 1 .4 2.7 .5-2.5 .4-1.8 .4 4.6 .4 1.2 .4-3.2 .5-1.8 .4 1.4 .4-2.3 .4 2.4 .4-1.1 .5 1.6 .4-.7 .4 .5 .4-3.6 .4-.1 .5 1.7 .4 4.1 .4-.9 .4-4.6 .4 1.5 .5 1.5 .4-2.8 .4 4.4 .4-3.2 .4-.2 .5 1.1 .4 2.3 .4-.6 .4-.5 .4 1.7 .5-4.3 .4 4.2 .4-2.5 .4 .7 .4 2.4 .5-2.9 .4 .8 .4-2.6 .4-.3 .4 1.2 .5-.6 .4 2.2 .4 .2 .4-3.2 .4 2.4 .5-1.1 .4 2 .4-3.1 .4 1 .4 3.7 .5 .6 .4 .2 .4-.9 .4 .3 .4 .1 .5-2.2 .4 1 .4-3.9 .4 .5 .4 .4 .5 1 .4 1.8 .4 1.2 .4-5.7 .4 2.9 .5-.2 .4-2.6 .4 1.1 .4 4.5 .4-.2 .5-5 .4-.9 .4 4.4 .4 1.2 .4-.6 .5 .8 .4-.8 .4-4.4 .4 1.1 .4 1.8 .5-1.4 .4 4.8 .4-2.5 .4 .6 .4-3.7 .5 3.2 .4 2.1 .4-5.4 .4-.2 .4 2.3 .5 2 .4-.9 .4-.1 .4-1.6 .4 2.9 .5-5.4 .4 6 .4-.1 .4-2.2 .4-2 .5 2.6 .4-2.8 .4 2.6 .4 2.6 .4-2.6 .5-2 .4-0 .4 1.6 .4-2.9 .4 .5 .5 .8 .4 1 .4 .8 .4-3.9 .4 1 .5 .8 .4 3.7 .4-4.9 .4 4.7 .4-2.3 .5 .6 .4 .3 .4-.1 .4-1.6 .4 5 .5 .2 .4-5.1 .4 3 .4-2.6 .4 2.2 .5 1.4 .4 .1 .4-3.7 .4 .2 .4 .6 .5 .7 .4 2.2 .4-4.6 .4-1.3 .4 5.4 .5-4.5 .4 5.5 .4-1.5 .4-1.4 .4-2 .5 .2 .4 2.4 .4 2.2 .4-1.6 .4 1.6 .5-4.6 .4 3 .4 1.3 .4-2.2 .4-1.7 .5 1.7 .4 2.1 .4-4.9 .4 3.3 .4-3.8 .5 .3 .4 5.5 .4-3 .4-1.9 .4-.7 .5 1.7 .4 1 .4-.7 .4 2.6 .4-3.5 .5-.3 .4-.4 .4 1.4 .4-2.6 .4 3.1 .5 1 .4-2.8 .4-.6 .4 .7 .4-.4 .5 2.5 .4-2.2 .4-1.1 .4 2.6 .4 3.3 .5-4.4 .4-.2 .4-1 .4 4.7 .4 1.2 .5-5.4 .4 3 .4-3.2 .4 3 .4 .4 .5-2.9 .4 1.6 .4 2.8 .4-2.8 .4 1.6 .5-5.1 .4 1.5 .4 1.6 .4 .8 .4 .4 .5 .3 .4 2.6 .4-4.3 .4 1 .4 .5 .5-1.3 .4 .7 .4-1.6 .4-.4 .4 1.5 .5 2.5 .4-2.5 .4 4.2 .4-1.3 .4-4 .5 1.9 .4 1.4 .4-1.1 .4 1.2 .4 2.1 .5-2.5 .4 .1 .4-3.1 .4 3.9 .4-1.2 .5-2.7 .4 2.6 .4-1.9 .4 2.6 .4-1.7 .5-2.7 .4 4.4 .4-.2 .4-2.3 .4 5.4 .5-1.6 .4-2.5 .4 1.6 .4-.1 .4-1.4" stroke="#0000FF"/>
<path d="M307.0 825.3l.4-.7 .4-2.1 .5-3.5 .4-1.6 .4 3.3 .4-.2 .4-3.3 .5 .5 .4 7.9 .4-2.5 .4-5.3 .4 2.7 .5 4 .4-.7 .4 .2 .4-3.7 .4-.4 .5 1.7 .4-4.7 .4 2.6 .4-1.3 .4 3.7 .5-8.3 .4 7.5 .4 1.1 .4-6.3 .4 4.4 .5 2 .4-8.8 .4 5.6 .4-5.7 .4 3.5 .5-.4 .4-2.3 .4 2.5 .4 3.3 .4-3.4 .5-3.5 .4 4.7 .4 .1 .4 .5 .4-3.1 .5-1.2 .4 5.9 .4-4 .4 1.8 .4-2.1 .5-3 .4 7.8 .4-8.5 .4 7.8 .4-3.4 .5 3 .4-5.8 .4 7.3 .4-5.3 .4-2.2 .5 4 .4-.7 .4-.5 .4-2 .4-3.6 .5 4.7 .4-5.3 .4 7.1 .4-1.9 .4-2.1 .5 2.2 .4-4.1 .4 2.9 .4 2.5 .4-3.4 .5 1.9 .4-1.3 .4 4.3 .4-.9 .4-3 .5 1.5 .4-6.3 .4 6.3 .4 .9 .4-6 .5 3.1 .4-2.3 .4 5.7 .4-5.5 .4-.2 .5-3.6 .4 4.9 .4 1 .4 2 .4 2.2 .5-6.1 .4 5.7 .4-7.5 .4 6.3 .4-6.9 .5 2.8 .4-3.5 .4 6.3 .4 1.1 .4-7 .5 2.7 .4-2.1 .4 .5 .4 1.2 .4-3.9 .5 8.7 .4-5.3 .4 1.9 .4-4.1 .4 .5 .5-.1 .4 1 .1 4.9 .3 .5 .4-4.5 .4-.6 .5 2.1 .4 2.1 .4-6 .4 5 .4-3.6 .5 3 .4-1.2 .4-1.8 .4 1.4 .1-.1 .3-4.1 .5-1 .4 1.7 .4-.6 .4-.7 .4-.8 .5 .9 .4 1.6 .4-.1 .3-1.8 .1-1.1 .4-1.5 .5-.6 .4-1.2 .4-1.1 .4-4.6 .3 .7 .1-4.9 .5-5.6 .4-11.6 .4-5 .4-10 0-.2 .4-10.1 .5-11.8 .3-7.8 .1-3.7 .4-7.6 .4-7 .4-8.2 .2-1.9 .3-8.4 .4-3.5 .4-8 .4-5.2 0 .4 .4-3.9 .5-3.1 .4-2.4 .4-2.1 .2-4.2 .2 3.6 .4 5.3 .5 .9 .4 8.1 .1-.8 .3 3.6 .4 .8 .4 4.2 .5 1.8 .1 .3 .3-6 .4-8.4 .4-7.3 .4-12.9 .1 1 .4-10.2 .4-8.8 .4-8 0 2.1 .4-6.2 .4-4.3 .2-1.3 .3 .8 .4 5.3 .4 7.3 .2-2.3 .2 6.1 .4 5.3 .5 6.8 .4 7.1 .2 2.1 .2 5.8 .4 1.3 .4 2.2 .5 2.7 .4 4.7 .4 3.9 0 1.1 .4-3 .4-3 .5-3.7 .2-4.8 .2-2.4 .4-8.1 .4-12.6 .2-.1 .2-9.9 .5-13.4 .3-13.8 .1-3.7 .4-22.8 .4-25.6 .1-.7 .3-24 .5-32.2 .2-16 .2-9.8 .4-30.5 .3-17.5 .1-6.3 .4-17 .2-6.2 .3 7.9 .4 16.1 .2 8.7 .2 16.1 .4 37.9 .4 33.3 0 .7 .5 34.3 .4 38.7 .1 5.7 .3 15.6 .4 24.6 .4 16.6 .4 19.6 .1 4.6 .4 9.2 .4 15 .4 17.3 .2 4.6 .2 3 .5 9 .4 6.8 .4 10 0 1.3 .4 1.3 .4 8.4 .5 4.3 .2 4.1 .2 3.5 .4 3 .4 1.3 .4 4.1 .2 1.6 .3 1.4 .4 2.4 .4 3 .4-.3 .4 3.1 .5-1 0 2.4 .4 3 .4-1.2 .4 .7 .4 .9 .5 .9 .4 1.9 .4-1.3 .1 0 .3 3.7 .4-1.2 .5 .7 .4-2.1 .4 3.1 .4-1.3 .4-.3 0 2.2 .5-2.4 .4 2.3 .4-1 .4 .8 .4 2 .5-1 .4 1.7 .4-2.8 .4 4.1 .4-0 .5-1.3 .4-.5 .1 1.2 .3-2 .4 .6 .4-.2 .5-.4 .4 1.2 .4 .4 .4 3.6 .4-3.3 .5 2.2 .4-2.2 .4 .2 .4-.2 .1 4.1 .3 .4 .5-4.1 .4 3.9 .4-2.7 .4-.1 .4 2.8 .5-3.1 .4 6.8 .4-6.3 .4 3.4 .4 .6 .5-2.7 .4 3.5 .4 2.4 .2-3.2 .2-3.1 .4 4.8 .5 0 .4-.4 .4 .1 .4-3.6 .4 1.3 .5 1.4 .4-4.5 .4 5.2 .4-2.2 .4 .8 .5 4.2 .4-2.9 .4-1.8 .4 3.3 .4 2.7 .5-1.3 .4-1.9 .4-4.3 .4 3.1 .4-1.1 .5-3.2 .4 4.7 .4-2 .4-2.2 .4 1.9 .5-7.8 .4-1.2 .4 5.3 .4-8.4 .4-3.7 .5 1.2 .4 1.5 .4 3.6 .4-4.5 .4 3.1 .5 1.2 .4 .8 .4 7.8 .4 1.5 .4 1.5 .5-1.3 .4-4.7 .4 3.5 .4 2.8 .4-.7 .5 3.6 .4 1 .4 1 .4-3.3 .4-2.8 .5 6.4 .4-.7 .4-5.8 .4 1.4 .4 3.9 .5-.3 .4 1.9 .4-5.3 .4-1.7 .4 3.8 .5 .2 .4 2.8 .4-2.1 .4 .3 .4-3.3 .5 5.3 .4 .4 .4-.6 .4-5.2 .4-1 .5 3.3 .4 .8 .4 1.1 .4-2.4 .4 3.7 .5 .4 .4-5.6 .4 6.3 .4-7.1 .4 2.6 .5 .5 .4 .3 .4-2.4 .4 5.2 .4 1.6 .5-6.4 .4 .2 .4 3.4 .4-4.5 .4 7.3 .5-1 .4 1.6 .4-5.4 .4 3.7 .4-4.5 .5 1 .4-1.7 .4-1.3 .4 6.3 .4-4.5 .5 8.6 .4-5.5 .4 1.1 .4 1.4 .4-4.8 .5-3.3 .4 5.1 .4-1.8 .4-.9 .4 .5 .5 4.7 .4-4.3 .4 1.4 .4-1.7 .4 1.8 .5 3.6 .4-6.9 .4 4.8 .4 0 .4-2.5 .5-1.7 .4-.3 .4-4.2 .4 4.1 .4 1.8 .5-2.5 .4-4 .4 .7 .4 2.6 .4-8.7 .5 2.9 .4 4.4 .4-4 .4 2.8 .4-4 .5-6.8 .4 6.7 .4 .3 .4-4.5 .4 3.2 .5 3.5 .4-6.3 .4-1.2 .4 2.1 .4 6.2 .5 2.5 .4-6.7 .4 8.3 .4-5.8 .4 2.8 .5 3.1 .4-5.3 .4 4.9 .4 2.6 .4-3.4 .5 4 .4-2 .4 5.1 .4-2.2 .4 2.8 .5-5 .4 1.7 .4-.5 .4 1 .4 .3 .5 1.3 .4 .6 .4 .9 .4 1 .4-3.3 .5 4 .4 .9 .4-3.9 .4 2.3 .4-3.1 .5 4.9 .4-4.7 .4 1.9 .4 3.6 .4-5.9 .5 0 .4 2 .4 1.3 .4 1.5 .4-2.4 .5 1.9 .4-3.6 .4 7.4 .4-6.2 .4 1.6 .5-1.2 .4 .3 .4 2.5 .4-2 .4-2.1 .5 1 .4 1.4 .4-2.8 .4-3 .4 6 .5-5.4 .4 3 .4-1.9 .4-2 .4 1.4 .5-7.8 .4 1 .4-1.3 .4-2 .4-5.8 .5-2.6 .4 2.6 .4-2.6 .4-3.1 .4-4.9 .5-.5 .4 3.5 .4-.4 .4-.4 .4-5.6 .5 4.1 .4 1 .4 5.6 .4 1.2 .4 1.9 .5 2.3 .4-1.3 .4 9.3 .4-1.4 .4 2.2 .5-2.1 .4 8.2 .4 1.4 .4-3.2 .4 1.6 .5-2.9 .4 7.4 .4 .4 .4-4.1 .4 5.8 .5-1.6 .4 3.1 .4-2 .4-5.2 .4 2 .5 4.8 .4-5.2 .4 .1 .4 5.4 .4 .4 .5-4.1 .4 .4 .4-2.5 .4-.7 .4 .2 .5 5.2 .4-.5 .4-3.7 .4 6.2 .4-3.6 .5 .7 .4 1.2 .4-3.6 .4 5.6 .4-3.9 .5 0 .4-1.7 .4 .1 .4 2.9 .4 1.2 .5-1.2 .4 .6 .4 1.2 .4-3.6 .4-2.5 .5 5.8 .4 2.1 .4-6.6 .4 2.6 .4 1.4 .5-2.1 .4-2.1 .4 2.3 .4-3.6 .4 1.3 .5 .6 .4 1.1 .4 .8 .4 3.1 .4-4.5 .5 4.4 .4-4.3 .4 3.8 .4-1.9 .4 2.7 .5-.4 .4-1.3 .4-5.6 .4 6.7 .4-5.2 .5 4.5 .4-5.3 .4 1.7 .4-.1 .4 2.1 .5-.1 .4 1.5 .4-3.1 .4 .9 .4 3.8 .5-2.3 .4-1.3 .4 2 .4 1.8 .4-4.1 .5-2.3 .4 1.3 .4-1.5 .4 1.5 .4 2.9 .5 1.1 .4-6.3 .4 1.7 .4 .4 .4 4.2 .5-2.4 .4-.6 .4-2.6 .4 4.4 .4-.5 .5-2.5 .4 3.8 .4 1.6 .4-4.8 .4 1 .5-.9 .4-1.4 .4-.5 .4-.1 .4-1 .5 5.9 .4-1.3 .4-.7 .4 1.7 .4-3.5 .5-1.6 .4 2.4 .4 1 .4-1.6 .4-4.1 .5-2.4 .4 0 .4 5.4 .4 .9 .4-6.8 .5 4.5 .4-7.4 .4 5.6 .4-2.4 .4-2.3 .5-1.4 .4-4.4 .4 4.9 .4-7.1 .4-.9 .5 3 .4-3.3 .4-2.1 .4-1.5 .4-3.6 .5-2.5 .4 4.6 .4-3.3 .4-1 .4-1 .5-4.3 .4-3 .4 3.1 .4-7.3 .4 1.1 .5 1 .4 1.6 .4 1.2 .4-2.9 .4-2.5 .5 4.9 .4-2.7 .4-.2 .4 2.1 .4-3.7 .5 1.6 .4 .3 .4 8.1 .4-2.5 .4 2.7 .5-.2 .4 3.2 .4 4.4 .4-3.4 .4 .3 .5 5.3 .4-2.5 .4 3.9 .4 1.8 .4 1 .5 3.4 .4 3.7 .4 2.4 .4-1.5 .4 1 .5 3.7 .4-2.6 .4 0 .4-.9 .4 3.8 .5-2.2 .4 2.7 .4 2.9 .4 .1 .4 2.8 .5-2 .4 3 .4-6.6 .4 7.5 .4 .5 .5-5.4 .4 2.7 .4 2.5 .4-4.6 .4 6.9 .5 .7 .4-1 .4-1.5 .4 .7 .4 2.8 .5-.3 .4-4.6 .4 3 .4-3.2 .4 5.2 .5-6.1 .4 2.8 .4 .7 .4-1.6 .4 .7 .5 0 .4 1.6 .4-.8 .4 .8 .4-1.9 .5 0 .4-6 .4 5.1 .4 .1 .4-7 .5 2.8 .4-1.4 .4-6.8 .4 2.2 .4-4.7 .5-1 .4 2.8 .4-3.1 .4-1.3 .4 2.6 .5-6.5 .4 1.3 .4 7.2 .4-3.4 .4 5 .5 2.2 .4-1.2 .4-1.8 .4 4.5 .4 3.9 .5 2 .4 3.5 .4-2.7 .4-.9 .4 6.8 .5-4.7 .4 6.9 .4-.3 .4 .7 .4-3.6 .5-.5 .4 2.8 .4-2.2 .4 2.5 .4-2.9 .5 1.2 .4 3.1 .4-3.3 .4 4.9 .4-1.9 .5-4.7 .4 3.4 .4-3.2 .4-.4 .4 3.3 .5-3.6 .4 1.5 .4 1 .4-1.1 .4 4.7 .5-3.9 .4 .8 .4 2 .4-.3 .4 1.7 .5-.4 .4 2.1 .4-7 .4-.5 .4 3.8 .5-1.2 .4-.7 .4 2.3 .4-.6 .4-1.8 .5 2.3 .4 1.7 .4-2.3 .4 2 .4-3.5 .5 5 .4-4.2 .4 1.2 .4-1.8 .4 2.8 .5-1.5 .4 2.5 .4-5.3 .4 4 .4-1.2 .5 4.9 .4-3.2 .4 .5 .4-3.8 .4 .8 .5 3 .4 .9 .4-6.4 .4 4.4 .4-1.3 .5-1.2 .4 3.8 .4 .1 .4-1.2 .4 2.1 .5-2.4 .4-1.2 .4 4.8 .4-.4 .4 .4 .5-5.6 .4 2.5 .4-3.6 .4 .5 .4 1.7 .5 1.2 .4 .9 .4-.8 .4 .7 .4-1.4 .5 1.2 .4-4.3 .4 6.2 .4 0 .4-.7 .5 1.6 .4-1.1 .4-4.1 .4 5.1 .4-.8 .5-2.2 .4-3.3 .4 6.5 .4-5.4 .4 .4 .5 1.7 .4 3.8 .4-5.9 .4 1.7 .4 3.4 .5-.1 .4-1.5 .4 .5 .4 .1 .4 .8 .5-3.4 .4 .9 .4 4.9 .4-1.5 .4-2.2 .5-.9 .4 2.6 .4-3.7 .4 2.2 .4 .5 .5 2.1 .4-1.6 .4 .1 .4-2.8 .4 1.7 .5 .9 .4-1.5 .4 2.8 .4-6.2 .4 7.7 .5-3.1 .4-2.1 .4-1.3 .4 0 .4 6.5 .5-1.6 .4 1.4 .4-.4 .4-4.5 .4-1.3 .5 3 .4-.4 .4-3 .4 4.1 .4-.9 .5 3.5 .4-1.6 .4-3.7 .4 .2 .4 2.3 .5 2.1 .4 1 .4-2.4 .4-1.6 .4-2.6 .5 3.5 .4 3.1 .4-6.5 .4 3.4 .4 2.4 .5-.1 .4-5.4 .4 3 .4-1.1 .4 5.8 .5-1.6 .4-3.8 .4 .9 .4 3.3 .4-6 .5 2.1 .4 2.7 .4-3.2 .4 .2 .4 3.9 .5 .7 .4 .1 .4-.4 .4-2.5 .4-1.7 .5 2.9 .4 .3 .4 1.3 .4-1.6 .4 .7 .5-5.7 .4 .9 .4 6.9 .4-1.7 .4 1.9 .5-6.5 .4 3.6 .4-3.8 .4 .3 .4-.3 .5 1.5 .4 0 .4-2.1 .4 4.1 .4 2.3 .5-1.9 .4 2.3 .4-4.5 .4-.3 .4 1.2 .5 2.6 .4-.4 .4 .3 .4-3.6 .4-.9 .5 1.9 .4 3.3 .4-5 .4 4 .4-.1 .5-2.3 .4 1.4 .4 1.8 .4-4.8 .4 1.5 .5 .2 .4-1.3 .4 2.1 .4 1.9 .4 .3 .5 .1 .4-2 .4 3.7 .4-5.7 .4 3.9 .5-1.8 .4 2.9 .4-5.8 .4 1.6 .4-1.2 .5 2.3 .4 1.9 .4-3.9 .4 5.3 .4-1 .5-3.4 .4 2 .4 .1 .4-3.1 .4 3.8 .5-1.1 .4 1.1 .4-4 .4 0 .4 .9 .5 3.3 .4-5.1 .4 .7 .4-2.4 .4 7.6 .5-3.2 .4-3.8 .4 5 .4-3.8 .4-.6 .5-1.3 .4 .3 .4-1.4 .4 1.3 .4-.5 .5-.2 .4-1.5 .4 3.8 .4 1.6 .4 .2 .5-2.4 .4-4.5 .4 6.5 .4-7.6 .4-.1 .5 2.9 .4-1.4 .4 .9 .4-2.8 .4 3.7 .5-1.1 .4-6.1 .4 6.1 .4-1.1 .4 1 .5-2.9 .4 1.2 .4 .9 .4 .2 .4-5.5 .5 0 .4 3.8 .4-1.4 .4 2.5 .4-2.9 .5-1.8 .4 3.3 .4 3.6 .4-2.3 .4-3.9 .5 1.9 .4 2.9 .4 3.2 .4-2.9 .4-.2 .5-.7 .4 .9 .4 2.7 .4-2.3 .4 .3 .5 5.5 .4-1.5 .4-.4 .4-1.6 .4-.4 .5 4.8 .4-4.2 .4 2.2 .4-3.4 .4 3.6 .5-2.8 .4 5.3 .4 2.3 .4-7.1 .4 1.6 .5 4.8 .4-5.7 .4 6 .4-6.1 .4 3.1 .5 2.6 .4 0 .4-.7 .4-3.9 .4 3 .5-2.4 .4 5.4 .4-1.5 .4-3 .4 1.1 .5 1 .4-2.4 .4 .6 .4 3.2 .4-5.8 .5 6.4 .4-3.1 .4-.2 .4 .1 .4-3.7 .5 2.6 .4 .4 .4-2.1 .4-1.4 .4-.4 .5 5.9 .4-6.3 .4 7.8 .4-2.3 .4 1.4 .5-5.4 .4 3.3 .4-3.1 .4 6.8 .4-5.2 .5-.4 .4 1.1 .4 .6 .4-2.6 .4 4.2 .5-2.2 .4 3.5 .4-.6 .4 1 .4-2.2 .5 2.7 .4-.8 .4-5.9 .4 1.9 .4 4.2 .5-3.1 .4 3.8 .4-4.4 .4-1.1 .4 5 .5-3.9 .4-1.1 .4 4 .4-2.9 .4 0 .5-2.1 .4 1.5 .4 4 .4-4 .4 .3 .5-2.4 .4 .1 .4 2.8 .4 .5 .4 3.7 .5 .3 .4-5.6 .4 1.4 .4-.3 .4 1.3 .5 2.6 .4-4 .4 2.8 .4 .4 .4-2.6 .5-1 .4-.2 .4 3 .4 .3 .4-1.7 .5-2.8 .4 4.4 .4-3.3 .4 4.5 .4-.7 .5-3.1 .4 .7 .4 .3 .4-.8 .4 3.7 .5-4.2 .4 3.3 .4-.1 .4-5.4 .4 6.7 .5-4.2 .4 .9 .4 .4 .4 .2 .4-.2 .5 2.3 .4-2.9 .4-.6 .4 3.3 .4-2.6 .5 1.4 .4-2.6 .4 4.1 .4-.6 .4 0 .5 2.7 .4-6.4 .4 3.3 .4-3.9 .4 3.4 .5 1.3 .4 .1 .4-3.8 .4 5.9 .4-.9 .5 .9 .4-3.1 .4-.2 .4-1 .4-2.6 .5 .2 .4 3.3 .4-2.2 .4 0 .4 1.9 .5-.8 .4 .1 .4 .3 .4-3.5 .4-1.9 .5 3.5 .4 1.2 .4-1.4 .4 3.9 .4-6.2 .5-1.9 .4 6.3 .4-.4 .4 .6 .4 .1 .5-5.2 .4 1.8 .4 1.2 .4-1.5 .4 .8 .5-.1 .4 2.5 .4-5.2 .4 5.3 .4-2.7 .5 1.7 .4 3.6 .4-3.3 .4-2.2 .4 2.4 .5-2.1 .4-1.9 .4 1.3 .4 5.1 .4-2.7 .5-.3 .4-.1 .4 1.4 .4 1.3 .4 .8 .5-3.4 .4 3.3 .4-2.2 .4-2.9 .4 5.8 .5-1.8 .4-.7 .4 1.1 .4 .1 .4-2.2 .5 1.4 .4 2.3 .4-3.9 .4 4.2 .4-5.4 .5 2.2 .4 2.2 .4-.7 .4-3.3 .4 1.6 .5 .2 .4 3.1 .4-5.6 .4 1.3 .4 .7 .5 .1 .4 1.5 .4-1.1 .4 2.7 .4-4 .5 1.8 .4 2.3 .4-2 .4-1.3 .4 0 .5-1.9 .4 2.9 .4-3.5 .4 .5 .4 2.8 .5 2.1 .4 1.2 .4-2.4 .4-2.1 .4-1.8 .5 1 .4-.5 .4 5.4 .4-4.3 .4 .4 .5-.5 .4-1.3 .4 2.7 .4-3.3 .4 4.7 .5-3.2 .4 5.7 .4-3.5 .4-1.2 .4-1.9 .5 .7 .4 1 .4 2.2 .4-2.5 .4 1.3 .5-1.7 .4-.6 .4 1.8 .4-1.2 .4 1.9 .5 .2 .4-1.2 .4-2.1 .4 3 .4-4.4 .5 3.7 .4 .2 .4 .6 .4-4.4 .4 1.6 .5 1.3 .4-2.4 .4 .9 .4 1.3 .4-3.3 .5 3 .4 1.4 .4-6.2 .4 6.2 .4-3.7 .5 3.2 .4-2.9 .4 .2 .4-1.1 .4 .3 .5-1.5 .4 2.9 .4 .4 .4-.8 .4 2.7 .5 .5 .4-5.1 .4 1.1 .4-1 .4-1.5 .5 3.9 .4 1.1 .4 2.6 .4-4.9 .4 .1 .5 4.1 .4-6 .4 2.2 .4-.6 .4 2.5 .5-2.8 .4-1.7 .4 4.8 .4 .8 .4-.8 .5-3.7 .4 .8 .4 1.2 .4-1.9 .4 .7 .5 2.8 .4 1.4 .4-1.2 .4-1.2 .4-2.5 .5-.6 .4 7.3 .4-6.7 .4 4.1 .4-.6 .5-2.9 .4-1.5 .4 1.8 .4 2.1 .4-1.4 .5 1 .4-2.5 .4 4.6 .4-4.3 .4 4 .5-.8 .4-.7 .4-3.4 .4-.1 .4 .8 .5 4.6 .4-5 .4-1.2 .4 .4 .4 .6 .5 1.9 .4-2.9 .4 4.6 .4-1.9 .4 .7 .5 2.1 .4-4.4 .4 3.7 .4-3.1 .4 2 .5 .7 .4-3.5 .4 1.7 .4-3.3 .4 3.2 .5-.1 .4-3.7 .4 2.1 .4 3.8 .4-2.4 .5-1.9 .4 2.2 .4 .3 .4-1.4 .4 0 .5-1.2 .4-2.8 .4 .8 .4-3.3 .4-1.7 .5-.9 .4 2.8 .4-4.1 .4-3.1 .4 2.8 .5-4.3 .4-1.8 .4 .8 .4-5 .4-2.3 .5 3.2 .4 .4 .4 5.5 .4-1.2 .4-3.5 .5 1.4 .4 1.8 .4 6.5 .4 .6 .4-.1 .5 .8 .4 .3 .4 4.3 .4-3 .4 1.2 .5 1.6 .4 6.3 .4-4.1 .4 2.5 .4 3.4 .5-.1 .4-1.6 .4-2 .4 1.2 .4 1.8 .5-2.9 .4 .3 .4-.5 .4-3.9 .4 8.2 .5-3.6 .4 1.6 .4-5.9 .4 1 .4 1.3 .5-3.4 .4-1 .4-1.8 .4 .9 .4-1.2 .5 2.1 .4 1.7 .4-7 .4 .3 .4 5.2 .5-6.9 .4 .2 .4 4.2 .4-1.9 .4-.1 .5 3.2 .4-7 .4 5.4 .4 2.2 .4 .7 .5-4.1 .4 2.5 .4-.2 .4 1 .4-.2 .5 .1 .4 6.5 .4-2.8 .4 .7 .4 3.3 .5 2.5 .4 .5 .4-1.4 .4 2.1 .4-3.9 .5 4.1 .4-3.7 .4 3.2 .4 .7 .4-1.1 .5 2 .4 .8 .4-5.2 .4 1.7 .4 .2 .5 .9 .4 2 .4-.4 .4-1.8 .4-1.3 .5-1 .4 4 .4 1 .4-.7 .4-1.6 .5 1.5 .4-3 .4 3.5 .4-3.7 .4 2 .5 2.2 .4-1.9 .4-.2 .4-.2 .4-2.2 .5 0 .4 5.4 .4-4.6 .4 1.7 .4-1.5 .5 4.9 .4-3.6 .4-2 .4 1.9 .4-1.3 .5-.6 .4-.6 .4 1.8 .4 4.1 .4-3.9 .5 1 .4-1.6 .4-.6 .4 4.8 .4-1.4 .5-2.3 .4 .9 .4 4 .4-3.1 .4-1.2 .5-1.3 .4 3.6 .4-1.3 .4 1.5 .4-2.5 .5 0 .4-1.6 .4 3.5 .4 1.4 .4-5.6 .5 3 .4 1.1 .4-3.3 .4-.3 .4 3.2 .5-2.1 .4 3.3 .4-2.9 .4-1.5 .4 3 .5 1.4 .4-2.9 .4-.3 .4 3.5 .4-1.8 .5-1.2 .4 2.5 .4-2.5 .4-1.2 .4 1.2 .5 .7 .4 1.9 .4-1.8 .4 3.5 .4-5.5 .5 2.8 .4 .7 .4 1.8 .4-1.3 .4-2.9 .5-1.1 .4 1 .4 0 .4 .3 .4 1.6 .5-4.2 .4 2.1 .4 3.7 .4-4.8 .4 3.6 .5-4.2 .4 3 .4 5.4 .4-6.7 .4 6.1 .5-3.3 .4 1.4 .4-3.2 .4 .4 .4-.3 .5-1.6 .4 6.4 .4-.9 .4-3.8 .4-1.1 .5 2.9 .4-4.3 .4 .3 .4 0 .4 3.4 .5 2.2 .4-2.4 .4-4.3 .4 3.5 .4 2.2 .5-4.3 .4 2.2 .4-1.9 .4 .4 .4 3.9 .5-1.1 .4-.9 .4-4.3 .4 1.8 .4 .7 .5 .4 .4 .5 .4 0 .4 2.6 .4-2.1 .5-.7 .4-2.2 .4 5.7 .4-1.3 .4-3.3 .5-.2 .4 2.5 .4 .3 .4-3.9 .4 5.1 .5-3.1 .4 4 .4-.3 .4 1.1 .4-5.5 .5 2 .4-3.5 .4 3.9 .4 .4 .4-1.7 .5-1.9 .4-2.5 .4 6.5 .4-5.1 .4 2.8 .5 1.5 .4-3 .4-1.7 .4-.1 .4 1.9 .5 1.7 .4-3.4 .4 .8 .4-.8 .4-1.8 .5-.7 .4 2.6 .4-2.6 .4-1.2 .4 2.3 .5-2.1 .4 .4 .4 .2 .4 1.2 .4-1.8 .5-.5 .4 3.7 .4-3.8 .4 .9 .4 1.6 .5-3.8 .4 3.4 .4-.5 .4 .7 .4-3.3 .5 .3 .4-2 .4-.5 .4-2.7 .4-.2 .5 1.5 .4-.5 .4 .3 .4-2 .4-.1 .5 5.6 .4 .1 .4-4.6 .4-1.1 .4 1.5 .5-.3 .4-1.9 .4 5.2 .4-3.5 .4-1.8 .5 5.2 .4-.2 .4-1 .4 1.7 .4-1.1 .5-3 .4 5.8 .4-3.6 .4-2.7 .4 1 .5 1.1 .4 4.6 .4-.4 .4 .8 .4-1.9 .5 2.5 .4-.2 .4 .2 .4 1.6 .4-3.6 .5 .1 .4 .8 .4-.7 .4-.6 .4 5.1 .5 .5 .4-3.1 .4 .8 .4 .2 .4-1.4 .5-.6 .4 5.4 .4-3.2 .4 3.3 .4 .6 .5-1.5 .4 .2 .4 .9 .4 1.3 .4-2.6 .5 4.1 .4-.9 .4-1.6 .4-.1 .4 .4 .5 .6 .4-2.9 .4 5.1 .4-1.2 .4-2.6 .5-3.4 .4 4.7 .4-2.1 .4 5.3 .4-2.5 .5-1 .4-3.4 .4 3.5 .4 2.1 .4-1.6 .5 4.4 .4-2.8 .4-.9 .4-.6 .4 .8 .5 .1 .4 2.7 .4-.8 .4-5.7 .4 1.3 .5 4.5 .4-4 .4 1.5 .4-2.6 .4 .4 .5 .3 .4 4.8 .4-2.4 .4-.8 .4 2.3 .5-.2 .4-3.3 .4-.4 .4-.6 .4-.1 .5 4.8 .4-3 .4 2.9 .4-4.1 .4 2.5 .5-1.2 .4 1.8 .4 1.2 .4 1 .4-1.5 .5 2.1 .4 .5 .4-7 .4 4.5 .4-1.2 .5 .5 .4 1.9 .4-3.6 .4 3.3 .4 1.6 .5-6.6 .4 4.9 .4-1.5 .4 .4 .4 3.2 .5-5.5 .4 .7 .4 3.8 .4-1 .4 .5 .5-2.6 .4-.7 .4 .2 .4 3.4 .4 1.1 .5-2.4 .4-2.1 .4 2.2 .4 2.2 .4 0 .5-3.9 .4 .9 .4 1.3 .4-2.4 .4 2.6 .5-1.5 .4 1.5 .4-2.4 .4 1.4 .4-2.3 .5 3.1 .4-1.3 .4 .9 .4-1.5 .4 1.1 .5-1.7 .4-2.1 .4 1.7 .4-1 .4 3.3 .5-4.4 .4 0 .4 1.7 .4-.7 .4 2.2 .5-2.9 .4 .1 .4 1.4 .4 .7 .4-3.2 .5 5.6 .4-.1 .4-3.5 .4 2.4 .4-2.2 .5 2.8 .4-3.6 .4 .6 .4 2.3 .4-1.9 .5 3 .4 .3 .4-1.7 .4 2.1 .4-1.5 .5-.4 .4 2.6 .4 .4 .4 .1 .4-6 .5 3.7 .4-3.8 .4 3.4 .4 .4 .4 1.9 .5-4.9 .4 2.3 .4-2.7 .4 1.3 .4 .7 .5 3.3 .4-2.7 .4 2.5 .4-6.1 .4 3.9 .5-1.5 .4 .8 .4-2.6 .4 .3 .4 4.1 .5-3 .4 1.7 .4 1.3 .4-5.6 .4 2 .5 .8 .4-2.9 .4 .7 .4 5 .4-3.7 .5 1.2 .4-1.1 .4 2.8 .4-4.5 .4 1.3 .5 2.6 .4-4.5 .4 3.6 .4 1.7 .4-3.1 .5-1.7 .4 1.1 .4 3.3 .4-5.6 .4 .8 .5 2 .4-3.4 .4-.2 .4 4.2 .4 .9 .5 .1 .4-2.2 .4-1.4 .4 1 .4-.1 .5-2.5 .4 2.5 .4-1.4 .4-4.8 .4 5.5 .5-1.1 .4-4.8 .4 4.4 .4-1.7 .4-.5 .5 1.1 .4-2 .4 .9 .4 2.3 .4-1.4 .5-1.2 .4 1.4 .4-1.5 .4 3.7 .4-5.2 .5 2.5 .4 2.1 .4 1.6 .4-5.5 .4-.6 .5 6.1 .4-3.5 .4 .1 .4 1.3 .4 .9 .5 .3 .4-1.2 .4 1.1 .4 3.3 .4-3.6 .5-1.7 .4 3.1 .4 .1 .4-3.2 .4 3.5 .5-2.2 .4 4.3 .4 .5 .4 .1 .4 .9 .5-.1 .4-.6 .4-2.9 .4 1.7 .4 .7 .5 3 .4 .8 .4-2.3 .4 .6 .4-4.2 .5 1.2 .4 .9 .4 1.5 .4-3.1 .4 1.3 .5 3.6 .4-1.7 .4-.3 .4-.5 .4-2.3 .5 3.2 .4 .7 .4-3.2 .4-.6 .4 3.3 .5-1.8 .4-2.1 .4 3 .4 2.2 .4-1.1 .5-1.6 .4-2.7 .4 3.4 .4-1 .4-1.3 .5-1.5 .4 1.7 .4-1.8 .4 3 .4-1 .5 3.1 .4-.7 .4-.3 .4-.5 .4 0 .5 .7 .4 .8 .4-5.1 .4 5.9 .4-4.7 .5 3.4 .4-.6 .4-3.6 .4 3.7 .4-2.9 .5 4.7 .4 0 .4-1.5 .4-3.4 .4 3.5 .5 1.6 .4-2.7 .4 2.1 .4-.1 .4-3.2 .5-.5 .4 1.7 .4-1.1 .4 3 .4-1 .5 .3 .4 1.8 .4-.9 .4-1 .4-.1 .5 .9 .4-2.4 .4-.2 .4-3.1 .4 2.3 .5 1 .4-1.4 .4 4.1 .4-3.2 .4 .5 .5-.3 .4 2.1 .4 2.3 .4-2.5 .4-3.1 .5 5.7 .4 .5 .4-2.4 .4-4.6 .4 .7 .5 1.5 .4 2.5 .4-1.9 .4 2.3 .4-.7 .5 .9 .4-2.4 .4-2.4 .4 2.9 .4 3.1 .5-3 .4-1.7 .4-.3 .4 1.1 .4-1.1 .5-.9 .4 6.2 .4-.8 .4-3.9 .4 3 .5-4.2 .4 .1 .4 2.7 .4 .4 .4-3.6 .5 5.3 .4-4.7 .4 .4 .4 4.6 .4-5.3 .5 1 .4 5 .4-6 .4 1.3 .4-.9 .5 1.5 .4 1 .4-1.9 .4 1.4 .4-1 .5 1.8 .4 .2 .4 1.8 .4-5.4 .4 1.3 .5 2.1 .4 1.8 .4-6.7 .4 4.7 .4-.7 .5-.3 .4-2.9 .4 1.9 .4-1.3 .4 1.5 .5-1.5 .4 3.9 .4 .6 .4 .3 .4-4.4 .5 2.8 .4 .6 .4-4.8 .4 1.8 .4 .8 .5 2.9 .4-4 .4 .8 .4-.5 .4-.6 .5 4.9 .4 .4 .4 .8 .4-2.2 .4 1 .5-1.4 .4-2.5 .4 3.6 .4-3.6 .4 4.6 .5 .4 .4 .4 .4-1 .4-3.4 .4 .4 .5 1.5 .4 .1 .4 1.4 .4-5 .4 1.6 .5 .6 .4 .5 .4-1.6 .4 1 .4 3.8 .5-4.7 .4-.9 .4 3 .4 .2 .4 1.5 .5 .1 .4-3.4 .4 2 .4-2.2 .4 2.7 .5 1 .4-4.8 .4 4.3 .4-4.9 .4 .1 .5 3.6 .4 3.4 .4-2.7 .4-.8 .4-2.5 .5 4.5 .4-5.6 .4 1 .4 3.7 .4 1.6 .5-.1 .4-2.6 .4-2.2 .4 .6 .4 .8 .5 .9 .4-.9 .4 1.8 .4-3.4 .4-.5 .5-1.2 .4 .5 .4 4 .4-3.1 .4 .9 .5-1.6 .4 3.4 .4 2.2 .4-.7 .4 .1 .5-.1 .4-3.5 .4-.9 .4 1.6 .4 4.1 .5-3.7 .4 3.2 .4-2 .4 1.6 .4-3.1 .5 0 .4-1.3 .4 2.1 .4-2.9 .4 5.9 .5-4.8 .4 0 .4-1 .4 5.9 .4-4.4 .5-1.3 .4 5 .4-2.2 .4-1.8 .4 4.2 .5-5.9 .4 6.4 .4-2.5 .4 1.5 .4-4.5 .5 1.9 .4 1.4 .4-5.2 .4 7.4 .4-1.9 .5-5.1 .4 3.3 .4 3.9 .4-1.3 .4-2.4 .5-.5 .4 1.4 .4-.3 .4 .6 .4 1.3 .5-1.1 .4-.5 .4 2.7 .4-1.8 .4-3.3 .5 4.3 .4-6 .4 .5 .4 4.8 .4-2.7 .5 2.1 .4-4.5 .4 .2 .4 2.5 .4-1 .5 2.5 .4-2 .4 .5 .4 3.2 .4-4.3 .5 3 .4-.8 .4 .9 .4-3.1 .4 3.2 .5 1.6 .4-.6 .4-2 .4 1.7 .4 .1 .5-2 .4 1 .4 1.3 .4-6 .4 6.9 .5-5.2 .4 4.2 .4-1.6 .4-1.5 .4-2.6 .5 6.3 .4 .2 .4-.2 .4-1.8 .4-1.4 .5 3.1 .4 .4 .4-1.4 .4 1.3 .4-4.7 .5 3.7 .4 .8 .4 .7 .4-.4 .4-2.6 .5-1.7 .4 .1 .4 4.8 .4-3.8 .4-1.8 .5 3 .4 1.8 .4-4.6 .4-1.3 .4 2.2 .5 2 .4-1.1 .4-2.1 .4 2.4 .4 .7 .5-3.7 .4 2.3 .4-2.5 .4 5.7 .4-2.4 .5 .8 .4-.9 .4 1.7 .4-4 .4 3.6 .5-1.3 .4-1 .4 1.5 .4-.9 .4-.4 .5 1.1 .4-2 .4 5.1 .4-2.1 .4-1.2 .5-1.3 .4-1.7 .4 1.3 .4 3.4 .4-4.2 .5 2.5 .4 .7 .4-1 .4-.7 .4 .1 .5 1.6 .4 .7 .4-2.6 .4 2.9 .4-3.3 .5 3.3 .4-3.3 .4-.4 .4 2.5 .4-4.3 .5 7.2 .4-.4 .4-5.1 .4 4.4 .4-5.3 .5 1.9 .4-.9 .4-1.3 .4 .9 .4 5.4 .5-5.5 .4 5.7 .4-5.8 .4 3.5 .4-4.1 .5 4.7 .4-4.3 .4 5.3 .4-4.8 .4 3.8 .5-.7 .4 3.3 .4-5.6 .4-.6 .4 4.9 .5 0 .4-4.6 .4 2.5 .4-3.8 .4 2.7 .5-1.8 .4 5.9 .4-2.8 .4 2.5 .4-1.9 .5-4.1 .4 .2 .4 1.6 .4-2.2 .4-.1 .5 2.8 .4 1.1 .4-.7 .4 .8 .4-2 .5 .7 .4 1.9 .4-1 .4-1.2 .4 1.4 .5-2.7 .4 4.6 .4-3.9 .4 6.4 .4-5.2 .5-.3 .4 1.1 .4 2.2 .4 .7 .4-6.8 .5 5.5 .4 1.2 .4-2.6 .4-2.5 .4 1.8 .5-1 .4 2.3 .4-3.3 .4 .9 .4 4.6 .5-5.5 .4 0 .4 4.8 .4-1.5 .4-2.8 .5 3.2 .4 .3 .4-5.7 .4 5.9 .4-3.7 .5-.9 .4-.2 .4 4.8 .4-2 .4-.4 .5-1.6 .4 3.2 .4 1.4 .4-2.3 .4-.5 .5 2 .4-.8 .4-.6 .4-1 .4 0 .5-2 .4 4.9 .4-2 .4 1.2 .4-1.4 .5-2.8 .4 .5 .4-.2 .4 4.4 .4-4.1 .5 1.2 .4 1 .4-.1 .4-2.7 .4 2.9 .5-2.1 .4 4.8 .4-3.7 .4-1.5 .4 1.8 .5-.8 .4 2.4 .4-.6 .4 .2 .4 .8 .5 .3 .4-1.3 .4-3.4 .4-.5 .4 6.9 .5-5.1 .4 4.3 .4-2.4 .4-2.1 .4 2.3 .5-1.3 .4-.4 .4 2.8 .4 1.5 .4-5.4 .5 6.6 .4-.1 .4-7.3 .4 2.3 .4 2.7 .5-3.4 .4 3.9 .4-3.1 .4 .9 .4-.8 .5 1.5 .4-1.8 .4-1.9 .4 5.6 .4-5.1 .5 2 .4 .4 .4-.7 .4 1.3 .4-4.1 .5 5.7 .4-2.6 .4 2 .4-3 .4-.3 .5 4.7 .4-2.2 .4 .4 .4 3 .4-4.3 .5-1 .4 4.1 .4-5 .4 2.2 .4 2.9 .5 0 .4-5.1 .4 .2 .4 .4 .4 2.8 .5-2.8 .4 1.7 .4 1.7 .4 1.4 .4-3 .5-2.8 .4 5.4 .4 .3 .4-3.1 .4-1.8 .5 1.3 .4 1.7 .4-1.7 .4-2.2 .4 3.5 .5 2.9 .4-2.4 .4-1.3 .4 1.6 .4 .8 .5-2.2 .4 1.8 .4-3.6 .4 2.8 .4 .5 .5-1.8 .4-.3 .4 1.7 .4 1.3 .4-1.2 .5-1.9 .4 1.6 .4 1 .4-2.9 .4 3.1 .5-2.2 .4-.1 .4 1.2 .4-2.8 .4 1.5 .5-.7 .4 3 .4-2.2 .4 .2 .4 .4 .5-3.7 .4 .9 .4 4.6 .4-4.1 .4 1.7 .5 1 .4-3.8 .4 5.3 .4-.9 .4 1.7 .5-2.5 .4 3.3 .4-4.2 .4 .4 .4-.2 .5 .4 .4 2 .4 .8 .4-3.9 .4 4.1 .5-3.9 .4-1.3 .4 2.4 .4-2.9 .4 3.3 .5-3.5 .4 3.3 .4 3 .4-7.5 .4 7.2 .5-.9 .4-.8 .4-1.4 .4 1.8 .4 1.5 .5-1.2 .4-4.2 .4-2.2 .4 6.1 .4-4 .5 1.9 .4-1 .4 .9 .4 2.1 .4-4.6 .5 3.6 .4 .9 .4-2.1 .4 3.2 .4-3.3 .5-2.5 .4 .6 .4 .4 .4-1.6 .4 5.1 .5-4.7 .4 6.7 .4-5.3 .4 1.6 .4-.6 .5 .5 .4-1.9 .4 1.4 .4 2.9 .4-2.2 .5-.6 .4 1 .4-2.8 .4 1.3 .4 3.7 .5-3.2 .4 4.4 .4-.7 .4-5 .4-.4 .5 4.8 .4-2.2 .4-2.6 .4 4.1 .4-2.6 .5 2.5 .4 3 .4-1.4 .4 .9 .4-6.2 .5 4.6 .4-1.2 .4 1.5 .4-1.2 .4 .9 .5-4.6 .4 5.4 .4 1.5 .4-2.7 .4 1.4 .5 .9 .4 1.2 .4-1.7 .4-.1 .4-5 .5 2.3 .4 .8 .4-2.6 .4 2 .4-2.2 .5 .7 .4 4.4 .4-6.7 .4 5.4 .4 .6 .5 .2 .4 .3 .4-3.6 .4 4.9 .4-3.8 .5 3.3 .4-.2 .4-1.9 .4-2 .4-1.2 .5 2.9 .4-.5 .4-1.1 .4-2.6 .4 1.6 .5-.7 .4 4.7 .4-5.1 .4 .6 .4 2.6 .5 2.8 .4-4.6 .4 .4 .4 1.8 .4-1.5 .5-.2 .4-2.1 .4 5.3 .4-2.4 .4 1.6 .5-3.7 .4 .4 .4 2.3 .4-.1 .4-1.5 .5 .2 .4-2.1 .4 5.7 .4-1.7 .4-3.4 .5 4.5 .4-.4 .4-2.4 .4 2.3 .4-.8 .5 .3 .4 .9 .4-.2 .4-1.9 .4-2.9 .5 4.1 .4-2.3 .4-1.2 .4 .4 .4-.3 .5 2.2 .4 2.7 .4-2.4 .4 2.4 .4-6.2 .5 5.3 .4-5.7 .4 1.6 .4 2.6 .4-.2 .5-2.8 .4 4.4 .4-4.1 .4-.3 .4-.6 .5 2.1 .4-1 .4 3.2 .4-.8 .4 .3 .5-.9 .4-1.3 .4-1.2 .4 4 .4 2.8 .5-.5 .4-3.7 .4 2.5 .4-2.8 .4-2.8 .5-.3 .4 .9 .4 5.1 .4 .4 .4-.5 .5-1.1 .4 .1 .4 .2 .4-2.2 .4 4.4 .5-6.8 .4 5.7 .4-2.1 .4 .9 .4-1.7 .5 1.5 .4-1.4 .4-.3 .4-.6 .4 .1 .5 1.9 .4-2.2 .4 1.4 .4-2.1 .4 3.9 .5-.8 .4 1.3 .4 .6 .4-2.5 .4-.7 .5-.6 .4-1.1 .4 .6 .4 0 .4 1.3 .5 2.4 .4-4.1 .4 2.2 .4 .3 .4-4.1 .5 .5 .4 4.1 .4 .9 .4-4.2 .4 .2 .5 3.2 .4-4.2 .4 1.2 .4-1.4 .4 .2 .5 4.9 .4-5.2 .4 3.2 .4-.6 .4 .4 .5 1.3 .4 2.8 .4-3.7 .4 1.1 .4 2.2 .5-.3 .4-2.6 .4-.9 .4 2.9 .4-.5 .5-1.1 .4 .9 .4-4.4 .4 3.2 .4 2.2 .5-5.6 .4 3.1 .4-2.8 .4 3.6 .4-.5 .5-3 .4 .5 .4 3 .4-2 .4 .7 .5 1 .4-1.7 .4-.8 .4 3.2 .4-.1 .5 1 .4 0 .4 1.1 .4-3.1 .4 2.9 .5-2.4 .4 2.8 .4-1.1 .4-1.2 .4-2.8 .5 5.1 .4-5.5 .4 2.6 .4-.8 .4-1.1 .5-.7 .4 4.5 .4-4.9 .4-.8 .4 2.3 .5 .5 .4-.7 .4 1.9 .4-4 .4 1.3 .5-.6 .4 4.2 .4-1.5 .4 .4 .4 1 .5-3.7 .4 1.7 .4-.3 .4 1.8 .4-1.5 .5 3 .4-1.4 .4 1.2 .4-5.5 .4 6.6 .5-.7 .4-.9 .4-4.2 .4 1 .4-1.8 .5 1.5 .4 .7 .4 2.9 .4-1.9 .4-.9 .5-.2 .4-2.1 .4 6.6 .4-1.9 .4-2.3 .5 .9 .4-1 .4 2.3 .4-.4 .4-2.2 .5 3.2 .4-3.2 .4 2.3 .4 .4 .4 .7 .5-2.7 .4 .9 .4-2.4 .4 1.1 .4 .8 .5-.9 .4-.3 .4-2 .4 3.8 .4-.1" stroke="#008080"/>
<path d="M307.0 540.6l.4-.4 .4-2.4 .5 1.2 .4 4.9 .4-2.6 .4-0 .4-2.2 .5 3.5 .4-4.4 .4-3.8 .4 8.1 .4-5.9 .5 7.3 .4-1.7 .4-.3 .4-5.7 .4 .4 .5 5.6 .4-4 .4 1.8 .4-4.3 .4 1.8 .5 1.5 .4 1.8 .4-1.1 .4-6 .4 7.4 .5-5.9 .4 1.6 .4 2 .4-2.5 .4 .7 .5 3.9 .4-3.2 .4 1.4 .4 2.5 .4-5.4 .5 5.4 .4-5.5 .4-.2 .4 5.7 .4-9 .5 8 .4-.5 .4 0 .4-8.6 .4 3.8 .5 5.8 .4-5.1 .4-2.9 .4 5.3 .4 .8 .5 1 .4-6.6 .4-.3 .4 5.6 .4-6.3 .5 1.4 .4 .7 .4 1 .4-.9 .4 2.9 .5-.9 .4-1.4 .4 2.6 .4-6.1 .4 2.7 .5 6 .4-2.8 .4 1.1 .4-2.2 .4 2.6 .5-2.9 .3-.7 .1-.2 .4-2.1 .4 1.6 .4-.9 .5 3.7 .4 .1 .4 1.5 .4-3 .4-5.1 .5 4.5 .4-.5 .4 .3 .4-2.1 .4 .4 .5-.3 .4-1.3 .4 3.1 .4-.3 .4-2.5 .5 2.5 .4-3 .4-1 .4 2.2 .4 1.2 .3-3.9 .2 3.6 .4-3 .4-.4 .4-.7 .4-0 .5 3.2 .4-3.7 .4 2.2 .4-.9 .4-2.9 .5 2.3 .4 1.1 .4-3.2 .4 2.9 .4-2.8 0 1.3 .5-1.7 .4 2.6 .4-3.1 .4-.1 .4-1.6 .5-2 .4-1.1 .4 1.4 .4-.8 .2-.9 .2 .2 .5-5.2 .4-.5 .4 .5 .4-3.2 .4 1.4 .5 .4 .2-4 .2 1.3 .4-3.6 .4 1.6 .4-1.2 .5-1.8 .4-2.6 .4-1.4 .3-2.6 .1 3.3 .4-1.6 .5-3.2 .4-.6 .4-3.8 .4 .2 .4-4.9 .4 1.4 .1-2.5 .4-1.3 .4-1.8 .4-3.6 .4 .6 .3 .4 .2-2.5 .4-2.8 .4 1.1 .4-.6 .3-3.2 .1 2.5 .5 1.2 .4-.1 .4 3.4 .4-.1 0-.5 .4 1.2 .5 3.5 .4 2.6 .2 1.8 .2 1.1 .4-3.7 .4 3.6 .5 2.1 .3-1.3 .1 .3 .4-5.3 .4-.3 .4-6.9 .4-2.1 .1-.2 .4-5.2 .4-2.9 .4-4 .4-7.7 .3-2.4 .2-.7 .4-5.6 .4-4.2 .4-7.1 .1 1.6 .3-3.1 .5-2.1 .4-2.3 .3-.7 .1-.8 .4 4.3 .4 4.7 .5 4.6 .1 1.2 .3 1.9 .4 3.6 .4 2.6 .4 5.8 0-.8 .5 4.1 .4 0 .4 4.3 .2-1.4 .2-2.6 .4-6.3 .5-4.6 .4-9.5 0 1.5 .4-8 .4-12.3 .2-4.8 .2-8.6 .5-11 .3-9.9 .1-3.6 .4-14.1 .4-15.1 .1-4.2 .3-11.2 .5-16 .2-7 .2-3 .4-13.6 .3-6.2 .1-4 .4-5.7 .3-2.4 .2 1.9 .4 6.9 .4 6.1 0-1.3 .4 18.1 .4 15.9 .2 7.7 .3 11.9 .4 19.8 .4 17.6 0 1.6 .4 18.7 .4 17.4 .4 13.5 .1 .7 .4 12.9 .4 12.2 .4 7.4 .2 8.2 .2 3.9 .5 5.6 .4 8.2 .2 5.5 .2 .5 .4 .4 .4 5 .5 2.6 .2 1.3 .2-2.5 .4 1 .4 2.3 .4 2.4 .5 1.1 .1 .6 .3-.1 .4 1 .4-1 .4-1 .5 .8 .4 1.8 .1 3.1 .3-2.4 .4-1.3 .4 3.6 .5 .6 .4-2.4 .4 2.4 .4-1.6 .4 .2 .3 1.1 .2 1.4 .4-1.6 .4 .9 .4 1.9 .4-3.1 .5 2.5 .4-1.5 .4-.4 .4 3 .4 .2 .1-1.3 .4 .1 .4-.7 .4 3.2 .4-5.8 .4 .5 .5 .6 .4 .9 .4 3.3 .4-1.1 .4 2.3 .5-2.3 .4 2.8 0-.2 .4-6.7 .4 1.3 .4 5.8 .5-.3 .4 .2 .4-5.7 .4 4.9 .4-5.3 .5 2.6 .4 5 .4-2.8 .4 .8 .4 .1 .5 1.6 .4-5.1 .4 2.4 .4 3 .4-2 .5-6.7 .4 3.8 .4 0 .4 2 .4-2.2 .5 4.6 .4-1.8 .4-2.4 .4-1.9 .4-.6 .5 .2 .4 2.1 .4 .4 .4 1.8 .4-2.9 .5 1.6 .4-4.5 .4 6.9 .4-5.1 .4-2.2 .5 1.6 .4 3.9 .4-3.7 .4 4.4 .4-1.9 .5-.1 .4 .4 .4-1.2 .4-2 .4 4.5 .5-.5 .4 .9 .4-1.7 .4 1.5 .4 .9 .5-5.4 .4-1.3 .4 7.8 .4-4.2 .4-2.1 .5 6.7 .4 .3 .4-2.8 .4-4.6 .4 7.6 .5-2.5 .4-3.3 .4-.2 .4-.6 .4 5.9 .5 1.7 .4-.3 .4-3.4 .4 2.8 .4-.6 .5-2.2 .4-2.8 .4 .7 .4 1.3 .4 1.3 .5-.9 .4-1.6 .4 .8 .4 .8 .4 2 .5-1.5 .4 3.2 .4-2.4 .4-1.6 .4-1.8 .5 3.7 .4 1.3 .4 .4 .4 1.7 .4 1.8 .5-1.3 .4-4.4 .4 1.5 .4-3.6 .4 7 .5-2.8 .4-4.8 .4 6.6 .4-1.9 .4 3.6 .5-7 .4 2 .4-.8 .4 5.2 .4-4.6 .5 3.2 .4-.4 .4 .2 .4-2.1 .4 1.4 .5 3.2 .4-2.9 .4-1.6 .4 2 .4 .5 .5-1.2 .4 .8 .4-3.6 .4 2 .4 2.3 .5 1.5 .4 .2 .4-.6 .4-3.6 .4 2 .5 .4 .4 0 .4-3.9 .4-1.6 .4 5.3 .5-4.9 .4 3.4 .4-5.8 .4 2 .4 3 .5 1 .4-3 .4 3.8 .4-1.4 .4-.9 .5-3.7 .4 1.4 .4 2.2 .4-2.1 .4-.1 .5-2.1 .4-1.6 .4 6.1 .4-1.7 .4 .5 .5 1.4 .4-2.8 .4-2.4 .4 7.2 .4-5.9 .5 1.3 .4 3 .4-1.1 .4 1.4 .4-3.3 .5 4.9 .4 1.4 .4-3.8 .4 3.5 .4 .1 .5-1.9 .4-2.6 .4-2 .4 7.3 .4 .4 .5-3.1 .4-.7 .4 2 .4-3.5 .4-.2 .5 .1 .4 .3 .4 1.4 .4-4.4 .4 2.7 .5 .8 .4 2.9 .4-1.7 .4-3.2 .4 5.2 .5-1.3 .4-3.7 .4 6.4 .4-3.4 .4-3.8 .5 3.1 .4-3.1 .4 5.1 .4 0 .4-7 .5 3.5 .4 1.2 .4 1.5 .4 1.6 .4-.4 .5-1.3 .4-1.8 .4-1.2 .4 4.3 .4-1.5 .5-2 .4 3.4 .4-3.5 .4 3.4 .4-3 .5-.2 .4 2.4 .4 2.2 .4-7 .4 1.6 .5 1.5 .4 4.3 .4-3.7 .4-.6 .4-.4 .5-.6 .4 .4 .4-.6 .4-2.1 .4 3 .5-3.9 .4 1.8 .4 0 .4-4.5 .4-.5 .5 3.2 .4 1.4 .4-.2 .4-6.4 .4 2.1 .5-1.6 .4-2 .4 .6 .4 4.6 .4 .6 .5-2.6 .4 4.2 .4-5.6 .4-1.5 .4 5.3 .5 4.7 .4-2.1 .4-1.3 .4 6 .4-2.4 .5-1.4 .4 3.3 .4 1 .4-3.6 .4 3.3 .5 .8 .4-3.8 .4 1.6 .4-.8 .4 2 .5-1.2 .4 4.2 .4 1.9 .4-4.6 .4 5.8 .5-5.7 .4-2.6 .4 4 .4-.4 .4 .5 .5-.7 .4 4.7 .4-4.9 .4 4.7 .4-1.3 .5 1.1 .4 .1 .4-5.3 .4 5.1 .4-2.2 .5-3 .4 .6 .4 6 .4-2.1 .4-5.1 .5 1.6 .4 5.2 .4-4.9 .4 2.2 .4 .3 .5-4.1 .4 2.4 .4 .9 .4-3.3 .4 3.3 .5 1.5 .4-.7 .4-3.2 .4 2.1 .4-1.2 .5 .9 .4-.6 .4 2.1 .4-.3 .4-2.4 .5 5.2 .4-.7 .4 2.6 .4-6.3 .4 2.2 .5 1.3 .4 3.2 .4-3 .4-.9 .4-2.6 .5 4 .4 1.9 .4-2.4 .4-.5 .4-3.6 .5 6 .4-.1 .4-1.7 .4-.8 .4 1.3 .5 1.7 .4-2.7 .4-3 .4 2.5 .4-3 .5 2.6 .4 2.6 .4-3.8 .4 .5 .4-2.9 .5 7.5 .4-8.1 .4 6.3 .4-5.2 .4 4.7 .5-6.4 .4 4 .4-.1 .4-4.1 .4 3.1 .5 .3 .4 2.4 .4-6.1 .4 3.2 .4-4.2 .5 5.4 .4-5.9 .4 6.6 .4-2.5 .4 2 .5-4 .4-2.7 .4 5.5 .4-5.8 .4-.1 .5 .6 .4 1.6 .4-3.3 .4 3.8 .4-3 .5 1.6 .4 3.5 .4-.6 .4 2 .4-1.8 .5-2.4 .4 2.6 .4-1.1 .4-3.1 .4 .6 .5 2.3 .4-.9 .4 4.3 .4-1 .4-5.8 .5 2.8 .4-3 .4 4.4 .4-.7 .4-.6 .5 1.9 .4 2.6 .4-5.9 .4-.8 .4 1.3 .5 5.7 .4-5.2 .4-.5 .4 .9 .4-1.9 .5 1.2 .4 1.6 .4 3.4 .4-2.2 .4-3.9 .5 2 .4-.1 .4 2.2 .4-1.2 .4-1.4 .5-2.9 .4 .1 .4-1.7 .4 2.5 .4 2.4 .5-6.2 .4 1 .4 1.5 .4-2.6 .4 1.8 .5 1.1 .4-2.1 .4-1.6 .4 4.1 .4-1.8 .5 1 .4-2.4 .4 3.5 .4-3.1 .4 .9 .5-.1 .4 .6 .4-.7 .4 0 .4 3 .5 1.5 .4-1.5 .4 2.9 .4 .8 .4-.7 .5 1.1 .4 1.1 .4-.9 .4-1.2 .4-2.1 .5 3.6 .4 .8 .4-1 .4-.8 .4 5.5 .5 1.4 .4-5.6 .4 2 .4 4.8 .4-.9 .5-4.9 .4-.6 .4 1.4 .4-2.6 .4 6 .5 .1 .4-5.4 .4 5.2 .4-3.8 .4 1.2 .5 2.6 .4-3.2 .4 3.2 .4-4.8 .4-1 .5 2.7 .4-1.9 .4 .1 .4-1.8 .4 1.6 .5 1.6 .4-3.5 .4 .9 .4-2.7 .4-1.4 .5 3.4 .4-1.4 .4-1.4 .4-1.4 .4-1.5 .5 .1 .4-1.5 .4 1.1 .4-1.6 .4 1.1 .5-2.3 .4 6.7 .4-4.1 .4 3.5 .4-1.6 .5-.3 .4 3.2 .4 2.3 .4 2 .4-3.3 .5 2.8 .4 5.2 .4-3.7 .4-.3 .4 1.8 .5-2.4 .4 6.1 .4-5.7 .4 2.1 .4-.7 .5 2.2 .4-2.1 .4-1.1 .4 3.8 .4-5.3 .5 3.8 .4 1.1 .4 .9 .4 2 .4-.3 .5-2.6 .4-.6 .4 2.5 .4-3.7 .4 .7 .5 1 .4-1.3 .4 .3 .4 2.2 .4 2.2 .5-2.8 .4 2.1 .4-2.6 .4-.1 .4-.7 .5-2.8 .4 5.3 .4-3.7 .4-.7 .4-.4 .5 2.6 .4 .6 .4-1.7 .4-.5 .4 2.7 .5-.7 .4 0 .4-1.9 .4-.5 .4 1 .5-.4 .4-.4 .4 4 .4-2.7 .4-2 .5 4.8 .4-3.6 .4-.5 .4 1.9 .4 3.7 .5-2.7 .4-4.9 .4 5.8 .4-2 .4 1.7 .5 2 .4-.6 .4-1 .4-2.6 .4 3 .5 1.7 .4-3.8 .4-1.2 .4 .5 .4 .2 .5 .2 .4 .5 .4-.7 .4 1.9 .4-2.3 .5 2.4 .4-2.2 .4 1.7 .4-2.1 .4 2.7 .5-.4 .4 3 .4-4.2 .4-.1 .4 .2 .5-.2 .4 .8 .4 1 .4-3 .4 2.2 .5-1.5 .4 5.9 .4-.7 .4-1.2 .4 .9 .5 0 .4 .6 .4-2.8 .4-4.3 .4 5.4 .5-1.3 .4-3.6 .4 .9 .4 2.4 .4 .7 .5 2.4 .4-1.2 .4 1.4 .4-6.9 .4 3 .5 1.8 .4 .5 .4-4.6 .4 4.7 .4-3.2 .5-1.5 .4 5.3 .4-2.8 .4 3 .4-7.8 .5 8.1 .4-1.5 .4-2.4 .4 1.1 .4-2.1 .5 .5 .4 2 .4 .2 .4 0 .4-3.1 .5-.6 .4 6 .4-4.7 .4-.2 .4 .6 .5 3.3 .4-2.8 .4 1.6 .4 .1 .4-1.8 .5 .7 .4-.9 .4 4.7 .4 2.4 .4-2.8 .5-2.6 .4 .4 .4-.2 .4 3.1 .4-5.8 .5-1.1 .4 5.6 .4-.5 .4 .4 .4 1.5 .5-5 .4 3.4 .4 .2 .4 0 .4-3 .5 2.3 .4-.4 .4-2.9 .4 2.8 .4-5.5 .5 4.3 .4 2.3 .4 1.3 .4-.4 .4-3.9 .5-1.3 .4 6.3 .4-6.3 .4 3.9 .4-2.9 .5 3.8 .4-4.7 .4 6.4 .4-6.3 .4 3.1 .5 2.2 .4-6.4 .4 2.1 .4 .3 .4 4.5 .5-3.3 .4 3.8 .4 .5 .4-3.8 .4 2.3 .5-2.2 .4-1.8 .4 4.9 .4-4.6 .4 .3 .5-.3 .4-1.8 .4 2.1 .4 .8 .4 2.7 .5 .1 .4-2.9 .4 3.4 .4-1.5 .4 2.2 .5-5 .4-.6 .4 4.5 .4-2.7 .4-2.7 .5 0 .4 .8 .4 2.1 .4 2.4 .4-4.1 .5 .2 .4 .4 .4-1.6 .4 0 .4 5.9 .5-3.9 .4 2.4 .4-1.5 .4 3 .4-1.2 .5-2.2 .4-1.1 .4 3.3 .4-4.9 .4 3.9 .5-1.9 .4-1.8 .4 5.3 .4-3.4 .4 1.2 .5-1.3 .4-.2 .4-.6 .4 3.7 .4 .8 .5-.7 .4-1.9 .4-2.8 .4-1.1 .4 4.3 .5 .2 .4 1.3 .4-3.6 .4 1.7 .4-2 .5-1.2 .4 4.5 .4 1.6 .4-3.9 .4 2.7 .5-1 .4-3.7 .4 2 .4-1.6 .4 1.1 .5 2.5 .4-2.8 .4 3.8 .4-.5 .4-5.9 .5 .7 .4 6 .4-4.9 .4 4.1 .4-1.7 .5-1.6 .4-.8 .4 1.2 .4-.8 .4-2.9 .5 4.9 .4 .6 .4-6.5 .4 5.9 .4 .2 .5-2 .4-1.3 .4-1 .4 1.1 .4 3.6 .5-5.5 .4 3.5 .4 .3 .4-1.3 .4 1 .5 3.1 .4-2.2 .4-1.4 .4-.1 .4 1.2 .5-1.8 .4 4.7 .4-.6 .4-1.9 .4 2.6 .5-6 .4 3.3 .4-1.7 .4 2.3 .4-1.8 .5-1.1 .4 1.3 .4-.3 .4 .8 .4 1.3 .5-2.5 .4 .7 .4 3.1 .4 .7 .4-1.8 .5 1.2 .4-3.8 .4 2.3 .4 .8 .4-4.4 .5 2.1 .4 4.3 .4-5 .4-1.3 .4 2.5 .5-1.2 .4 2 .4 3.2 .4-5.6 .4 2.5 .5-3.3 .4 1.5 .4 4.7 .4-2.8 .4 2.2 .5-1.6 .4-1.2 .4 1.4 .4 1.6 .4-2.7 .5 .5 .4 3.4 .4-4.2 .4 2.1 .4-.7 .5 1.5 .4-4.2 .4 3 .4 1.9 .4-4.1 .5-.5 .4 1.2 .4 .5 .4 .3 .4 .9 .5 .4 .4-1.7 .4 2.4 .4-3.6 .4 2.4 .5-3.8 .4 4.8 .4-1.5 .4-3.5 .4 5.5 .5-2.2 .4-1.5 .4-1.5 .4 2.3 .4 1 .5 .5 .4-.5 .4-1.8 .4 3.4 .4-2.7 .5 .2 .4-2.6 .4 2.5 .4-.6 .4 1 .5-2.6 .4 1.8 .4 .1 .4 2.8 .4-3.8 .5-1.4 .4 1.5 .4-.1 .4 2.9 .4 1 .5-1.5 .4-.8 .4-2.1 .4-1.7 .4 4.5 .5-4.3 .4 1.5 .4 .5 .4 2.5 .4-3.3 .5 0 .4 4.9 .4-2.7 .4-2.2 .4 4 .5-5.1 .4 5 .4-5.9 .4 6.5 .4-3.8 .5 3.5 .4-5 .4-1.3 .4 5.8 .4-3.8 .5-2.3 .4 2.9 .4 2.2 .4-.8 .4-6.5 .5 6.6 .4-3.1 .4-.9 .4-3 .4 1 .5-3.6 .4 4 .4-2.5 .4 1.9 .4-5.6 .5 2.3 .4-1.6 .4 1.2 .4-4.2 .4 5.1 .5-4 .4 1.7 .4-.6 .4 .9 .4 4.5 .5-6 .4 4.8 .4 .5 .4-1.9 .4 1.4 .5-1.9 .4 8.3 .4-1.1 .4 1.2 .4-1.3 .5-.7 .4 0 .4 1.6 .4 .2 .4 1.7 .5 .6 .4-5.6 .4 4.9 .4-2.2 .4-1.7 .5-.6 .4 3.8 .4-.6 .4-1.1 .4 3.8 .5-2.4 .4 1.7 .4-2.9 .4 2.3 .4-3.5 .5 3.4 .4-.7 .4-2.6 .4 1.6 .4 .8 .5 .5 .4-2.9 .4 1.7 .4-2.6 .4 1.9 .5-1 .4 2.2 .4 .1 .4 1.2 .4-1.3 .5 .2 .4 .5 .4-4.1 .4 1.2 .4 4.5 .5-2.6 .4 2.3 .4-.5 .4 .2 .4-3.6 .5 4.2 .4-1.1 .4-2.3 .4 3.5 .4-4.9 .5 3.6 .4-.8 .4 .9 .4-.7 .4-.3 .5 1 .4 .5 .4-4.1 .4-.3 .4 2.9 .5-2.5 .4 1.2 .4 3.5 .4-2.3 .4-2.2 .5 .1 .4-1.1 .4 5.2 .4-5.4 .4 1.2 .5-.1 .4 3.2 .4-4.3 .4 .1 .4-1.5 .5 5.7 .4-2.6 .4 1.1 .4-2.6 .4 .7 .5 1 .4 2.1 .4-2 .4 2 .4 1.1 .5-2.1 .4 .1 .4-3.2 .4-.2 .4 1.6 .5-1.8 .4 2.4 .4 .1 .4-2 .4 3.9 .5-1.5 .4-1.5 .4-1.7 .4-.5 .4 2.9 .5 1.3 .4 2 .4-1.9 .4-4.1 .4 6 .5 .3 .4 .1 .4-2.5 .4-1.7 .4-.8 .5 4.4 .4-2.1 .4-3.6 .4 1.5 .4 1.7 .5 1 .4-1.9 .4 .6 .4-.9 .4-2.2 .5 1.7 .4 .1 .4 2.8 .4-5.6 .4 5.7 .5-2 .4-1.1 .4-.4 .4-1.4 .4 4.3 .5-.5 .4-.1 .4-.5 .4 2.6 .4-4 .5 0 .4-2 .4 1.8 .4-1.3 .4 4.8 .5-.2 .4-2.8 .4 .5 .4 3.2 .4-2.2 .5-3.2 .4 2.4 .4 2.1 .4-.3 .4 .5 .5 0 .4-3.9 .4 1.8 .4 0 .4-.7 .5 2.1 .4-5.1 .4 1.1 .4 1.2 .4-3.2 .5 3.3 .4-3 .4 5.4 .4-5.3 .4 3.6 .5 .8 .4 .9 .4-4.9 .4 2.7 .4-1.2 .5 .1 .4 2.5 .4-1.7 .4 1.9 .4-2.1 .5 1.5 .4 1 .4-3.5 .4 3.3 .4-.4 .5-.4 .4-1.6 .4 4.1 .4-1.3 .4-2.5 .5 .6 .4 .9 .4-3.9 .4 2.8 .4 .9 .5-3.1 .4 1.7 .4-.3 .4 1.1 .4-3.2 .5 4.7 .4-1.5 .4-2.9 .4 2.7 .4 .4 .5 1.9 .4-.2 .4-3.4 .4 2.7 .4-.4 .5-2.3 .4-2.5 .4-.2 .4 3.4 .4-1 .5-1 .4 2.8 .4 1.7 .4-3.7 .4 4.5 .5-2.6 .4-3.4 .4 3.4 .4 1.6 .4-5.2 .5 5.1 .4-3.7 .4 0 .4 4.4 .4-2.4 .5-.6 .4-.9 .4 2.3 .4-1.7 .4 .3 .5-2.6 .4 0 .4 1.7 .4-1.2 .4-3.6 .5 2.3 .4-1 .4 .1 .4-.8 .4-.3 .5-1.3 .4-2.8 .4 .9 .4 .8 .4-7.1 .5-.7 .4 1.5 .4-4.2 .4 .9 .4-4 .5 2.3 .4-2.8 .4-3.8 .4 4.7 .4-8.3 .5 6.6 .4-3.2 .4 1.9 .4-4.7 .4 4.2 .5 .5 .4-3.6 .4 5.4 .4 4.3 .4-1.7 .5-2.2 .4 5.6 .4 2.3 .4 3 .4-1.7 .5 3.5 .4-2.8 .4 5 .4-.9 .4 3.9 .5-3.5 .4 1.9 .4 3.3 .4 2.8 .4-4.3 .5 3.6 .4 .2 .4-2.6 .4 1.7 .4-1.4 .5 4.4 .4-.4 .4-1.2 .4-2.5 .4 .2 .5-.1 .4 2.8 .4 1.9 .4 .1 .4 0 .5-.5 .4 2 .4-.2 .4-4 .4 2.1 .5 1.6 .4-3.9 .4 3.2 .4 1.8 .4-2.8 .5-2.2 .4 5.5 .4-2.2 .4-1.7 .4 0 .5-.7 .4 5.3 .4-3.1 .4 1.1 .4-4.1 .5 5.6 .4 .3 .4 .9 .4-2.3 .4 1.4 .5-1.2 .4-.1 .4-.3 .4-.3 .4-3 .5 3.6 .4-3.4 .4-.4 .4 6.9 .4-2.8 .5-2 .4 3.4 .4-.1 .4 .1 .4 0 .5 2.2 .4-4.3 .4 2.7 .4-.4 .4-1 .5 1 .4 .1 .4-1.4 .4 1.3 .4 2.1 .5-1.4 .4-2.6 .4-1.3 .4 2.7 .4 3.1 .5-5.6 .4 .1 .4 2.6 .4 1.2 .4-.8 .5 1.5 .4-1.5 .4-2.2 .4 .2 .4-1.4 .5-1.2 .4 2.5 .4-2.1 .4 1.1 .4 6.2 .5-2.6 .4-.4 .4-1.8 .4-2.8 .4 1.8 .5-.3 .4 3.9 .4-1.6 .4-1.6 .4 .1 .5 1.1 .4 2.5 .4-6.5 .4 4.9 .4-3.2 .5 .3 .4-.3 .4 2.6 .4 1.1 .4-1 .5 1.6 .4-1.5 .4-1.6 .4-1.5 .4 4.3 .5-3.3 .4 3.3 .4 .8 .4-3.1 .4 2.8 .5-5.7 .4 .7 .4-.5 .4 3 .4 2 .5-1.7 .4-1.4 .4 3.9 .4-1.9 .4 .1 .5 .1 .4-3.2 .4 .7 .4 2.7 .4 .1 .5-4.1 .4 .3 .4 4.1 .4-2.6 .4-.7 .5-1.6 .4 2.5 .4 4.6 .4-4.6 .4 3.6 .5-3.2 .4-1.6 .4 2.6 .4 1.5 .4-3.7 .5 1.3 .4-1.9 .4 3.8 .4 1.7 .4 0 .5-5.2 .4 2.1 .4-3.3 .4 4.7 .4-1.1 .5-1.7 .4-2.1 .4 5.3 .4-4.7 .4 .7 .5 2.7 .4-2.3 .4 3.1 .4-4.5 .4 0 .5 3.8 .4 1.2 .4-1.2 .4-1.4 .4-2.2 .5 1.3 .4 3.5 .4-4.7 .4 2.5 .4-1.2 .5 1.9 .4-4.4 .4 3.9 .4-2.8 .4 4 .5-1.2 .4-3.1 .4 1.6 .4 1 .4 2.9 .5-.2 .4-3.8 .4-2 .4 4.8 .4 .4 .5-.4 .4-2.4 .4-2.1 .4 .1 .4 3.3 .5 .1 .4 0 .4 2.1 .4-3.4 .4 1.4 .5-3.3 .4 1.4 .4-1 .4 2.3 .4-1.3 .5 .1 .4 1.1 .4 1.8 .4-3.1 .4-1.3 .5 .8 .4 3.2 .4 .4 .4-2.3 .4-4.8 .5 5.6 .4 .2 .4 .7 .4-3.6 .4-.3 .5-2 .4 3.8 .4-3.7 .4-1.7 .4 3 .5 1.9 .4-4.9 .4 .4 .4 2.1 .4 1.5 .5-2.2 .4 .6 .4-1.1 .4-3.3 .4 5.4 .5-4 .4-3 .4 3.1 .4-4.1 .4-.5 .5 1.8 .4-1.2 .4 5.3 .4-2 .4-2.1 .5 .6 .4-2.1 .4 4.3 .4-4.6 .4 4.9 .5-1.6 .4-.2 .4-2.5 .4-1.2 .4 1.3 .5 0 .4 4.8 .4-2.6 .4-1.4 .4 1.4 .5 2.2 .4-1.4 .4-.4 .4 2.7 .4-.6 .5-3 .4 1 .4 3.1 .4-2.8 .4-.2 .5 3.5 .4-.3 .4-.4 .4-2.3 .4 5.7 .5-2.3 .4-3.4 .4 5.7 .4-3.1 .4 1.8 .5 .1 .4 1.3 .4-4.1 .4 3.9 .4 2.2 .5-5.2 .4 4 .4 2.4 .4-5.5 .4 2.4 .5 3 .4-3.6 .4 1.7 .4 1.7 .4-5.8 .5-.6 .4 .8 .4 2 .4 1.5 .4-1.9 .5-1.1 .4 0 .4 .9 .4 3.7 .4-4.1 .5-.6 .4 4.9 .4 .2 .4 1 .4-6.4 .5 2 .4-.4 .4 3.5 .4-3.9 .4 .2 .5 1.6 .4 2.1 .4-3.9 .4 2.5 .4 2.6 .5-4.9 .4 1.5 .4 3.4 .4-2.5 .4-2.6 .5 1.3 .4 2.9 .4-.2 .4-5 .4 4.2 .5-2 .4-1.2 .4 4.8 .4-1.1 .4-3.7 .5 5.6 .4-5.4 .4 4.9 .4 1.2 .4-4.7 .5-.9 .4 1.7 .4 1.5 .4-.4 .4-3.1 .5 1.4 .4 4.6 .4-2.8 .4-1.6 .4 3.3 .5-5.3 .4 5.6 .4-6.6 .4 .6 .4 4.8 .5-3.7 .4 2.3 .4-.8 .4 .4 .4-1.2 .5-.3 .4 4.3 .4 .7 .4-7.8 .4 5.3 .5-1 .4-1.7 .4 4.9 .4-3.3 .4-.3 .5-2.4 .4-.8 .4 4.1 .4-3.4 .4 .5 .5 .6 .4 .6 .4 5.2 .4-6.7 .4 2.7 .5 .2 .4-1.1 .4 1.5 .4-2 .4 3.1 .5-1.8 .4-.5 .4-.2 .4 1.1 .4-2 .5 .2 .4 1.7 .4 .7 .4-1.4 .4 .5 .5 1 .4-1.7 .4 .7 .4-2.6 .4 3.5 .5 .6 .4-3.6 .4 .7 .4 .4 .4 4.8 .5-3 .4-1.6 .4 3.5 .4-4.5 .4-.1 .5 3.4 .4-1.8 .4 .1 .4-1 .4 3.4 .5-3.8 .4-1 .4 3.5 .4-1.5 .4 1.5 .5-1.5 .4 .6 .4 2.9 .4-4 .4 3 .5 1.8 .4-2.6 .4-2.9 .4-.9 .4 1.2 .5 3.3 .4-2.3 .4 2.9 .4-3.7 .4-1.4 .5 2.2 .4-.7 .4 .1 .4-1.3 .4 4 .5-4.7 .4 6.7 .4-5.5 .4 .3 .4 3.5 .5-2.8 .4-.6 .4 4.5 .4-3.4 .4-.7 .5 .7 .4-.1 .4-.2 .4-2.9 .4 3.4 .5 2.9 .4-.6 .4-4.3 .4 2 .4-.2 .5 .7 .4-2.8 .4 4.5 .4-2.7 .4 3.8 .5-5 .4-1.2 .4 1.7 .4 3.3 .4-3.4 .5-1.5 .4-1.4 .4 .1 .4 2.2 .4 3.4 .5-2.3 .4 2 .4-.4 .4-.3 .4 .5 .5-2.5 .4-3 .4 1.6 .4 3.7 .4-4 .5 1.3 .4 1.6 .4-1.1 .4-2.1 .4 3.8 .5-1.3 .4-3.4 .4 1.4 .4 2.6 .4-1.2 .5-4.4 .4 2.5 .4 3.7 .4-1.7 .4-.2 .5-3.3 .4 4.6 .4-1.1 .4-.9 .4-.9 .5 .9 .4-2.4 .4 5.2 .4 .1 .4 1 .5-3.9 .4-.8 .4-.1 .4 3.3 .4-1.6 .5 .5 .4-1.8 .4-1.1 .4 1.7 .4 3.7 .5-.1 .4 .6 .4-2 .4-.2 .4 4.3 .5-3.9 .4-.7 .4 3.7 .4-3.9 .4 .9 .5-1.1 .4 3.9 .4-5 .4 4 .4 .7 .5-1.1 .4 1 .4-6.2 .4 7.1 .4-6.3 .5 1.1 .4 1.6 .4 .5 .4 2.7 .4-.7 .5 .3 .4-.6 .4-2.7 .4 1.5 .4 1.7 .5-3.8 .4 2.6 .4 2.4 .4-3.3 .4-.5 .5-1.9 .4 .3 .4 3.7 .4-1.7 .4 2.4 .5-.2 .4-4 .4 .7 .4 3.4 .4-1.3 .5 0 .4-.9 .4-3.8 .4 2.5 .4-1.4 .5 .6 .4 2.1 .4-3.3 .4 .4 .4 5.5 .5-1.4 .4-1.3 .4 1.1 .4-3.8 .4 4 .5 .6 .4-3.6 .4 .1 .4-1 .4-.7 .5 4.3 .4-2.4 .4 5.3 .4-7.7 .4 7 .5-2 .4 0 .4-2 .4-1.2 .4 3.3 .5-2.8 .4 1.3 .4-.3 .4-.4 .4-2 .5 2 .4 .9 .4-2.7 .4 2.2 .4-1.4 .5 2.9 .4 .9 .4-.4 .4-3.4 .4-.3 .5-.6 .4 3.2 .4 1.6 .4-4.8 .4 6 .5-5.2 .4 .9 .4 4.1 .4-6 .4 5.6 .5-1.9 .4-1.4 .4 3.9 .4-1.1 .4-2.2 .5-1.8 .4 0 .4 4.4 .4-2.3 .4-.3 .5 2.5 .4-1.1 .4-4.1 .4 1.5 .4 2.8 .5-5.1 .4 5.3 .4-2.3 .4-2 .4 5.7 .5 .8 .4-4.2 .4 .1 .4-1.8 .4 .9 .5 3.8 .4-4.4 .4-.6 .4 3.5 .4-3.5 .5 4.5 .4-.9 .4-.6 .4-1.6 .4-1 .5 4.7 .4 .4 .4-4.5 .4 .3 .4-2.5 .5 5.9 .4-1.6 .4 .5 .4 .3 .4-1.1 .5-3.2 .4 .6 .4 .2 .4 2.4 .4 .5 .5-3 .4 2 .4 .6 .4 .5 .4-3.3 .5 2.2 .4 2.4 .4 .8 .4-4.9 .4-.5 .5 1.6 .4 .9 .4 1.4 .4-1.5 .4 1.4 .5-1.1 .4-.6 .4-2.1 .4 3.6 .4-4.2 .5 3.4 .4-.2 .4 .5 .4-.7 .4 2.4 .5-4.5 .4 1.6 .4-.2 .4-1 .4 3.4 .5 1.9 .4-3.3 .4 3.4 .4-5.4 .4 1.7 .5-2.3 .4 5.7 .4-4.3 .4 .5 .4 1.6 .5-3.7 .4 3.2 .4 .8 .4-3.1 .4 1.7 .5 3.4 .4 0 .4-3.1 .4 .9 .4-1.8 .5 .6 .4 4.1 .4 0 .4-4 .4 1.6 .5-.2 .4 2.5 .4-1.9 .4-.4 .4-4.1 .5 5.2 .4-4 .4-1 .4 4.5 .4-2 .5 2.5 .4-2.8 .4-2.4 .4 .3 .4 .7 .5 .9 .4-.1 .4 1.1 .4-2.7 .4-.3 .5 2.3 .4-1.9 .4 .8 .4 2.3 .4 .6 .5-1 .4-2.4 .4 1.9 .4 1.5 .4-1.1 .5-2.1 .4-.2 .4 .4 .4 3.3 .4 .6 .5-4.4 .4 .7 .4-1 .4 6.8 .4-1.5 .5-4.6 .4 .3 .4 .4 .4 1.3 .4-.5 .5 .5 .4 3.6 .4-3.3 .4 2.2 .4-3.4 .5 1.8 .4-2.6 .4 3.3 .4 1.9 .4-1.4 .5-4.2 .4 5.3 .4-4 .4-1.1 .4 3 .5 1.8 .4-.5 .4-4.9 .4 2.4 .4 1.9 .5-6 .4 5.3 .4 1.1 .4-.5 .4 .9 .5-3.2 .4-.6 .4 3.5 .4-1.8 .4-2.7 .5 1.8 .4-1 .4-.6 .4 2.2 .4-2.9 .5 4.5 .4 .1 .4-5.5 .4 1.1 .4-.5 .5 5.6 .4-2 .4 1.2 .4-.7 .4-2.7 .5-.7 .4 1.8 .4 3.1 .4-1.7 .4-.4 .5 2.2 .4-5.1 .4 6.2 .4-3.6 .4-.6 .5 .1 .4 2.2 .4-.4 .4 .1 .4-3.6 .5-.4 .4 2.4 .4-.7 .4-1.7 .4 2.8 .5-4.1 .4 4.5 .4-2.7 .4 .6 .4 1.9 .5 1.5 .4-4.7 .4 6 .4-.6 .4-4.6 .5 5.7 .4-5.2 .4 1.4 .4-2.3 .4 3.8 .5-4.5 .4 4.1 .4-3.1 .4-.7 .4 4.6 .5-4.7 .4 4.7 .4-3.1 .4 3.9 .4-1.2 .5-.2 .4-2.1 .4 3.3 .4-.4 .4-3.1 .5 1.1 .4 1.5 .4 1.4 .4 .2 .4-2 .5 1.6 .4-.7 .4 .1 .4-.5 .4-2.8 .5 3.4 .4-4.4 .4 4.1 .4-4.3 .4 1.1 .5 1.7 .4 1.6 .4-.1 .4-3.9 .4-.1 .5 4.4 .4-2.4 .4 3.2 .4-5.2 .4 5 .5-3.9 .4 4.6 .4-.1 .4-6.2 .4-.2 .5 4.5 .4-3.3 .4 1 .4 2.6 .4-3.6 .5 2.5 .4 1.4 .4 .9 .4-5.3 .4 .6 .5 3.3 .4-.9 .4-1.3 .4-.5 .4 3.2 .5-2.9 .4-.2 .4 4.3 .4-4.6 .4 .9 .5 1.6 .4-2.2 .4 2.6 .4-3.5 .4 2.5 .5 2.3 .4 .2 .4-1.6 .4-3.5 .4 4.6 .5-1.2 .4-.5 .4 3.1 .4-4.9 .4 3.8 .5 .4 .4-5.2 .4 1.4 .4 3 .4-3.7 .5 3.8 .4 .1 .4-3 .4 .8 .4 1.4 .5 1.5 .4-5.1 .4 5.4 .4-5.8 .4 4 .5 .8 .4-5.5 .4 3.4 .4-1.8 .4 3 .5-.9 .4 1.7 .4-3.2 .4 4.2 .4-2.8 .5-1.9 .4 3 .4-2.8 .4 5.1 .4-6 .5 2.3 .4-.4 .4 3.3 .4-3.7 .4-2 .5 2.2 .4 2.3 .4 1.4 .4-.9 .4-.2 .5 1.1 .4-4.3 .4 4.1 .4-1.5 .4-2.4 .5 3.7 .4 1.8 .4-4.7 .4 1.3 .4-1.4 .5 4.6 .4-6.9 .4 .8 .4 5.5 .4-4.2 .5 1.4 .4-2.1 .4 5.4 .4-.9 .4-.3 .5-2.2 .4 3.3 .4-1 .4-1.4 .4 .6 .5-1.9 .4-2 .4 3.1 .4 3 .4-4 .5 2.2 .4 1.1 .4-1.2 .4 .9 .4-4.9 .5-.2 .4 5 .4-5.6 .4 4.2 .4 .1 .5-1.7 .4-.9 .4 1.9 .4 1.9 .4-4.3 .5 2.2 .4-2 .4 1.7 .4-.3 .4 2.1 .5 .9 .4-4.6 .4 3.3 .4 1.1 .4-4.5 .5 3.8 .4-4 .4 4 .4-3.1 .4 2.9 .5 1.1 .4-2.5 .4 3.6 .4-4.2 .4 1.1 .5-2 .4 1.2 .4 4.2 .4-5.3 .4 .8 .5 1 .4-1.9 .4 4.2 .4-.8 .4-3.8 .5 .4 .4 2.5 .4 1.3 .4-3.2 .4 4.6 .5-5.7 .4 0 .4 2.7 .4 1.2 .4-.5 .5-2.2 .4-1.1 .4 2.4 .4-.4 .4 1.9 .5-2 .4 4 .4-3.5 .4-.8 .4 .2 .5 4 .4-.5 .4-1.4 .4 .5 .4-3 .5 4.1 .4-3.8 .4 2.4 .4-1.2 .4-1.6 .5 1.3 .4 1.3 .4 1.8 .4-7.7 .4 6.1 .5 1 .4-1.2 .4 1.3 .4-.5 .4-4.8 .5 2.3 .4-3.8 .4 4.2 .4-2.5 .4 4.1 .5-5.2 .4 2.8 .4 3.1 .4-.7 .4-2.2 .5-2 .4 4.8 .4-4.9 .4-.8 .4-.3 .5 6.4 .4-2.4 .4-.8 .4 .5 .4 0 .5 .4 .4 2.5 .4-3.2 .4 3.8 .4-5.3 .5 .8 .4 1.4 .4 2.8 .4-5.5 .4 5.2 .5-6.2 .4 5.2 .4 0 .4-1 .4-3.3 .5 5.9 .4-5.4 .4-.4 .4 1.9 .4-.6 .5-1.6 .4 5.6 .4-4.2 .4 2.6 .4 .9 .5 .4 .4-3.8 .4 2.1 .4 .6 .4 .5 .5 0 .4-.5 .4-1 .4-.9 .4 .5 .5-.6 .4 2.4 .4-5.7 .4 2.8 .4-.2 .5-2 .4 5.2 .4-2.3 .4-2.8 .4 .8 .5 .6 .4 1.8 .4 2.9 .4-.4 .4-1.9 .5-.3 .4 1.5 .4-.1 .4-4.1 .4 4 .5-3.2 .4-1.1 .4 1.3 .4 4.3 .4-6.3 .5 5.5 .4-3.8 .4 2.9 .4-3 .4 1.4 .5 1.5 .4-3.5 .4 5.3 .4-.7 .4-5.4 .5 1.8 .4 3.8 .4-1.5 .4-1.2 .4-.8 .5 3.6 .4 1 .4-5.4 .4 .4 .4 1 .5 1.9 .4-3.3 .4 2.4 .4-.9 .4-2.2 .5 6.9 .4-1.4 .4-2.6 .4-2 .4 6.1 .5-1.2 .4-4.2 .4 3.4 .4-4.1 .4 .9 .5 4.7 .4-2 .4-.5 .4-3.4 .4 1.1 .5 1 .4 3.9 .4-5.6 .4 3.7 .4-4.5 .5 5.3 .4-4.9 .4 4.8 .4-4.4 .4 2.2 .5-3.1 .4-.6 .4 .8 .4 2.2 .4-3.2 .5 4.6 .4-2 .4 .4 .4-2.1 .4 2.1 .5 1.4 .4-3.2 .4 3.4 .4 .6 .4-.3 .5 .4 .4-3.6 .4 4 .4-2.9 .4 .7 .5-1.9 .4-.5 .4 6 .4-4.9 .4 3.9 .5-1.4 .4-3 .4-.4 .4 0 .4 1.6 .5 1.7 .4-1.6 .4 2.5 .4-4.4 .4 1.8 .5 2.4 .4 2.7 .4-1.5 .4-1 .4 .4 .5-2.3 .4 3.5 .4-6 .4 6.3 .4-2.3 .5-2.5 .4 2.4 .4-1 .4 2.8 .4-2 .5-4 .4 5.6 .4-.6 .4-3.5 .4 3.2 .5-1.5 .4-.9 .4-1.5 .4 5.1 .4-2.1 .5-1.3 .4 1.6 .4 .1 .4-2.5 .4-1.5 .5 5.3 .4-5.2 .4 .4 .4-.2 .4 3.8 .5-.8 .4-2.6 .4 .5 .4 4.8 .4-7 .5 6 .4-2.5 .4 .5 .4-1.2 .4 .3 .5 1.1 .4-3.7 .4 3.1 .4-1.3 .4 2.5 .5-.6 .4-1.5 .4 3.1 .4-1 .4-.6 .5-1.5 .4 3.5 .4-5 .4 5.5 .4-2.7 .5 3.6 .4-1.2 .4-1.9 .4-.6 .4-1.2 .5 3.1 .4-5.6 .4 6.6 .4-.1 .4-5.6 .5 5.6 .4 .3 .4-3.8 .4 3.3 .4-.7 .5-4.7 .4 6 .4-4.4 .4-1.1 .4 3.6 .5-.9 .4-.9 .4 2.4 .4-3.6 .4-.1 .5 4.8 .4-1.3 .4-4.5 .4 3.8 .4-3.7 .5 2.7 .4 2.7 .4-.2 .4-.7 .4 .9 .5-2.2 .4 .1 .4-2.5 .4 2 .4-1.3 .5-.4 .4 1.1 .4 1.1 .4 .6 .4 1.6 .5-5.2 .4 5.5 .4-1.8 .4-2.5 .4-1 .5 2 .4-.2 .4-.3 .4 1.3 .4-1.4 .5 1.3 .4-.8 .4 1.4 .4-3.4 .4 1.2 .5 2.9 .4 1.3 .4-3.6 .4-1.9 .4 6.1 .5-2.9 .4-3.2 .4 5.8 .4-3.7 .4-1.5 .5 1.9 .4 2.5 .4-.7 .4-.6 .4-.3 .5-.1 .4 .6 .4 .2 .4-2.7 .4 1.7 .5 2.2 .4-2.3 .4 .6 .4 .8 .4-.2 .5 .5 .4-3.1 .4 0 .4-2 .4 4.5 .5-1.4 .4 .1 .4 2.2 .4-.4 .4-.9 .5 2.5 .4-1.8 .4-.8 .4-3.2 .4 3.5 .5-2.8 .4 1.5 .4-3 .4 1.5 .4 .1 .5 2.8 .4-3.6 .4 4 .4-3.3 .4 2.2 .5-.3 .4-1.4 .4-1.5 .4 2.9 .4-1.4 .5-1.8 .4 3.4 .4 1.5 .4 .5 .4-3.9 .5-1.4 .4 3.3 .4-2 .4 .2 .4-.3 .5 5.3 .4-5.1 .4 .3 .4-1.7 .4 1.5 .5-.8 .4 .7 .4 3.2 .4-.5 .4-1.5 .5 2.7 .4-4 .4 1.4 .4-2.2 .4 3.4 .5 1.2 .4-1.1 .4 .2 .4 1.9 .4-3.7 .5-.5 .4 3.6 .4-2.5 .4-1.2 .4 .9 .5 1.3 .4-2.4 .4 3.7 .4-3.9 .4 4.4 .5-5.2 .4 1.7 .4 3 .4-3.9 .4 1.4 .5 .6 .4 2 .4-.9 .4-1.2 .4 .7 .5 .4 .4 2.6 .4-2.3 .4 .3 .4 1.6 .5-1.8 .4-4.3 .4 4.4 .4-1.4 .4 2.9 .5-5.7 .4 2.9 .4-3.9 .4 2.5 .4 1 .5 1 .4-1.5 .4 3 .4 0 .4-1.9 .5-1.8 .4 1.4 .4-2.1 .4 1.9 .4-2.9" stroke="#808000"/>
</g>
<g stroke-width="2.4" stroke-dasharray="2.6 6.1">
<line x1="367.0" y1="410" x2="367.0" y2="1198" stroke="#858585"/>
<line x1="379.8" y1="332" x2="379.8" y2="1198" stroke="#858585"/>
<line x1="394.4" y1="245" x2="394.4" y2="1198" stroke="#ff5a6a"/>
<line x1="442.2" y1="412" x2="442.2" y2="1198" stroke="#858585"/>
<line x1="487.8" y1="417" x2="487.8" y2="1198" stroke="#858585"/>
<line x1="590.2" y1="424" x2="590.2" y2="1198" stroke="#ff5a6a"/>
<line x1="718.2" y1="416" x2="718.2" y2="1198" stroke="#858585"/>
<line x1="755.2" y1="414" x2="755.2" y2="1198" stroke="#858585"/>
<line x1="814.9" y1="406" x2="814.9" y2="1198" stroke="#858585"/>
<line x1="925.8" y1="414" x2="925.8" y2="1198" stroke="#858585"/>
<line x1="1042.7" y1="420" x2="1042.7" y2="1198" stroke="#858585"/>
</g>
<g fill="#000">
<polygon points="365.5,387.0 368.4,396.0 377.9,396.0 370.2,401.5 373.1,410.5 365.5,405.0 357.9,410.5 360.8,401.5 353.1,396.0 362.6,396.0"/>
<polygon points="380.2,308.5 383.1,317.5 392.6,317.5 384.9,323.0 387.8,332.0 380.2,326.5 372.6,332.0 375.5,323.0 367.8,317.5 377.3,317.5"/>
<polygon points="400.4,212.4 403.3,221.4 412.8,221.4 405.1,226.9 408.0,235.9 400.4,230.4 392.8,235.9 395.7,226.9 388.0,221.4 397.5,221.4"/>
<polygon points="442.5,380.0 445.4,389.0 454.9,389.0 447.2,394.5 450.1,403.5 442.5,398.0 434.9,403.5 437.8,394.5 430.1,389.0 439.6,389.0"/>
<polygon points="487.6,380.0 490.5,389.0 500.0,389.0 492.3,394.5 495.2,403.5 487.6,398.0 480.0,403.5 482.9,394.5 475.2,389.0 484.7,389.0"/>
<polygon points="591.0,383.0 593.9,392.0 603.4,392.0 595.7,397.5 598.6,406.5 591.0,401.0 583.4,406.5 586.3,397.5 578.6,392.0 588.1,392.0"/>
<polygon points="715.7,374.0 718.6,383.0 728.1,383.0 720.4,388.5 723.3,397.5 715.7,392.0 708.1,397.5 711.0,388.5 703.3,383.0 712.8,383.0"/>
<polygon points="756.2,375.7 759.1,384.7 768.6,384.7 760.9,390.2 763.8,399.2 756.2,393.7 748.6,399.2 751.5,390.2 743.8,384.7 753.3,384.7"/>
<polygon points="814.5,377.4 817.4,386.4 826.9,386.4 819.2,391.9 822.1,400.9 814.5,395.4 806.9,400.9 809.8,391.9 802.1,386.4 811.6,386.4"/>
<polygon points="924.8,374.5 927.7,383.5 937.2,383.5 929.5,389.0 932.4,398.0 924.8,392.5 917.2,398.0 920.1,389.0 912.4,383.5 921.9,383.5"/>
<polygon points="1042.8,374.0 1045.7,383.0 1055.2,383.0 1047.5,388.5 1050.4,397.5 1042.8,392.0 1035.2,397.5 1038.1,388.5 1030.4,383.0 1039.9,383.0"/>
<circle cx="331.5" cy="1085.4" r="10.7"/>
<circle cx="524.9" cy="1069.3" r="10.7"/>
<circle cx="628.0" cy="1069.3" r="10.7"/>
<circle cx="948.8" cy="1115.5" r="10.7"/>
<circle cx="1150.2" cy="1111.7" r="10.7"/>
</g>
<g font-size="40">
<text transform="translate(363.3 381.3) rotate(-90)">(002)</text>
<text transform="translate(384.0 296.0) rotate(-90)">(020)</text>
<text transform="translate(415.7 201.1) rotate(-90)">(200)</text>
<text transform="translate(450.6 378.0) rotate(-90)">(110)</text>
<text transform="translate(500.8 372.5) rotate(-90)">(112)</text>
<text transform="translate(605.6 370.3) rotate(-90)">(202)</text>
<text transform="translate(723.8 371.2) rotate(-90)">(210)</text>
<text transform="translate(765.8 372.1) rotate(-90)">(222)</text>
<text transform="translate(826.2 369.5) rotate(-90)">(140)</text>
<text transform="translate(936.8 369.8) rotate(-90)">(400)</text>
<text transform="translate(1051.8 368.0) rotate(-90)">(420)</text>
</g>
<g fill="none" stroke="#000" stroke-width="4.8">
<path d="M203 13H1673V1200H203Z M203 1200V1211 M1673 1200V1209.5"/>
<path d="M178.5 13.0H203 M191.0 144.9H203 M178.5 276.8H203 M191.0 408.7H203 M178.5 540.6H203 M191.0 672.4H203 M178.5 804.3H203 M191.0 936.2H203 M178.5 1068.1H203 M191.0 1200.0H203 M202.5 1200V1211.0 M307.5 1200V1223.5 M412.5 1200V1211.0 M517.5 1200V1223.5 M622.5 1200V1211.0 M727.5 1200V1223.5 M832.5 1200V1211.0 M937.5 1200V1223.5 M1042.5 1200V1211.0 M1147.5 1200V1223.5 M1252.5 1200V1211.0 M1357.5 1200V1223.5 M1462.5 1200V1211.0 M1567.5 1200V1223.5 M1672.5 1200V1211.0"/>
</g>
<g font-size="78" text-anchor="middle">
<text x="307.5" y="1305">20</text>
<text x="517.5" y="1305">30</text>
<text x="727.5" y="1305">40</text>
<text x="937.5" y="1305">50</text>
<text x="1147.5" y="1305">60</text>
<text x="1357.5" y="1305">70</text>
<text x="1567.5" y="1305">80</text>
</g>
<text font-size="101" transform="translate(87 951.3) rotate(-90)">Intensity (arb.units)</text>
<text font-size="104" x="793.9" y="1439">2θ</text>
<g stroke="#fff" style="paint-order:fill"><g font-size="99" stroke-width="2.6"><text class="ss" x="935" y="1428.4">(</text><text class="ss" x="1008.4" y="1428.4">)</text></g><text class="ss" x="970.8" y="1398.3" font-size="62" stroke-width="1.8">o</text></g>
<g stroke-width="4.4" stroke-linecap="butt" font-size="57">
<line x1="1289" y1="102.8" x2="1417" y2="102.8" stroke="#800000"/>
<text x="1430.0" y="121.1">base ITO</text>
<line x1="1289" y1="171.5" x2="1417" y2="171.5" stroke="#000000"/>
<text x="1429.0" y="189.8">300 K</text>
<line x1="1289" y1="240.2" x2="1417" y2="240.2" stroke="#FF0000"/>
<text x="1429.0" y="258.4">473 K</text>
<line x1="1289" y1="308.9" x2="1417" y2="308.9" stroke="#0000FF"/>
<text x="1429.0" y="327.1">573 K</text>
<line x1="1289" y1="377.6" x2="1417" y2="377.6" stroke="#008080"/>
<text x="1429.0" y="395.7">673 K</text>
<line x1="1289" y1="446.3" x2="1417" y2="446.3" stroke="#808000"/>
<text x="1429.0" y="464.4">743 K</text>
</g>
<g font-size="57">
<text x="820.2" y="91.6" textLength="90.4" lengthAdjust="spacingAndGlyphs">WO</text><text x="910.2" y="106.3" font-size="38">3</text>
<text x="795.2" y="172.6">In<tspan x="840" y="187.3" font-size="38">2</tspan><tspan x="859" y="172.6">O</tspan><tspan x="900.4" y="187.3" font-size="38">3</tspan><tspan x="917" y="172.6">:Sn</tspan></text>
</g>
<polygon points="750.0,53.3 755.1,68.8 771.4,68.8 758.2,78.5 763.2,94.0 750.0,84.4 736.8,94.0 741.8,78.5 728.6,68.8 744.9,68.8"/>
<circle cx="747.4" cy="156.5" r="16"/>
</svg>
</body></html>
